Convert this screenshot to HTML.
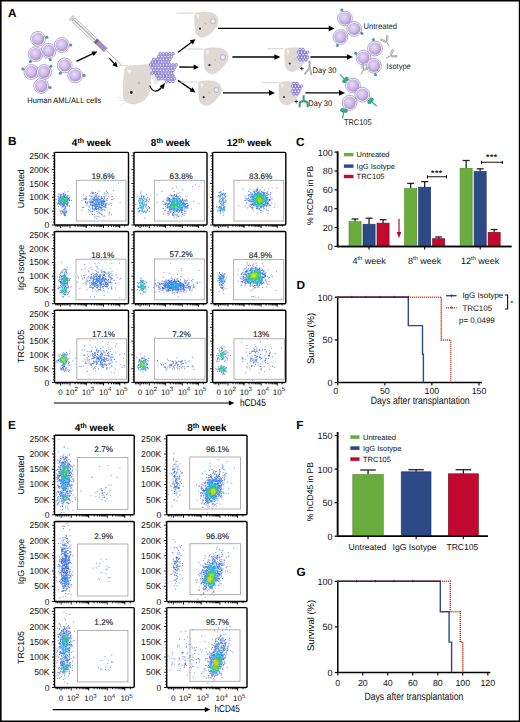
<!DOCTYPE html>
<html><head><meta charset="utf-8"><style>
html,body{margin:0;padding:0;background:#fff;}
body{width:520px;height:722px;overflow:hidden;font-family:"Liberation Sans", sans-serif;}
svg{display:block;}
</style></head><body>
<svg width="520" height="722" viewBox="0 0 520 722" font-family="'Liberation Sans', sans-serif" text-rendering="geometricPrecision">
<rect x="0" y="0" width="520" height="722" fill="#fff"/>
<defs><filter id="bl" x="-5%" y="-5%" width="110%" height="110%"><feGaussianBlur stdDeviation="0.35"/></filter></defs>
<text x="8.0" y="17.0" font-size="11.8" font-weight="bold">A</text>
<text x="8.0" y="145.0" font-size="11.8" font-weight="bold">B</text>
<text x="296.0" y="145.6" font-size="11.8" font-weight="bold">C</text>
<text x="296.6" y="288.6" font-size="11.8" font-weight="bold">D</text>
<text x="8.0" y="428.8" font-size="11.8" font-weight="bold">E</text>
<text x="296.3" y="429.0" font-size="11.8" font-weight="bold">F</text>
<text x="296.6" y="575.6" font-size="11.8" font-weight="bold">G</text>
<defs>
<radialGradient id="cg" cx="0.42" cy="0.4" r="0.62">
<stop offset="0" stop-color="#e8def4"/><stop offset="0.6" stop-color="#cbb6e4"/><stop offset="1" stop-color="#a98ed0"/>
</radialGradient>
</defs>
<circle cx="38" cy="38.8" r="7.4" fill="#fcfbfe" stroke="#9f92c4" stroke-width="0.8"/>
<circle cx="38" cy="38.8" r="6.22" fill="url(#cg)"/>
<line x1="45.3" y1="37.5" x2="46.9" y2="37.2" stroke="#5b8fa8" stroke-width="1.1"/>
<circle cx="46.9" cy="37.2" r="1.5" fill="#5b8fa8"/>
<circle cx="61.8" cy="45" r="7.4" fill="#fcfbfe" stroke="#9f92c4" stroke-width="0.8"/>
<circle cx="61.8" cy="45" r="6.22" fill="url(#cg)"/>
<line x1="69.2" y1="45.0" x2="70.8" y2="45.0" stroke="#5b8fa8" stroke-width="1.1"/>
<circle cx="70.8" cy="45.0" r="1.5" fill="#5b8fa8"/>
<circle cx="48.6" cy="50.8" r="7.4" fill="#fcfbfe" stroke="#9f92c4" stroke-width="0.8"/>
<circle cx="48.6" cy="50.8" r="6.22" fill="url(#cg)"/>
<line x1="49.9" y1="58.1" x2="50.2" y2="59.7" stroke="#5b8fa8" stroke-width="1.1"/>
<circle cx="50.2" cy="59.7" r="1.5" fill="#5b8fa8"/>
<circle cx="35.6" cy="54.2" r="7.4" fill="#fcfbfe" stroke="#9f92c4" stroke-width="0.8"/>
<circle cx="35.6" cy="54.2" r="6.22" fill="url(#cg)"/>
<line x1="31.4" y1="60.3" x2="30.4" y2="61.6" stroke="#5b8fa8" stroke-width="1.1"/>
<circle cx="30.4" cy="61.6" r="1.5" fill="#5b8fa8"/>
<circle cx="64.8" cy="65.4" r="7.4" fill="#fcfbfe" stroke="#9f92c4" stroke-width="0.8"/>
<circle cx="64.8" cy="65.4" r="6.22" fill="url(#cg)"/>
<line x1="61.1" y1="71.8" x2="60.3" y2="73.2" stroke="#5b8fa8" stroke-width="1.1"/>
<circle cx="60.3" cy="73.2" r="1.5" fill="#5b8fa8"/>
<circle cx="31.4" cy="72" r="7.4" fill="#fcfbfe" stroke="#9f92c4" stroke-width="0.8"/>
<circle cx="31.4" cy="72" r="6.22" fill="url(#cg)"/>
<line x1="24.4" y1="69.5" x2="22.9" y2="68.9" stroke="#5b8fa8" stroke-width="1.1"/>
<circle cx="22.9" cy="68.9" r="1.5" fill="#5b8fa8"/>
<circle cx="44" cy="72" r="7.4" fill="#fcfbfe" stroke="#9f92c4" stroke-width="0.8"/>
<circle cx="44" cy="72" r="6.22" fill="url(#cg)"/>
<line x1="49.7" y1="67.2" x2="50.9" y2="66.2" stroke="#5b8fa8" stroke-width="1.1"/>
<circle cx="50.9" cy="66.2" r="1.5" fill="#5b8fa8"/>
<circle cx="75.2" cy="75.4" r="7.4" fill="#fcfbfe" stroke="#9f92c4" stroke-width="0.8"/>
<circle cx="75.2" cy="75.4" r="6.22" fill="url(#cg)"/>
<line x1="82.6" y1="75.4" x2="84.2" y2="75.4" stroke="#5b8fa8" stroke-width="1.1"/>
<circle cx="84.2" cy="75.4" r="1.5" fill="#5b8fa8"/>
<circle cx="41.2" cy="86" r="7.4" fill="#fcfbfe" stroke="#9f92c4" stroke-width="0.8"/>
<circle cx="41.2" cy="86" r="6.22" fill="url(#cg)"/>
<line x1="48.5" y1="87.3" x2="50.1" y2="87.6" stroke="#5b8fa8" stroke-width="1.1"/>
<circle cx="50.1" cy="87.6" r="1.5" fill="#5b8fa8"/>
<text x="27.3" y="103.1" font-size="7.9" fill="#111" textLength="74" lengthAdjust="spacingAndGlyphs">Human AML/ALL cells</text>
<g transform="translate(71.5,17.8) rotate(43.4)"><line x1="47" y1="0" x2="69" y2="0" stroke="#9a9a9a" stroke-width="0.7"/><rect x="2.5" y="-2.4" width="44.5" height="4.8" fill="#fafafa" stroke="#a0a0a0" stroke-width="0.7"/><line x1="0" y1="0" x2="33" y2="0" stroke="#b0b0b0" stroke-width="1.2"/><rect x="-0.5" y="-3" width="1.6" height="6" fill="#e0e0e0" stroke="#a0a0a0" stroke-width="0.5"/><rect x="33" y="-2.3" width="13.8" height="4.6" fill="#a48ac0"/><rect x="33" y="-2.3" width="2.6" height="4.6" fill="#6f5e88"/><rect x="46.5" y="-1.2" width="1.6" height="2.4" fill="#c8c8c8"/></g>
<line x1="76.50" y1="61.30" x2="93.32" y2="53.38" stroke="#000" stroke-width="1.3"/>
<path d="M97.3 51.5L93.7 56.1L91.5 51.4Z" fill="#000"/>
<line x1="109.40" y1="58.40" x2="114.78" y2="64.10" stroke="#000" stroke-width="1.3"/>
<path d="M117.8 67.3L112.3 65.3L116.1 61.7Z" fill="#000"/>
<path d="M146 64.5L153 61L161 80L155 84.5Z" fill="#ebe8e6"/>
<path d="M117 65.5H128" stroke="#dfd9d6" stroke-width="1.2"/>
<path d="M124.5 71C124 67 128 65.5 134 65.5L146 64.8C150.5 65.5 151.5 70 151 76L150 90C148.5 98 142 103 134.5 104C128 104.5 123.8 101 123 96L123.5 80Z" fill="#dfd9d6" stroke="#d0c9c5" stroke-width="0.4"/>
<path d="M127 69L131.5 70.5L129.5 74.5Z" fill="#f6f4f3"/>
<circle cx="131.3" cy="92.5" r="1.4" fill="#222"/>
<circle cx="139" cy="83" r="1.2" fill="#c4b6b4"/>
<path d="M117 97L124 99M118 101L125 100.5M120 104.5L126 102" stroke="#ddd" stroke-width="0.5"/>
<path d="M158.90 53.77a1.3 1.3 0 1 0 2.6 0a1.3 1.3 0 1 0 -2.6 0M162.10 53.77a1.3 1.3 0 1 0 2.6 0a1.3 1.3 0 1 0 -2.6 0M165.30 53.77a1.3 1.3 0 1 0 2.6 0a1.3 1.3 0 1 0 -2.6 0M168.50 53.77a1.3 1.3 0 1 0 2.6 0a1.3 1.3 0 1 0 -2.6 0M171.70 53.77a1.3 1.3 0 1 0 2.6 0a1.3 1.3 0 1 0 -2.6 0M157.30 56.54a1.3 1.3 0 1 0 2.6 0a1.3 1.3 0 1 0 -2.6 0M160.50 56.54a1.3 1.3 0 1 0 2.6 0a1.3 1.3 0 1 0 -2.6 0M163.70 56.54a1.3 1.3 0 1 0 2.6 0a1.3 1.3 0 1 0 -2.6 0M166.90 56.54a1.3 1.3 0 1 0 2.6 0a1.3 1.3 0 1 0 -2.6 0M170.10 56.54a1.3 1.3 0 1 0 2.6 0a1.3 1.3 0 1 0 -2.6 0M152.50 59.31a1.3 1.3 0 1 0 2.6 0a1.3 1.3 0 1 0 -2.6 0M155.70 59.31a1.3 1.3 0 1 0 2.6 0a1.3 1.3 0 1 0 -2.6 0M158.90 59.31a1.3 1.3 0 1 0 2.6 0a1.3 1.3 0 1 0 -2.6 0M162.10 59.31a1.3 1.3 0 1 0 2.6 0a1.3 1.3 0 1 0 -2.6 0M165.30 59.31a1.3 1.3 0 1 0 2.6 0a1.3 1.3 0 1 0 -2.6 0M168.50 59.31a1.3 1.3 0 1 0 2.6 0a1.3 1.3 0 1 0 -2.6 0M150.90 62.08a1.3 1.3 0 1 0 2.6 0a1.3 1.3 0 1 0 -2.6 0M154.10 62.08a1.3 1.3 0 1 0 2.6 0a1.3 1.3 0 1 0 -2.6 0M157.30 62.08a1.3 1.3 0 1 0 2.6 0a1.3 1.3 0 1 0 -2.6 0M160.50 62.08a1.3 1.3 0 1 0 2.6 0a1.3 1.3 0 1 0 -2.6 0M163.70 62.08a1.3 1.3 0 1 0 2.6 0a1.3 1.3 0 1 0 -2.6 0M166.90 62.08a1.3 1.3 0 1 0 2.6 0a1.3 1.3 0 1 0 -2.6 0M149.30 64.86a1.3 1.3 0 1 0 2.6 0a1.3 1.3 0 1 0 -2.6 0M152.50 64.86a1.3 1.3 0 1 0 2.6 0a1.3 1.3 0 1 0 -2.6 0M155.70 64.86a1.3 1.3 0 1 0 2.6 0a1.3 1.3 0 1 0 -2.6 0M158.90 64.86a1.3 1.3 0 1 0 2.6 0a1.3 1.3 0 1 0 -2.6 0M162.10 64.86a1.3 1.3 0 1 0 2.6 0a1.3 1.3 0 1 0 -2.6 0M165.30 64.86a1.3 1.3 0 1 0 2.6 0a1.3 1.3 0 1 0 -2.6 0M168.50 64.86a1.3 1.3 0 1 0 2.6 0a1.3 1.3 0 1 0 -2.6 0M171.70 64.86a1.3 1.3 0 1 0 2.6 0a1.3 1.3 0 1 0 -2.6 0M174.90 64.86a1.3 1.3 0 1 0 2.6 0a1.3 1.3 0 1 0 -2.6 0M150.90 67.63a1.3 1.3 0 1 0 2.6 0a1.3 1.3 0 1 0 -2.6 0M154.10 67.63a1.3 1.3 0 1 0 2.6 0a1.3 1.3 0 1 0 -2.6 0M157.30 67.63a1.3 1.3 0 1 0 2.6 0a1.3 1.3 0 1 0 -2.6 0M160.50 67.63a1.3 1.3 0 1 0 2.6 0a1.3 1.3 0 1 0 -2.6 0M163.70 67.63a1.3 1.3 0 1 0 2.6 0a1.3 1.3 0 1 0 -2.6 0M166.90 67.63a1.3 1.3 0 1 0 2.6 0a1.3 1.3 0 1 0 -2.6 0M170.10 67.63a1.3 1.3 0 1 0 2.6 0a1.3 1.3 0 1 0 -2.6 0M173.30 67.63a1.3 1.3 0 1 0 2.6 0a1.3 1.3 0 1 0 -2.6 0M152.50 70.40a1.3 1.3 0 1 0 2.6 0a1.3 1.3 0 1 0 -2.6 0M155.70 70.40a1.3 1.3 0 1 0 2.6 0a1.3 1.3 0 1 0 -2.6 0M158.90 70.40a1.3 1.3 0 1 0 2.6 0a1.3 1.3 0 1 0 -2.6 0M162.10 70.40a1.3 1.3 0 1 0 2.6 0a1.3 1.3 0 1 0 -2.6 0M165.30 70.40a1.3 1.3 0 1 0 2.6 0a1.3 1.3 0 1 0 -2.6 0M168.50 70.40a1.3 1.3 0 1 0 2.6 0a1.3 1.3 0 1 0 -2.6 0M171.70 70.40a1.3 1.3 0 1 0 2.6 0a1.3 1.3 0 1 0 -2.6 0M150.90 73.17a1.3 1.3 0 1 0 2.6 0a1.3 1.3 0 1 0 -2.6 0M154.10 73.17a1.3 1.3 0 1 0 2.6 0a1.3 1.3 0 1 0 -2.6 0M157.30 73.17a1.3 1.3 0 1 0 2.6 0a1.3 1.3 0 1 0 -2.6 0M160.50 73.17a1.3 1.3 0 1 0 2.6 0a1.3 1.3 0 1 0 -2.6 0M163.70 73.17a1.3 1.3 0 1 0 2.6 0a1.3 1.3 0 1 0 -2.6 0M166.90 73.17a1.3 1.3 0 1 0 2.6 0a1.3 1.3 0 1 0 -2.6 0M170.10 73.17a1.3 1.3 0 1 0 2.6 0a1.3 1.3 0 1 0 -2.6 0M155.70 75.94a1.3 1.3 0 1 0 2.6 0a1.3 1.3 0 1 0 -2.6 0M158.90 75.94a1.3 1.3 0 1 0 2.6 0a1.3 1.3 0 1 0 -2.6 0M162.10 75.94a1.3 1.3 0 1 0 2.6 0a1.3 1.3 0 1 0 -2.6 0M165.30 75.94a1.3 1.3 0 1 0 2.6 0a1.3 1.3 0 1 0 -2.6 0M168.50 75.94a1.3 1.3 0 1 0 2.6 0a1.3 1.3 0 1 0 -2.6 0M171.70 75.94a1.3 1.3 0 1 0 2.6 0a1.3 1.3 0 1 0 -2.6 0M157.30 78.71a1.3 1.3 0 1 0 2.6 0a1.3 1.3 0 1 0 -2.6 0M160.50 78.71a1.3 1.3 0 1 0 2.6 0a1.3 1.3 0 1 0 -2.6 0M163.70 78.71a1.3 1.3 0 1 0 2.6 0a1.3 1.3 0 1 0 -2.6 0M166.90 78.71a1.3 1.3 0 1 0 2.6 0a1.3 1.3 0 1 0 -2.6 0M170.10 78.71a1.3 1.3 0 1 0 2.6 0a1.3 1.3 0 1 0 -2.6 0M173.30 78.71a1.3 1.3 0 1 0 2.6 0a1.3 1.3 0 1 0 -2.6 0M165.30 81.48a1.3 1.3 0 1 0 2.6 0a1.3 1.3 0 1 0 -2.6 0M168.50 81.48a1.3 1.3 0 1 0 2.6 0a1.3 1.3 0 1 0 -2.6 0M171.70 81.48a1.3 1.3 0 1 0 2.6 0a1.3 1.3 0 1 0 -2.6 0" fill="#f2eefb" stroke="#8072d0" stroke-width="0.95"/>
<path d="M149.8 85.6C152 92 157 93 161.5 87.5" stroke="#000" stroke-width="1.2" fill="none"/>
<path d="M165 83L159.6 86.2L163.4 89.2Z" fill="#000"/>
<line x1="178.10" y1="52.30" x2="191.88" y2="41.94" stroke="#000" stroke-width="1.3"/>
<path d="M195.4 39.3L192.8 44.5L189.7 40.3Z" fill="#000"/>
<line x1="179.30" y1="67.00" x2="194.50" y2="67.16" stroke="#000" stroke-width="1.3"/>
<path d="M198.9 67.2L193.7 69.7L193.7 64.5Z" fill="#000"/>
<line x1="178.00" y1="80.40" x2="191.78" y2="89.90" stroke="#000" stroke-width="1.3"/>
<path d="M195.4 92.4L189.6 91.6L192.6 87.3Z" fill="#000"/>
<g transform="translate(185.5,11.7) scale(1.0)"><path d="M-9 1.5H8" stroke="#ddd6d3" stroke-width="1.2"/><path d="M9.5 1.5C16 0 25 -0.5 30 3C34 7 33 13 29 17C26 21 22 24.5 18.5 25.5C14.5 26 11 23.5 10 20C9 14 8.8 7 9.5 1.5Z" fill="#dfd9d6" stroke="#d0c9c5" stroke-width="0.4"/><path d="M11 2.5L14 3.5L12.5 8Z" fill="#f8f6f5"/><circle cx="27.5" cy="9.5" r="2.6" fill="#ebe6e8" stroke="#a49cc4" stroke-width="0.7"/><circle cx="27.5" cy="9.5" r="1.1" fill="#fff"/><circle cx="14.5" cy="17" r="1.1" fill="#333"/><circle cx="20" cy="12" r="0.9" fill="#c7bbb9"/></g>
<g transform="translate(194.5,47.5) scale(1.03)"><path d="M-9 1.5H8" stroke="#ddd6d3" stroke-width="1.2"/><path d="M9.5 1.5C16 0 25 -0.5 30 3C34 7 33 13 29 17C26 21 22 24.5 18.5 25.5C14.5 26 11 23.5 10 20C9 14 8.8 7 9.5 1.5Z" fill="#dfd9d6" stroke="#d0c9c5" stroke-width="0.4"/><path d="M11 2.5L14 3.5L12.5 8Z" fill="#f8f6f5"/><circle cx="27.5" cy="9.5" r="2.6" fill="#ebe6e8" stroke="#a49cc4" stroke-width="0.7"/><circle cx="27.5" cy="9.5" r="1.1" fill="#fff"/><circle cx="14.5" cy="17" r="1.1" fill="#333"/><circle cx="20" cy="12" r="0.9" fill="#c7bbb9"/></g>
<g transform="translate(189.5,80.5) scale(0.98)"><path d="M-9 1.5H8" stroke="#ddd6d3" stroke-width="1.2"/><path d="M9.5 1.5C16 0 25 -0.5 30 3C34 7 33 13 29 17C26 21 22 24.5 18.5 25.5C14.5 26 11 23.5 10 20C9 14 8.8 7 9.5 1.5Z" fill="#dfd9d6" stroke="#d0c9c5" stroke-width="0.4"/><path d="M11 2.5L14 3.5L12.5 8Z" fill="#f8f6f5"/><circle cx="27.5" cy="9.5" r="2.6" fill="#ebe6e8" stroke="#a49cc4" stroke-width="0.7"/><circle cx="27.5" cy="9.5" r="1.1" fill="#fff"/><circle cx="14.5" cy="17" r="1.1" fill="#333"/><circle cx="20" cy="12" r="0.9" fill="#c7bbb9"/></g>
<g transform="translate(276,47.3) scale(0.95)"><path d="M-9 1.5H8" stroke="#ddd6d3" stroke-width="1.2"/><path d="M9.5 1.5C16 0 25 -0.5 30 3C34 7 33 13 29 17C26 21 22 24.5 18.5 25.5C14.5 26 11 23.5 10 20C9 14 8.8 7 9.5 1.5Z" fill="#dfd9d6" stroke="#d0c9c5" stroke-width="0.4"/><path d="M11 2.5L14 3.5L12.5 8Z" fill="#f8f6f5"/><circle cx="14.5" cy="17" r="1.1" fill="#333"/><circle cx="20" cy="12" r="0.9" fill="#c7bbb9"/></g>
<g transform="translate(270.5,81.2) scale(0.93)"><path d="M-9 1.5H8" stroke="#ddd6d3" stroke-width="1.2"/><path d="M9.5 1.5C16 0 25 -0.5 30 3C34 7 33 13 29 17C26 21 22 24.5 18.5 25.5C14.5 26 11 23.5 10 20C9 14 8.8 7 9.5 1.5Z" fill="#dfd9d6" stroke="#d0c9c5" stroke-width="0.4"/><path d="M11 2.5L14 3.5L12.5 8Z" fill="#f8f6f5"/><circle cx="14.5" cy="17" r="1.1" fill="#333"/><circle cx="20" cy="12" r="0.9" fill="#c7bbb9"/></g>
<path d="M298.70 49.50a1.3 1.3 0 1 0 2.6 0a1.3 1.3 0 1 0 -2.6 0M301.70 49.50a1.3 1.3 0 1 0 2.6 0a1.3 1.3 0 1 0 -2.6 0M297.20 52.10a1.3 1.3 0 1 0 2.6 0a1.3 1.3 0 1 0 -2.6 0M300.20 52.10a1.3 1.3 0 1 0 2.6 0a1.3 1.3 0 1 0 -2.6 0M303.20 52.10a1.3 1.3 0 1 0 2.6 0a1.3 1.3 0 1 0 -2.6 0M306.20 52.10a1.3 1.3 0 1 0 2.6 0a1.3 1.3 0 1 0 -2.6 0M298.70 54.70a1.3 1.3 0 1 0 2.6 0a1.3 1.3 0 1 0 -2.6 0M301.70 54.70a1.3 1.3 0 1 0 2.6 0a1.3 1.3 0 1 0 -2.6 0M304.70 54.70a1.3 1.3 0 1 0 2.6 0a1.3 1.3 0 1 0 -2.6 0M297.20 57.30a1.3 1.3 0 1 0 2.6 0a1.3 1.3 0 1 0 -2.6 0M300.20 57.30a1.3 1.3 0 1 0 2.6 0a1.3 1.3 0 1 0 -2.6 0M303.20 57.30a1.3 1.3 0 1 0 2.6 0a1.3 1.3 0 1 0 -2.6 0M306.20 57.30a1.3 1.3 0 1 0 2.6 0a1.3 1.3 0 1 0 -2.6 0M298.70 59.90a1.3 1.3 0 1 0 2.6 0a1.3 1.3 0 1 0 -2.6 0M301.70 59.90a1.3 1.3 0 1 0 2.6 0a1.3 1.3 0 1 0 -2.6 0M304.70 59.90a1.3 1.3 0 1 0 2.6 0a1.3 1.3 0 1 0 -2.6 0" fill="#f2eefb" stroke="#8072d0" stroke-width="0.9"/>
<path d="M292.70 83.50a1.3 1.3 0 1 0 2.6 0a1.3 1.3 0 1 0 -2.6 0M295.70 83.50a1.3 1.3 0 1 0 2.6 0a1.3 1.3 0 1 0 -2.6 0M291.20 86.10a1.3 1.3 0 1 0 2.6 0a1.3 1.3 0 1 0 -2.6 0M294.20 86.10a1.3 1.3 0 1 0 2.6 0a1.3 1.3 0 1 0 -2.6 0M297.20 86.10a1.3 1.3 0 1 0 2.6 0a1.3 1.3 0 1 0 -2.6 0M300.20 86.10a1.3 1.3 0 1 0 2.6 0a1.3 1.3 0 1 0 -2.6 0M292.70 88.70a1.3 1.3 0 1 0 2.6 0a1.3 1.3 0 1 0 -2.6 0M295.70 88.70a1.3 1.3 0 1 0 2.6 0a1.3 1.3 0 1 0 -2.6 0M298.70 88.70a1.3 1.3 0 1 0 2.6 0a1.3 1.3 0 1 0 -2.6 0M291.20 91.30a1.3 1.3 0 1 0 2.6 0a1.3 1.3 0 1 0 -2.6 0M294.20 91.30a1.3 1.3 0 1 0 2.6 0a1.3 1.3 0 1 0 -2.6 0M297.20 91.30a1.3 1.3 0 1 0 2.6 0a1.3 1.3 0 1 0 -2.6 0M292.70 93.90a1.3 1.3 0 1 0 2.6 0a1.3 1.3 0 1 0 -2.6 0M295.70 93.90a1.3 1.3 0 1 0 2.6 0a1.3 1.3 0 1 0 -2.6 0" fill="#f2eefb" stroke="#8072d0" stroke-width="0.9"/>
<line x1="218.00" y1="28.40" x2="329.20" y2="28.40" stroke="#000" stroke-width="1.3"/>
<path d="M334.7 28.4L328.7 25.6L328.7 31.2Z" fill="#000"/>
<line x1="232.40" y1="57.00" x2="274.90" y2="57.00" stroke="#000" stroke-width="1.3"/>
<path d="M280.4 57.0L274.4 54.2L274.4 59.8Z" fill="#000"/>
<line x1="310.50" y1="57.00" x2="347.50" y2="57.00" stroke="#000" stroke-width="1.3"/>
<path d="M353.0 57.0L347.0 54.2L347.0 59.8Z" fill="#000"/>
<line x1="223.00" y1="92.90" x2="269.50" y2="92.90" stroke="#000" stroke-width="1.3"/>
<path d="M275.0 92.9L269.0 90.1L269.0 95.7Z" fill="#000"/>
<line x1="305.40" y1="92.90" x2="339.50" y2="92.90" stroke="#000" stroke-width="1.3"/>
<path d="M345.0 92.9L339.0 90.1L339.0 95.7Z" fill="#000"/>
<path d="M300 68.6H303.6M301.8 66.8V70.4" stroke="#222" stroke-width="0.9"/>
<path d="M309.6 61.5V67.8M309.4 67.8L305 73.8M309.8 67.8L311.4 74.3" stroke="#a4a4a4" stroke-width="1.9" stroke-linecap="round" fill="none"/>
<path d="M309.4 68.2L305.4 73.6M309.8 68.2L311.2 73.9" stroke="#d4d4d4" stroke-width="0.6" fill="none"/>
<text x="312.6" y="72.5" font-size="8.2" fill="#111" textLength="23.8" lengthAdjust="spacingAndGlyphs">Day 30</text>
<path d="M294.4 101.5H298M296.2 99.7V103.3" stroke="#222" stroke-width="0.9"/>
<path d="M299.6 107.2V104C299.6 100.2 307.6 100.2 307.6 104V107.2M303.6 101.2V95.2" stroke="#3a9c80" stroke-width="2.1" fill="none"/>
<text x="308.3" y="105.6" font-size="8.2" fill="#111" textLength="23.8" lengthAdjust="spacingAndGlyphs">Day 30</text>
<circle cx="345" cy="18.5" r="7.4" fill="#fcfbfe" stroke="#9f92c4" stroke-width="0.8"/>
<circle cx="345" cy="18.5" r="6.22" fill="url(#cg)"/>
<line x1="342.5" y1="11.5" x2="341.9" y2="10.0" stroke="#5b8fa8" stroke-width="1.1"/>
<circle cx="341.9" cy="10.0" r="1.5" fill="#5b8fa8"/>
<circle cx="354.2" cy="28.9" r="7.4" fill="#fcfbfe" stroke="#9f92c4" stroke-width="0.8"/>
<circle cx="354.2" cy="28.9" r="6.22" fill="url(#cg)"/>
<line x1="360.6" y1="32.6" x2="362.0" y2="33.4" stroke="#5b8fa8" stroke-width="1.1"/>
<circle cx="362.0" cy="33.4" r="1.5" fill="#5b8fa8"/>
<circle cx="340.4" cy="37" r="7.4" fill="#fcfbfe" stroke="#9f92c4" stroke-width="0.8"/>
<circle cx="340.4" cy="37" r="6.22" fill="url(#cg)"/>
<line x1="337.9" y1="44.0" x2="337.3" y2="45.5" stroke="#5b8fa8" stroke-width="1.1"/>
<circle cx="337.3" cy="45.5" r="1.5" fill="#5b8fa8"/>
<text x="363.5" y="29.2" font-size="8.2" fill="#222" textLength="33.5" lengthAdjust="spacingAndGlyphs">Untreated</text>
<circle cx="375" cy="48.5" r="7.4" fill="#fcfbfe" stroke="#9f92c4" stroke-width="0.8"/>
<circle cx="375" cy="48.5" r="6.22" fill="url(#cg)"/>
<line x1="373.7" y1="41.2" x2="373.4" y2="39.6" stroke="#5b8fa8" stroke-width="1.1"/>
<circle cx="373.4" cy="39.6" r="1.5" fill="#5b8fa8"/>
<circle cx="363.5" cy="57.7" r="7.4" fill="#fcfbfe" stroke="#9f92c4" stroke-width="0.8"/>
<circle cx="363.5" cy="57.7" r="6.22" fill="url(#cg)"/>
<line x1="357.1" y1="54.0" x2="355.7" y2="53.2" stroke="#5b8fa8" stroke-width="1.1"/>
<circle cx="355.7" cy="53.2" r="1.5" fill="#5b8fa8"/>
<circle cx="373.9" cy="65.8" r="7.4" fill="#fcfbfe" stroke="#9f92c4" stroke-width="0.8"/>
<circle cx="373.9" cy="65.8" r="6.22" fill="url(#cg)"/>
<line x1="375.2" y1="73.1" x2="375.5" y2="74.7" stroke="#5b8fa8" stroke-width="1.1"/>
<circle cx="375.5" cy="74.7" r="1.5" fill="#5b8fa8"/>
<g transform="translate(389,46) rotate(-30) scale(1.1)" stroke="#a8a8a8" stroke-width="0.9" fill="none" stroke-linecap="round"><path d="M0 0V-4.5M0 -4.5L-3 -9.5M0 -4.5L3 -9.5M-1.4 -4.6L-4 -8.8M1.4 -4.6L4 -8.8"/></g>
<g transform="translate(386.5,58) rotate(60) scale(1.1)" stroke="#a8a8a8" stroke-width="0.9" fill="none" stroke-linecap="round"><path d="M0 0V-4.5M0 -4.5L-3 -9.5M0 -4.5L3 -9.5M-1.4 -4.6L-4 -8.8M1.4 -4.6L4 -8.8"/></g>
<g transform="translate(361,74) rotate(30) scale(1.1)" stroke="#a8a8a8" stroke-width="0.9" fill="none" stroke-linecap="round"><path d="M0 0V-4.5M0 -4.5L-3 -9.5M0 -4.5L3 -9.5M-1.4 -4.6L-4 -8.8M1.4 -4.6L4 -8.8"/></g>
<text x="386.6" y="69.3" font-size="8.2" fill="#222" textLength="24.2" lengthAdjust="spacingAndGlyphs">Isotype</text>
<circle cx="353" cy="85.5" r="7.4" fill="#fcfbfe" stroke="#9f92c4" stroke-width="0.8"/>
<circle cx="353" cy="85.5" r="6.22" fill="url(#cg)"/>
<circle cx="362.3" cy="94.7" r="7.4" fill="#fcfbfe" stroke="#9f92c4" stroke-width="0.8"/>
<circle cx="362.3" cy="94.7" r="6.22" fill="url(#cg)"/>
<circle cx="349.6" cy="102.8" r="7.4" fill="#fcfbfe" stroke="#9f92c4" stroke-width="0.8"/>
<circle cx="349.6" cy="102.8" r="6.22" fill="url(#cg)"/>
<line x1="345.50" y1="80.00" x2="339.84" y2="74.34" stroke="#3aa58a" stroke-width="1.2"/>
<circle cx="346.6" cy="78.9" r="2.2" fill="#3aa58a"/>
<circle cx="344.4" cy="81.1" r="2.2" fill="#3aa58a"/>
<circle cx="345.5" cy="80.0" r="1.2" fill="#5b8fa8"/>
<line x1="370.50" y1="100.80" x2="376.63" y2="105.94" stroke="#3aa58a" stroke-width="1.2"/>
<circle cx="369.5" cy="102.0" r="2.2" fill="#3aa58a"/>
<circle cx="371.5" cy="99.6" r="2.2" fill="#3aa58a"/>
<circle cx="370.5" cy="100.8" r="1.2" fill="#5b8fa8"/>
<line x1="344.00" y1="110.50" x2="342.61" y2="118.38" stroke="#3aa58a" stroke-width="1.2"/>
<circle cx="342.4" cy="110.2" r="2.2" fill="#3aa58a"/>
<circle cx="345.6" cy="110.8" r="2.2" fill="#3aa58a"/>
<circle cx="344.0" cy="110.5" r="1.2" fill="#5b8fa8"/>
<text x="343.9" y="124.6" font-size="8.2" fill="#222" textLength="27.7" lengthAdjust="spacingAndGlyphs">TRC105</text>
<text x="91.5" y="146.4" font-size="10" font-weight="bold" text-anchor="middle">4<tspan dy="-3.8" font-size="6.9">th</tspan><tspan dy="3.8"> week</tspan></text>
<text x="170.5" y="146.4" font-size="10" font-weight="bold" text-anchor="middle">8<tspan dy="-3.8" font-size="6.9">th</tspan><tspan dy="3.8"> week</tspan></text>
<text x="249.2" y="146.4" font-size="10" font-weight="bold" text-anchor="middle">12<tspan dy="-3.8" font-size="6.9">th</tspan><tspan dy="3.8"> week</tspan></text>
<text transform="translate(23.8,188.7) rotate(-90)" x="0" y="0" font-size="8.9" text-anchor="middle">Untreated</text>
<text transform="translate(23.8,267.6) rotate(-90)" x="0" y="0" font-size="8.9" text-anchor="middle">IgG Isotype</text>
<text transform="translate(23.8,346.4) rotate(-90)" x="0" y="0" font-size="8.9" text-anchor="middle">TRC105</text>
<g filter="url(#bl)">
<path d="M67.6 191.4h1M81.5 210.3h1M98.7 191.2h1M111.5 196.4h1M111.1 214.4h1M81.8 207.3h1M89.1 214.5h1M103.9 192.9h1M83.3 207.3h1M111.3 203.6h1M113.2 198.8h1M95.9 218.7h1M103.4 216.8h1M98.5 217.0h1M103.9 216.0h1M106.1 191.5h1M87.7 212.5h1M94.0 217.2h1M108.5 214.3h1M111.3 199.7h1M119.6 202.8h1M118.1 183.1h1M90.5 196.4h1M110.9 205.5h1M82.7 207.6h1M113.0 190.4h1M88.9 207.5h1M82.9 194.9h1M81.5 200.5h1M98.7 201.6h1M95.0 206.9h1M104.4 194.1h1M102.9 204.4h1M99.4 206.9h1M111.8 196.3h1M108.2 196.2h1M106.2 200.1h1" stroke="#5d7ce0" stroke-opacity="0.85" fill="none"/>
<path d="M71.0 200.4h1M57.9 206.3h1M64.5 192.1h1M55.8 199.2h1M69.0 206.0h1M65.3 208.7h1M63.9 208.6h1M69.5 196.3h1M58.5 193.8h1M68.6 206.0h1M58.3 194.1h1M65.0 206.5h1M63.3 206.9h1M93.8 214.5h1M107.8 193.7h1M111.7 199.6h1M108.6 212.8h1M106.8 198.5h1M109.0 212.9h1M109.6 202.9h1M85.5 205.9h1M92.1 214.6h1M97.3 216.7h1M95.5 216.9h1M109.4 204.1h1M107.0 192.6h1M102.1 214.9h1M87.9 209.5h1M89.2 195.9h1M85.8 196.5h1M106.2 193.9h1M105.6 195.8h1M101.1 214.7h1M107.9 205.0h1M91.5 213.2h1M95.0 192.5h1M97.0 193.6h1M104.4 210.2h1M106.6 200.5h1M88.7 210.8h1M97.5 213.3h1M90.5 193.2h1M83.2 199.0h1M88.6 206.3h1M100.4 213.1h1M106.4 199.0h1" stroke="#5678e0" stroke-opacity="0.85" fill="none"/>
<path d="M61.5 207.8h1M57.0 203.9h1M64.8 207.9h1M57.6 196.2h1M64.9 207.4h1M59.5 211.3h1M104.1 209.9h1M99.6 213.7h1M91.4 192.2h1M103.3 196.2h1M90.6 195.9h1M87.6 205.1h1M89.3 210.6h1M89.8 209.0h1M98.9 213.2h1M85.6 203.8h1M90.5 211.5h1M104.2 196.8h1M90.9 196.4h1M97.2 212.0h1M92.0 192.4h1M85.0 201.6h1M98.5 212.3h1M85.2 202.5h1M83.8 199.0h1M92.1 211.5h1M88.9 199.8h1M85.4 202.5h1M86.1 198.6h1M96.0 194.2h1M93.1 192.9h1M93.4 193.1h1M84.7 198.0h1M91.9 211.2h1M91.7 193.6h1M86.5 203.3h1M92.3 193.7h1M96.2 211.3h1M92.2 196.1h1M85.8 199.2h1M87.1 201.9h1M87.0 203.1h1M106.5 203.4h1M90.1 199.0h1M85.1 198.5h1M98.7 196.1h1" stroke="#5074df" stroke-opacity="0.85" fill="none"/>
<path d="M67.1 205.9h1M66.6 206.2h1M57.7 196.6h1M69.1 197.5h1M67.5 195.7h1M63.3 193.5h1M65.3 194.2h1M67.6 196.1h1M60.8 213.9h1M64.3 209.0h1M65.2 215.9h1M60.6 213.2h1M102.2 210.0h1M84.8 199.4h1M85.2 199.4h1M94.6 194.6h1M100.7 210.6h1M105.4 207.4h1M105.1 207.7h1M104.1 198.0h1M102.5 209.5h1M98.0 196.1h1M91.8 209.9h1M100.7 196.9h1M103.9 198.2h1M88.7 201.4h1M100.7 210.1h1M98.3 196.6h1M100.7 197.0h1M105.9 205.1h1M95.8 195.7h1M93.6 210.3h1M94.1 196.2h1" stroke="#4970df" stroke-opacity="0.85" fill="none"/>
<path d="M59.8 194.8h1M69.3 200.3h1M61.5 206.4h1M62.5 193.9h1M61.3 194.3h1M69.0 200.5h1M60.8 194.6h1M60.5 205.7h1M69.0 199.9h1M58.1 203.5h1M58.2 203.6h1M66.7 195.8h1M60.5 211.3h1M66.5 211.8h1M63.2 209.5h1M61.3 210.7h1M65.4 210.5h1M92.0 208.6h1M104.3 207.1h1M95.2 196.0h1M91.9 208.1h1M90.1 205.0h1M96.3 196.2h1M90.6 205.8h1M105.5 203.2h1M104.4 206.6h1M89.3 202.6h1M98.1 209.8h1M93.7 209.8h1M90.2 204.6h1M105.1 205.6h1M91.9 207.5h1M91.6 199.0h1M104.5 206.2h1M89.5 202.1h1M102.4 207.6h1M99.3 209.4h1M91.6 199.2h1M105.2 204.2h1M104.7 205.7h1M94.8 196.8h1M101.6 198.0h1M103.6 199.3h1M103.3 206.6h1M101.2 208.6h1" stroke="#426cde" stroke-opacity="0.85" fill="none"/>
<path d="M60.0 195.3h1M64.8 194.5h1M67.9 202.9h1M63.0 194.2h1M66.7 204.6h1M62.0 206.2h1M57.9 200.2h1M63.4 206.2h1M58.2 198.3h1M62.6 206.2h1M59.6 204.6h1M66.1 204.9h1M58.0 200.8h1M59.5 196.1h1M59.3 204.2h1M68.4 198.7h1M64.8 215.4h1M64.1 215.5h1M65.9 211.3h1M64.3 210.0h1M62.5 210.3h1M63.5 214.9h1M104.9 204.7h1M93.6 197.6h1M92.5 198.5h1M101.8 198.3h1M93.3 208.8h1M90.6 200.7h1M101.1 198.2h1M90.9 205.1h1M89.9 202.1h1M93.6 197.7h1M101.4 198.4h1M100.7 208.7h1M92.2 206.8h1M95.9 197.2h1M100.8 198.4h1M97.2 197.7h1M90.2 202.7h1M101.7 206.9h1M90.5 203.4h1M104.2 200.7h1M100.8 208.1h1M96.2 209.5h1M94.2 208.8h1M95.3 209.4h1" stroke="#3c69de" stroke-opacity="0.85" fill="none"/>
<path d="M63.5 206.0h1M67.4 203.0h1M58.3 202.3h1M58.5 202.7h1M58.7 197.6h1M68.2 198.8h1M67.2 203.3h1M65.1 195.3h1M67.9 198.3h1M61.9 211.6h1M65.6 212.6h1M64.0 214.7h1M65.4 212.5h1M103.0 199.7h1M96.0 209.3h1M104.4 201.5h1M92.3 205.9h1M100.8 207.2h1M97.7 198.5h1M101.7 205.8h1M92.3 205.8h1M97.9 208.6h1M90.8 201.9h1M104.2 201.5h1M96.2 209.1h1M95.6 198.1h1M92.4 205.7h1M104.2 201.8h1M94.6 208.6h1M100.2 207.6h1M93.3 199.2h1M98.9 199.3h1M103.9 203.9h1M99.7 199.4h1M92.1 204.8h1M99.5 207.9h1M94.1 198.7h1M101.5 205.3h1M95.2 208.8h1M98.2 199.2h1M104.0 201.5h1M101.6 205.1h1M99.1 207.7h1M91.6 201.5h1M99.4 199.7h1M99.5 199.7h1" stroke="#3971e0" stroke-opacity="0.85" fill="none"/>
<path d="M63.6 205.6h1M59.7 203.9h1M66.3 204.1h1M68.0 199.9h1M66.9 203.3h1M59.4 203.5h1M67.7 198.7h1M66.9 203.2h1M60.8 195.9h1M67.2 197.9h1M63.3 205.4h1M58.6 200.2h1M65.9 204.1h1M63.3 195.1h1M64.6 214.3h1M62.3 212.9h1M64.7 214.1h1M65.2 212.8h1M64.3 211.4h1M62.5 212.0h1M62.6 211.9h1M103.3 204.1h1M93.3 199.7h1M96.4 208.6h1M97.3 198.9h1M99.5 207.4h1M99.8 207.0h1M98.3 207.8h1M93.5 199.6h1M96.4 208.6h1M97.7 208.0h1M100.8 205.1h1M92.1 201.2h1M91.7 202.3h1M91.7 202.2h1M91.9 203.0h1M91.8 202.9h1M98.9 200.2h1M92.1 201.6h1M95.4 208.3h1M98.8 207.2h1M92.6 201.2h1M96.8 199.1h1M93.0 200.8h1M92.9 205.2h1M100.8 200.1h1M101.3 204.6h1M95.2 208.1h1M100.1 200.2h1M97.0 199.3h1M102.7 200.6h1M94.1 199.8h1M98.9 206.6h1M99.0 206.1h1M92.6 202.2h1M92.6 202.7h1M94.2 199.9h1M95.1 207.6h1M93.1 202.1h1M98.8 206.0h1M97.7 200.5h1M95.0 199.4h1M94.0 206.3h1M98.5 202.0h1M100.0 204.2h1M94.2 200.5h1M102.9 203.6h1M96.2 199.4h1M100.6 204.2h1M98.4 202.3h1M96.0 199.4h1M93.7 205.6h1M103.1 203.3h1" stroke="#3679e2" stroke-opacity="0.85" fill="none"/>
<path d="M63.0 195.2h1M58.8 199.4h1M63.9 195.3h1M61.3 204.7h1M59.7 197.2h1M66.5 197.3h1M58.8 201.0h1M67.4 201.2h1M60.3 196.6h1M60.1 196.9h1M67.4 199.3h1M67.4 199.7h1M59.3 198.3h1M67.0 202.1h1M63.5 213.5h1M63.3 211.9h1M64.1 213.6h1M64.3 212.2h1M63.4 213.1h1M63.5 212.6h1M102.5 200.7h1M93.3 204.3h1M93.4 203.8h1M98.8 204.5h1M95.5 199.6h1M99.1 202.7h1M95.3 199.7h1M97.1 200.7h1M98.8 204.3h1M99.7 201.5h1M102.6 200.9h1M98.3 202.9h1M98.0 206.2h1M97.0 201.3h1M95.0 202.1h1M103.4 202.2h1M93.7 203.6h1M103.2 201.6h1M95.1 201.1h1M95.1 201.2h1M98.4 203.4h1M98.6 204.0h1M97.0 202.2h1M96.7 201.1h1M102.7 203.4h1M96.5 200.3h1M101.9 203.8h1M94.9 206.8h1M103.2 202.8h1M101.4 200.7h1M96.3 201.2h1M100.6 201.0h1M98.3 204.6h1M95.9 200.3h1M95.7 202.4h1M103.2 201.9h1M97.5 203.0h1M101.3 203.6h1M95.9 207.0h1M96.1 207.0h1M94.9 203.2h1M96.7 206.6h1M100.3 202.7h1M101.0 203.4h1M96.7 206.5h1M94.5 203.6h1M94.3 205.5h1M100.9 201.4h1M96.3 206.6h1M95.7 203.1h1M94.3 205.1h1M100.5 202.3h1M97.5 204.4h1M95.2 206.3h1M97.4 205.1h1M96.2 203.3h1M101.5 201.4h1" stroke="#3382e5" stroke-opacity="0.85" fill="none"/>
<path d="M62.5 204.9h1M60.8 204.0h1M59.4 198.3h1M60.6 203.7h1M65.7 196.9h1M67.2 200.5h1M66.0 203.4h1M59.5 202.2h1M66.6 198.3h1M66.3 197.8h1M59.4 198.9h1M59.2 199.8h1M59.3 201.2h1M63.8 195.8h1M64.0 195.9h1M59.9 197.8h1M66.3 197.9h1M62.4 204.6h1M60.9 203.6h1M59.6 201.9h1M62.3 204.5h1M94.6 204.5h1M96.1 203.6h1M100.9 202.2h1M96.9 204.3h1M96.9 205.1h1M94.7 204.6h1M102.4 202.1h1M94.8 205.1h1M101.3 201.9h1M96.1 204.0h1M101.4 202.5h1M95.9 205.7h1M96.6 204.6h1M102.1 202.1h1M95.0 204.9h1M101.8 202.3h1M96.1 204.5h1M95.6 205.1h1" stroke="#308ae7" stroke-opacity="0.85" fill="none"/>
<path d="M59.4 199.4h1M66.8 201.5h1M62.5 195.9h1M64.0 204.4h1M65.9 197.5h1M64.9 204.0h1M66.7 199.2h1M62.3 204.3h1M60.3 202.7h1M61.6 196.4h1M65.9 197.7h1M60.0 202.3h1M66.7 199.4h1M60.0 202.2h1M59.6 200.5h1M59.7 201.3h1M65.0 203.7h1" stroke="#2e92ea" stroke-opacity="0.85" fill="none"/>
<path d="M63.4 196.1h1M65.4 197.3h1M61.5 196.7h1M60.2 202.1h1M60.3 202.1h1M66.3 201.7h1M60.1 198.5h1M60.4 198.0h1M59.9 200.8h1M61.1 203.0h1M61.1 203.0h1M63.3 204.0h1M63.3 204.0h1M62.0 203.6h1" stroke="#2a9de6" stroke-opacity="0.85" fill="none"/>
<path d="M63.2 204.0h1M65.0 197.3h1M66.3 201.0h1M60.0 200.8h1M62.0 203.5h1M66.3 200.5h1M65.5 202.8h1M60.5 198.2h1M63.4 203.9h1M63.4 196.5h1M66.0 199.2h1M63.5 203.7h1M61.1 202.5h1" stroke="#26aadf" stroke-opacity="0.85" fill="none"/>
<path d="M60.4 198.8h1M64.0 196.9h1M60.3 200.7h1M66.0 201.4h1M66.1 200.7h1M65.9 199.6h1M61.2 197.8h1M63.7 196.9h1M65.3 202.5h1M63.8 197.0h1M64.7 197.7h1M65.1 198.4h1M64.4 197.5h1M62.8 203.3h1M61.5 197.7h1" stroke="#22b6d8" stroke-opacity="0.85" fill="none"/>
<path d="M63.3 203.4h1M63.7 197.1h1M65.8 200.3h1M63.2 203.3h1M63.3 203.3h1M62.9 197.1h1M62.5 197.2h1M62.4 197.2h1M61.0 198.5h1M60.9 198.9h1M62.9 203.1h1M62.8 197.2h1M63.6 197.3h1M60.8 199.3h1" stroke="#1ec3d2" stroke-opacity="0.85" fill="none"/>
<path d="M64.2 202.9h1M62.0 197.6h1M63.3 197.3h1M65.4 201.4h1M63.4 203.0h1M63.6 203.0h1M63.5 197.4h1M64.9 202.2h1M60.9 200.0h1M65.3 200.0h1M63.2 197.5h1M62.3 197.7h1M61.1 200.8h1M64.2 198.1h1M61.6 201.7h1M64.0 202.7h1M65.1 201.7h1M63.4 197.6h1" stroke="#24c3af" stroke-opacity="0.85" fill="none"/>
<path d="M61.6 198.5h1M63.7 197.8h1M65.2 201.2h1M65.2 200.6h1M62.9 197.7h1M62.9 197.7h1M64.8 201.8h1M64.5 202.2h1M62.5 197.9h1M64.3 202.3h1M64.1 198.4h1M64.5 199.1h1M64.0 198.3h1M62.6 198.0h1M61.3 199.9h1" stroke="#2bc38c" stroke-opacity="0.85" fill="none"/>
<path d="M63.9 202.3h1M63.2 202.4h1M64.9 201.2h1M64.9 200.6h1M61.4 200.1h1M61.7 201.0h1M61.6 200.6h1M61.9 198.9h1M63.2 198.3h1M64.0 202.0h1M61.7 200.3h1" stroke="#32c369" stroke-opacity="0.85" fill="none"/>
<path d="M61.7 199.7h1M62.3 198.7h1M61.8 200.5h1M63.4 202.0h1M64.6 200.2h1M61.9 199.4h1M62.0 200.7h1M62.1 199.3h1M63.7 199.0h1M64.5 200.6h1M64.0 199.4h1M64.1 201.5h1M62.2 200.9h1M62.8 198.9h1" stroke="#3fc450" stroke-opacity="0.85" fill="none"/>
<path d="M64.3 200.3h1M62.7 201.4h1M64.3 200.9h1M64.2 201.2h1M62.1 200.0h1M63.2 199.0h1M63.7 201.5h1M62.6 199.1h1M62.7 199.1h1M62.7 201.1h1M64.1 201.0h1M64.1 200.9h1M64.2 200.4h1M62.2 199.8h1M64.2 200.8h1M62.2 200.2h1M63.3 199.2h1M62.8 201.2h1M64.0 200.1h1M62.5 200.9h1M62.3 200.0h1M63.3 201.4h1M63.9 201.2h1M63.7 201.2h1M64.0 200.7h1M63.2 201.3h1M62.4 199.7h1M63.3 201.2h1M63.1 201.2h1M63.4 199.5h1M62.9 201.1h1M63.9 200.4h1" stroke="#54c843" stroke-opacity="0.85" fill="none"/>
<path d="M63.0 199.5h1M62.9 199.6h1M62.6 200.4h1M62.6 200.3h1M63.5 200.8h1M62.9 200.3h1M63.1 200.7h1M63.2 200.1h1" stroke="#68cd37" stroke-opacity="0.85" fill="none"/>
</g>
<rect x="76.5" y="180.3" width="49.5" height="40.7" fill="none" stroke="#a8a8a8" stroke-width="0.9"/>
<text x="103.0" y="178.6" font-size="8.2" text-anchor="middle" fill="#222" stroke="#222" stroke-width="0.12">19.6%</text>
<rect x="54.50" y="152.40" width="74.00" height="72.60" rx="1" fill="none" stroke="#000" stroke-width="1.4"/>
<path d="M54.50 225.00h-2.6M54.50 222.23h-1.4M54.50 219.46h-1.4M54.50 216.69h-1.4M54.50 213.92h-1.4M54.50 211.15h-2.6M54.50 208.38h-1.4M54.50 205.61h-1.4M54.50 202.84h-1.4M54.50 200.07h-1.4M54.50 197.31h-2.6M54.50 194.54h-1.4M54.50 191.77h-1.4M54.50 189.00h-1.4M54.50 186.23h-1.4M54.50 183.46h-2.6M54.50 180.69h-1.4M54.50 177.92h-1.4M54.50 175.15h-1.4M54.50 172.38h-1.4M54.50 169.61h-2.6M54.50 166.84h-1.4M54.50 164.07h-1.4M54.50 161.30h-1.4M54.50 158.53h-1.4M54.50 155.76h-2.6M54.50 152.99h-1.4" stroke="#000" stroke-width="0.9" fill="none"/>
<text x="49.3" y="228.0" font-size="8.6" text-anchor="end" fill="#111">0</text>
<text x="49.3" y="214.2" font-size="8.6" text-anchor="end" fill="#111">50K</text>
<text x="49.3" y="200.3" font-size="8.6" text-anchor="end" fill="#111">100K</text>
<text x="49.3" y="186.5" font-size="8.6" text-anchor="end" fill="#111">150K</text>
<text x="49.3" y="172.6" font-size="8.6" text-anchor="end" fill="#111">200K</text>
<text x="49.3" y="158.8" font-size="8.6" text-anchor="end" fill="#111">250K</text>
<path d="M60.61 225.00v3M70.00 225.00v3M86.25 225.00v3M103.49 225.00v3M119.77 225.00v3M75.05 225.00v1.8M78.00 225.00v1.8M80.09 225.00v1.8M81.72 225.00v1.8M83.05 225.00v1.8M84.17 225.00v1.8M85.14 225.00v1.8M86.00 225.00v1.8M91.29 225.00v1.8M94.24 225.00v1.8M96.34 225.00v1.8M97.96 225.00v1.8M99.29 225.00v1.8M100.41 225.00v1.8M101.38 225.00v1.8M102.24 225.00v1.8M108.53 225.00v1.8M111.49 225.00v1.8M113.58 225.00v1.8M115.20 225.00v1.8M116.53 225.00v1.8M117.65 225.00v1.8M118.62 225.00v1.8M119.48 225.00v1.8M124.81 225.00v1.8M55.98 225.00v1.8M57.46 225.00v1.8M58.94 225.00v1.8M62.27 225.00v1.8M64.12 225.00v1.8M65.97 225.00v1.8M67.82 225.00v1.8" stroke="#000" stroke-width="0.9" fill="none"/>
<g filter="url(#bl)">
<path d="M143.9 217.9h1M156.5 202.3h1M172.4 188.5h1M191.1 209.0h1M185.4 196.5h1M173.8 191.5h1M179.3 192.3h1M163.0 201.2h1M182.4 203.5h1M161.9 201.2h1M176.2 187.0h1M182.2 189.4h1M173.9 217.3h1M198.5 203.6h1M193.2 201.4h1M161.3 191.6h1M156.7 194.8h1M162.7 214.1h1M167.7 215.3h1M199.3 186.5h1M191.9 186.9h1" stroke="#5d7ce0" stroke-opacity="0.85" fill="none"/>
<path d="M135.4 204.5h1M146.0 194.6h1M136.5 196.8h1M140.4 192.0h1M181.4 216.2h1M162.5 208.6h1M162.9 208.4h1M183.6 215.3h1M177.6 193.5h1M164.1 211.0h1M176.3 217.2h1M184.7 213.4h1M164.3 210.6h1M178.5 216.2h1M178.1 216.6h1M185.6 211.2h1M168.6 214.4h1M165.0 210.3h1M169.7 194.9h1M167.0 213.3h1M182.1 214.5h1M163.4 204.5h1M180.3 196.7h1M179.3 195.9h1M194.9 185.0h1" stroke="#5678e0" stroke-opacity="0.85" fill="none"/>
<path d="M148.6 211.6h1M140.2 193.1h1M187.0 201.0h1M183.5 213.8h1M185.9 199.6h1M169.6 195.3h1M177.1 215.9h1M167.9 213.4h1M177.3 214.0h1M176.1 215.1h1M176.0 194.3h1M164.3 203.1h1M172.4 215.6h1M175.2 214.9h1M187.5 208.1h1M165.0 206.7h1M173.3 215.6h1M188.0 205.3h1M184.4 210.8h1M171.5 195.1h1M167.4 211.4h1M184.0 211.4h1M174.1 194.5h1" stroke="#5074df" stroke-opacity="0.85" fill="none"/>
<path d="M148.8 199.0h1M140.5 213.4h1M148.5 199.4h1M147.0 197.8h1M147.9 201.3h1M149.1 207.7h1M140.6 194.9h1M172.1 215.1h1M164.4 204.2h1M167.4 197.2h1M166.0 199.0h1M182.0 212.8h1M169.4 213.0h1M171.2 195.5h1M185.7 200.7h1M168.1 212.0h1M174.1 214.1h1M172.6 214.8h1M171.7 213.7h1M164.9 204.5h1M172.1 214.0h1M167.7 197.4h1M165.2 203.3h1M182.2 198.8h1M166.3 208.1h1M181.1 212.5h1M173.3 213.6h1M186.7 203.4h1M173.2 195.4h1M171.8 195.9h1M186.3 208.2h1M185.0 200.8h1M176.0 195.4h1M174.2 195.3h1" stroke="#4970df" stroke-opacity="0.85" fill="none"/>
<path d="M147.9 206.7h1M148.8 207.7h1M145.6 212.6h1M148.6 208.3h1M137.3 209.1h1M147.1 209.8h1M146.8 210.3h1M138.6 197.1h1M166.4 200.7h1M187.4 205.9h1M177.8 212.5h1M187.1 207.2h1M170.1 212.1h1M177.6 196.5h1M176.0 195.6h1M173.0 212.5h1M184.0 200.3h1M187.1 205.6h1M166.2 203.2h1M166.2 203.4h1M185.4 201.9h1M166.9 198.9h1M166.7 200.8h1M183.5 200.2h1M185.8 207.8h1M186.8 206.0h1M181.8 199.2h1M170.5 211.5h1M167.0 207.7h1M186.0 203.5h1M166.9 207.5h1M169.1 211.0h1" stroke="#426cde" stroke-opacity="0.85" fill="none"/>
<path d="M146.3 208.3h1M145.7 211.7h1M144.9 212.1h1M142.6 195.9h1M146.3 203.0h1M143.3 212.5h1M143.4 196.5h1M140.8 196.2h1M138.2 211.2h1M183.9 208.8h1M185.1 207.9h1M166.6 204.7h1M171.6 197.2h1M174.6 211.9h1M166.9 206.8h1M176.0 196.5h1M178.4 211.8h1M166.8 205.1h1M167.9 198.6h1M167.9 198.7h1M174.8 196.4h1M173.9 211.6h1M181.1 211.3h1M182.7 210.0h1M176.8 197.1h1M182.4 200.0h1M169.1 198.5h1M185.4 207.2h1M185.5 203.5h1M172.7 197.0h1M167.2 206.0h1M185.9 206.4h1" stroke="#3c69de" stroke-opacity="0.85" fill="none"/>
<path d="M139.0 211.9h1M146.5 200.4h1M138.0 208.5h1M144.4 210.1h1M146.0 199.3h1M145.9 205.8h1M143.1 196.8h1M146.0 200.3h1M145.5 199.0h1M145.9 204.4h1M144.0 211.2h1M167.5 200.3h1M178.8 198.5h1M168.9 209.7h1M167.7 203.8h1M169.1 198.8h1M169.2 198.9h1M175.8 197.2h1M177.8 198.1h1M169.1 209.7h1M180.7 211.0h1M181.7 210.4h1M167.8 204.5h1M176.6 211.4h1M176.0 211.3h1M181.9 210.0h1M168.2 199.8h1M170.4 210.3h1M168.3 207.9h1M182.0 200.2h1M168.5 199.6h1" stroke="#3971e0" stroke-opacity="0.85" fill="none"/>
<path d="M138.3 201.4h1M141.0 196.8h1M138.7 198.8h1M145.2 206.9h1M138.4 200.8h1M142.3 211.8h1M138.9 211.0h1M138.6 200.1h1M145.2 201.5h1M139.1 198.6h1M139.3 211.2h1M142.3 211.6h1M138.9 210.5h1M178.2 198.6h1M184.9 206.3h1M183.9 207.2h1M176.8 197.9h1M184.7 206.5h1M169.5 209.6h1M180.9 210.5h1M185.0 204.5h1M168.2 206.8h1M179.0 210.8h1M183.5 202.0h1M179.1 210.8h1M168.4 203.2h1M184.6 203.7h1M168.5 200.8h1M181.9 209.3h1M168.6 201.1h1M169.7 209.4h1M169.0 208.3h1M184.8 204.8h1M173.8 197.7h1M179.6 199.6h1" stroke="#3679e2" stroke-opacity="0.85" fill="none"/>
<path d="M144.2 198.7h1M144.3 198.9h1M142.4 211.3h1M143.2 198.0h1M141.1 211.1h1M139.5 210.5h1M171.4 210.0h1M169.0 200.2h1M180.4 210.2h1M177.6 210.6h1M173.3 197.9h1M181.3 209.6h1M168.5 206.1h1M168.6 204.0h1M182.9 201.8h1M179.5 199.7h1M180.0 210.2h1M179.1 210.3h1M170.0 209.3h1M171.9 198.8h1M168.8 203.6h1M169.1 207.9h1M176.2 210.5h1M184.1 203.7h1M169.9 199.9h1M177.7 199.0h1M173.2 210.2h1M169.8 200.0h1M184.4 204.8h1M175.6 210.4h1M183.6 206.2h1M182.8 207.0h1M170.3 209.2h1M168.8 206.7h1M184.2 204.7h1M183.5 206.2h1M180.9 209.6h1M177.0 210.3h1M175.7 198.5h1M172.6 210.0h1M171.2 209.6h1M180.5 200.2h1M173.3 198.3h1" stroke="#3382e5" stroke-opacity="0.85" fill="none"/>
<path d="M138.9 203.6h1M140.9 198.1h1M140.1 198.7h1M139.0 203.7h1M142.6 198.1h1M139.8 199.3h1M145.0 204.9h1M139.3 202.4h1M174.3 210.1h1M181.9 208.2h1M181.8 208.2h1M183.7 203.8h1M169.0 206.6h1M183.1 202.8h1M175.9 210.1h1M176.8 210.1h1M177.2 210.1h1M183.4 205.7h1M169.8 208.1h1M172.8 198.8h1M171.4 199.6h1M169.3 202.6h1M173.7 198.4h1M180.6 200.5h1M171.4 199.7h1M171.0 209.2h1M173.0 198.8h1M173.1 209.8h1M169.5 201.5h1M176.8 209.9h1M179.9 209.4h1M183.5 204.9h1M174.6 198.6h1M173.6 209.8h1M183.3 205.3h1M177.4 209.7h1M178.8 200.1h1M173.9 209.7h1M181.0 208.7h1M178.4 209.6h1M173.6 198.7h1M171.1 208.9h1M177.2 199.5h1M169.7 201.2h1M173.8 198.7h1M182.4 202.3h1M177.4 209.6h1M175.6 199.0h1M169.7 201.4h1" stroke="#308ae7" stroke-opacity="0.85" fill="none"/>
<path d="M141.3 198.6h1M139.9 200.4h1M141.8 210.2h1M141.9 209.9h1M139.1 207.3h1M139.5 202.7h1M139.4 205.3h1M142.0 199.3h1M143.0 200.5h1M144.5 205.2h1M175.2 198.9h1M183.3 204.9h1M173.1 199.0h1M183.1 203.9h1M173.0 209.5h1M174.1 198.8h1M169.8 201.6h1M182.7 203.1h1M181.6 207.4h1M179.3 200.5h1M175.4 209.3h1M176.8 199.6h1M181.7 207.1h1M170.1 207.6h1M181.5 207.4h1M174.5 209.4h1M170.0 201.4h1M169.4 205.0h1M175.2 209.2h1M180.2 208.6h1M176.3 208.9h1M179.9 200.8h1M177.6 209.0h1M182.6 203.8h1M173.8 199.3h1" stroke="#2e92ea" stroke-opacity="0.85" fill="none"/>
<path d="M143.6 201.9h1M142.8 200.4h1M144.4 204.5h1M143.5 201.9h1M141.8 199.8h1M142.2 200.0h1M143.9 202.9h1M141.6 200.2h1M140.3 201.7h1M143.1 207.9h1M142.7 208.5h1M182.4 204.9h1M181.2 207.3h1M181.4 207.0h1M176.1 199.7h1M176.8 200.0h1M182.3 204.6h1M176.9 200.0h1M177.1 200.1h1M176.3 208.6h1M180.8 201.4h1M170.7 201.1h1M180.2 208.2h1M172.0 208.6h1M180.4 201.2h1M181.1 201.7h1M171.2 207.9h1M182.0 203.3h1M176.3 200.0h1M170.3 201.8h1M181.6 205.6h1M171.9 200.5h1M170.4 207.0h1M179.1 208.4h1M181.9 203.7h1M172.6 208.7h1M169.9 204.9h1" stroke="#2a9de6" stroke-opacity="0.85" fill="none"/>
<path d="M143.3 207.1h1M139.7 205.8h1M140.1 203.0h1M141.7 209.1h1M142.2 201.3h1M139.6 207.9h1M139.6 206.9h1M143.7 204.0h1M143.6 203.9h1M180.7 201.7h1M173.0 200.1h1M173.1 208.7h1M181.7 204.0h1M170.0 204.9h1M176.7 208.0h1M180.6 201.8h1M180.9 202.0h1M177.8 201.0h1M174.3 208.5h1M180.2 207.5h1M173.0 208.5h1M177.4 208.0h1M170.1 205.4h1M181.5 204.5h1M172.2 208.2h1M173.9 208.5h1M177.2 200.9h1M177.4 201.0h1M170.3 206.2h1M180.7 206.7h1M181.2 202.5h1M176.8 200.8h1M170.4 206.2h1M173.7 200.2h1M180.4 207.1h1M179.5 201.6h1M180.5 201.9h1M180.1 201.7h1M181.1 205.0h1M181.0 202.4h1M179.1 201.6h1M178.9 207.9h1M173.5 208.4h1M173.3 208.4h1M181.0 202.5h1M170.2 205.3h1M171.0 207.0h1M170.9 201.8h1M174.0 200.4h1M175.1 207.8h1M177.5 201.3h1M180.9 202.7h1M170.3 204.3h1M178.1 207.7h1M175.4 207.7h1M176.0 200.9h1M180.9 204.6h1M174.3 200.6h1" stroke="#26aadf" stroke-opacity="0.85" fill="none"/>
<path d="M140.3 208.6h1M141.1 202.2h1M140.1 205.5h1M140.3 204.6h1M142.3 202.4h1M178.9 207.6h1M175.7 200.9h1M174.0 200.6h1M178.7 207.5h1M177.7 207.5h1M180.6 204.7h1M179.2 202.0h1M171.6 201.5h1M172.2 201.1h1M178.8 207.4h1M171.7 207.2h1M179.4 207.2h1M170.6 205.7h1M170.8 206.1h1M180.2 206.1h1M174.6 201.0h1M180.3 205.5h1M175.7 201.3h1M177.3 201.8h1M171.0 202.4h1M174.4 201.0h1M180.3 205.4h1M171.8 201.5h1M179.5 202.3h1M180.0 206.1h1M172.2 201.3h1M180.3 203.3h1M176.1 201.5h1M179.8 202.6h1M180.0 202.8h1M178.4 207.2h1M172.4 207.4h1M177.4 202.1h1M171.6 201.8h1M179.2 206.9h1M178.6 207.1h1" stroke="#22b6d8" stroke-opacity="0.85" fill="none"/>
<path d="M141.5 202.6h1M143.0 206.2h1M140.2 207.7h1M143.2 205.5h1M141.5 203.0h1M141.0 203.6h1M142.9 204.0h1M142.8 205.9h1M140.4 207.3h1M141.2 208.1h1M176.2 201.8h1M175.0 201.6h1M180.0 203.5h1M171.2 202.5h1M172.7 201.3h1M179.8 205.8h1M176.3 206.9h1M179.4 202.9h1M179.6 206.3h1M170.7 204.2h1M176.2 206.9h1M177.9 206.9h1M179.7 205.7h1M179.4 203.3h1M177.3 202.4h1M177.6 202.5h1M178.3 206.8h1M174.1 201.5h1M172.8 201.5h1M171.1 203.3h1M175.8 202.2h1M179.3 203.9h1M179.4 204.5h1M178.8 206.4h1M178.8 203.4h1M174.6 207.1h1M173.6 207.3h1M173.4 201.6h1M172.9 207.2h1M170.9 204.7h1M176.4 206.6h1M174.6 202.0h1M173.4 201.6h1M179.1 205.9h1M178.4 203.2h1M179.2 204.7h1M174.3 207.1h1M176.4 202.5h1M175.7 202.4h1M173.2 207.2h1M171.3 205.9h1M179.2 205.1h1M171.4 203.0h1M177.2 206.4h1" stroke="#1ec3d2" stroke-opacity="0.85" fill="none"/>
<path d="M140.8 207.9h1M140.8 207.9h1M142.1 203.5h1M142.7 205.8h1M140.9 207.8h1M141.3 207.9h1M141.9 203.7h1M142.5 206.3h1M141.6 204.0h1M142.1 204.0h1M141.4 207.7h1M142.3 206.5h1M141.5 205.0h1M141.6 205.2h1M141.8 207.0h1M141.2 206.4h1M173.6 201.9h1M171.3 203.4h1M178.7 204.2h1M177.4 206.2h1M172.2 206.5h1M171.3 205.5h1M178.7 205.2h1M178.7 204.7h1M172.3 202.2h1M171.4 205.6h1M171.2 204.0h1M176.4 202.9h1M174.2 206.8h1M171.4 205.5h1M174.2 206.7h1M177.0 203.2h1M176.8 206.0h1M172.5 202.4h1M177.2 205.9h1M172.0 202.8h1M171.3 204.6h1M171.4 204.9h1M177.6 203.8h1M177.9 204.2h1M173.4 202.4h1M171.6 203.6h1M177.7 203.9h1M176.9 205.8h1M173.5 206.7h1M177.5 203.9h1M174.1 206.6h1M171.9 203.1h1M171.7 203.5h1M173.7 202.7h1M177.1 205.7h1M173.3 202.6h1" stroke="#24c3af" stroke-opacity="0.85" fill="none"/>
<path d="M173.5 206.5h1M173.8 206.5h1M172.8 202.7h1M177.5 204.2h1M171.8 205.5h1M177.1 205.5h1M173.0 202.7h1M175.5 203.4h1M175.9 203.4h1M173.9 203.0h1M177.0 203.9h1M173.1 206.4h1M174.0 206.3h1M177.3 204.6h1M177.1 204.3h1M176.5 203.9h1M171.9 204.7h1M176.5 205.2h1M172.7 205.9h1M176.3 205.2h1M176.5 205.1h1M174.7 203.8h1M175.9 204.2h1M175.3 205.5h1M176.1 205.1h1M176.0 204.3h1M175.9 204.2h1M176.3 204.5h1M175.9 205.0h1M175.5 204.2h1" stroke="#2bc38c" stroke-opacity="0.85" fill="none"/>
<path d="M173.3 203.6h1M173.2 205.8h1M175.6 205.1h1M172.6 205.3h1M172.4 204.3h1M173.3 203.8h1M172.4 204.5h1M174.0 204.0h1M174.6 205.4h1M173.1 203.9h1M174.8 204.4h1M175.0 205.0h1M173.8 205.6h1M172.5 204.6h1M173.8 205.6h1M174.5 204.4h1M174.8 204.7h1M172.7 204.7h1M174.1 205.3h1M172.7 204.8h1M173.9 205.3h1M174.5 205.0h1M173.0 204.8h1M173.9 204.5h1M174.2 204.7h1" stroke="#32c369" stroke-opacity="0.85" fill="none"/>
</g>
<rect x="154.4" y="180.3" width="50.0" height="40.7" fill="none" stroke="#a8a8a8" stroke-width="0.9"/>
<text x="181.2" y="178.6" font-size="8.2" text-anchor="middle" fill="#222" stroke="#222" stroke-width="0.12">63.8%</text>
<rect x="134.00" y="152.40" width="73.00" height="72.60" rx="1" fill="none" stroke="#000" stroke-width="1.4"/>
<path d="M134.00 225.00h-2.6M134.00 222.23h-1.4M134.00 219.46h-1.4M134.00 216.69h-1.4M134.00 213.92h-1.4M134.00 211.15h-2.6M134.00 208.38h-1.4M134.00 205.61h-1.4M134.00 202.84h-1.4M134.00 200.07h-1.4M134.00 197.31h-2.6M134.00 194.54h-1.4M134.00 191.77h-1.4M134.00 189.00h-1.4M134.00 186.23h-1.4M134.00 183.46h-2.6M134.00 180.69h-1.4M134.00 177.92h-1.4M134.00 175.15h-1.4M134.00 172.38h-1.4M134.00 169.61h-2.6M134.00 166.84h-1.4M134.00 164.07h-1.4M134.00 161.30h-1.4M134.00 158.53h-1.4M134.00 155.76h-2.6M134.00 152.99h-1.4" stroke="#000" stroke-width="0.9" fill="none"/>
<path d="M140.02 225.00v3M149.29 225.00v3M165.32 225.00v3M182.33 225.00v3M198.39 225.00v3M154.27 225.00v1.8M157.18 225.00v1.8M159.25 225.00v1.8M160.85 225.00v1.8M162.16 225.00v1.8M163.27 225.00v1.8M164.23 225.00v1.8M165.07 225.00v1.8M170.29 225.00v1.8M173.21 225.00v1.8M175.27 225.00v1.8M176.87 225.00v1.8M178.18 225.00v1.8M179.29 225.00v1.8M180.25 225.00v1.8M181.09 225.00v1.8M187.30 225.00v1.8M190.21 225.00v1.8M192.28 225.00v1.8M193.88 225.00v1.8M195.19 225.00v1.8M196.30 225.00v1.8M197.26 225.00v1.8M198.10 225.00v1.8M203.36 225.00v1.8M135.46 225.00v1.8M136.92 225.00v1.8M138.38 225.00v1.8M141.66 225.00v1.8M143.49 225.00v1.8M145.31 225.00v1.8M147.14 225.00v1.8" stroke="#000" stroke-width="0.9" fill="none"/>
<g filter="url(#bl)">
<path d="M223.0 215.2h1M218.9 210.9h1M256.6 213.7h1M271.5 187.9h1M274.5 204.0h1M261.7 187.3h1M268.3 188.9h1M267.7 210.8h1M249.3 189.2h1M253.4 211.1h1M271.3 202.9h1M276.3 187.7h1M242.6 189.1h1M273.8 207.1h1M260.2 212.7h1M267.7 213.4h1M238.2 205.7h1M244.2 200.6h1M256.9 194.6h1M247.0 207.9h1M244.5 206.8h1M253.4 200.1h1M254.9 199.3h1M267.8 198.9h1" stroke="#5d7ce0" stroke-opacity="0.85" fill="none"/>
<path d="M244.8 196.6h1M245.9 203.5h1M270.0 192.5h1M248.1 191.2h1M263.8 190.0h1M265.5 209.9h1M262.2 211.1h1M266.2 209.2h1M271.6 199.1h1M270.2 205.5h1M244.4 198.8h1M248.6 191.7h1M270.2 194.1h1M246.3 202.7h1M269.9 196.1h1M244.9 200.4h1M267.2 191.5h1M257.1 188.0h1M248.4 204.9h1M266.6 200.0h1" stroke="#5678e0" stroke-opacity="0.85" fill="none"/>
<path d="M222.6 190.5h1M223.6 206.4h1M219.0 206.6h1M220.2 213.8h1M216.3 206.4h1M216.1 207.8h1M251.6 209.2h1M269.5 194.7h1M270.4 198.0h1M253.3 190.0h1M245.9 198.0h1M252.3 209.0h1M260.4 210.6h1M249.2 206.0h1M250.3 192.5h1M245.8 200.1h1M263.1 208.9h1M247.8 195.3h1M260.4 210.3h1M269.1 205.3h1M263.8 208.6h1M259.7 210.3h1M259.8 190.3h1M250.1 206.9h1M248.5 194.4h1M251.6 208.1h1M269.0 204.9h1" stroke="#5074df" stroke-opacity="0.85" fill="none"/>
<path d="M220.3 207.2h1M226.2 201.1h1M217.0 211.2h1M246.7 198.7h1M251.2 207.4h1M256.1 189.1h1M252.6 207.7h1M270.0 199.6h1M250.2 193.3h1M248.6 195.0h1M248.4 196.0h1M267.7 194.3h1M267.6 194.2h1M267.0 193.0h1M248.0 198.1h1M256.7 189.4h1M258.6 209.4h1M247.3 199.8h1M248.0 198.5h1M256.6 208.9h1M256.8 189.5h1M252.0 207.0h1M256.1 208.6h1M247.7 200.8h1M269.3 200.5h1M267.5 205.6h1" stroke="#4970df" stroke-opacity="0.85" fill="none"/>
<path d="M218.5 192.7h1M220.4 206.3h1M220.4 191.7h1M217.6 196.9h1M221.5 205.4h1M222.7 212.2h1M265.7 206.5h1M256.1 208.4h1M249.6 194.9h1M269.1 200.4h1M251.7 193.3h1M268.9 199.2h1M253.2 191.9h1M266.3 193.3h1M266.3 193.4h1M269.0 199.8h1M255.5 190.2h1M265.5 192.8h1M248.4 201.0h1M248.3 200.8h1M253.9 191.4h1M266.7 195.0h1M268.9 199.7h1M258.4 208.7h1M258.7 208.6h1M261.1 191.6h1M268.2 203.6h1M265.9 206.0h1M256.9 190.3h1M250.4 204.3h1M256.9 208.3h1M262.9 207.3h1M254.2 191.5h1M250.5 204.4h1" stroke="#426cde" stroke-opacity="0.85" fill="none"/>
<path d="M218.9 192.7h1M224.7 193.3h1M220.0 192.1h1M221.2 205.9h1M225.4 196.9h1M218.6 202.0h1M225.1 194.0h1M224.6 206.9h1M223.0 205.9h1M224.5 210.8h1M217.7 210.2h1M267.4 197.8h1M249.8 196.8h1M260.9 207.8h1M249.3 201.1h1M249.5 201.3h1M251.0 204.9h1M259.4 208.2h1M249.2 199.7h1M256.2 190.7h1M250.6 195.1h1M266.0 205.5h1M250.6 203.0h1M261.9 192.1h1M268.0 201.1h1M251.3 204.8h1M267.1 197.8h1M251.5 194.5h1M253.9 192.4h1M249.6 200.0h1M267.1 204.4h1M267.5 203.7h1M262.7 192.3h1M263.7 192.7h1M250.2 197.6h1M264.2 193.0h1" stroke="#3c69de" stroke-opacity="0.85" fill="none"/>
<path d="M225.1 200.1h1M223.3 204.7h1M218.1 195.6h1M224.9 196.6h1M224.9 196.1h1M219.9 203.5h1M219.1 200.3h1M219.8 212.1h1M267.6 201.0h1M260.1 207.4h1M250.3 201.1h1M265.8 195.5h1M256.8 191.1h1M255.8 191.4h1M250.6 201.8h1M256.0 206.9h1M263.4 206.4h1M251.6 204.5h1M256.9 207.3h1M267.1 203.6h1M266.7 204.3h1M267.4 202.6h1M253.8 193.0h1M253.0 205.4h1M254.7 206.1h1M250.5 200.7h1M264.5 205.5h1M267.1 202.6h1M251.6 195.2h1M262.3 192.7h1" stroke="#3971e0" stroke-opacity="0.85" fill="none"/>
<path d="M220.6 204.3h1M219.4 202.1h1M222.2 204.7h1M222.7 193.1h1M224.3 197.8h1M224.8 200.9h1M219.4 201.4h1M219.5 199.0h1M219.7 199.7h1M224.2 195.4h1M219.6 200.9h1M220.3 211.8h1M218.8 206.9h1M218.2 207.7h1M223.5 210.8h1M260.2 207.0h1M252.0 204.2h1M260.7 206.8h1M252.4 194.6h1M258.7 191.8h1M264.1 193.5h1M263.6 205.8h1M266.9 199.6h1M255.8 192.0h1M252.1 204.2h1M263.3 205.9h1M261.7 206.4h1M258.3 207.0h1M253.6 205.2h1M260.7 206.7h1M252.0 203.9h1M266.8 202.2h1M251.3 201.3h1M251.4 196.0h1M266.3 198.2h1M250.9 199.3h1M258.6 191.9h1M256.6 206.5h1M264.9 195.1h1M263.3 205.6h1M263.0 193.2h1M265.8 203.7h1M265.9 197.8h1M251.2 196.6h1" stroke="#3679e2" stroke-opacity="0.85" fill="none"/>
<path d="M224.4 202.3h1M221.0 193.3h1M222.6 193.5h1M223.7 194.4h1M223.5 194.1h1M221.3 204.0h1M223.6 195.5h1M223.7 198.4h1M219.4 197.1h1M224.2 202.1h1M218.3 207.7h1M224.3 209.4h1M255.6 206.0h1M266.5 202.3h1M266.4 198.9h1M266.1 203.0h1M259.6 206.6h1M265.7 197.6h1M251.9 201.9h1M265.1 204.0h1M264.7 204.3h1M253.0 204.4h1M251.3 199.7h1M261.8 205.9h1M255.0 193.2h1M263.1 193.5h1M256.9 206.3h1M264.5 204.2h1M251.4 199.1h1M266.2 199.9h1M265.3 203.2h1M261.1 193.1h1" stroke="#3382e5" stroke-opacity="0.85" fill="none"/>
<path d="M219.4 195.4h1M220.2 194.3h1M219.5 196.9h1M220.9 202.9h1M219.6 196.8h1M222.3 194.5h1M219.5 196.2h1M220.7 194.4h1M221.9 194.5h1M222.5 197.8h1M221.7 196.2h1M221.0 198.3h1M221.1 194.5h1M219.8 196.2h1M222.5 198.0h1M219.9 196.3h1M218.9 210.3h1M223.8 207.9h1M223.6 207.8h1M223.8 208.2h1M223.1 207.5h1M251.5 197.1h1M264.9 196.4h1M264.3 204.1h1M254.4 194.0h1M251.6 197.3h1M254.9 205.1h1M254.5 193.9h1M265.8 198.6h1M254.1 194.3h1M265.5 198.0h1M264.6 195.8h1M264.2 204.1h1M251.5 198.1h1M265.8 198.9h1M251.7 199.5h1M256.2 205.8h1M265.8 201.7h1M265.2 202.7h1M252.9 195.4h1M262.3 205.2h1M262.8 204.9h1M264.2 195.3h1M264.0 194.9h1M260.7 205.8h1M263.3 204.6h1M265.8 200.9h1M263.3 204.5h1M252.1 200.0h1M252.5 201.3h1M253.3 203.6h1" stroke="#308ae7" stroke-opacity="0.85" fill="none"/>
<path d="M222.9 203.1h1M221.9 198.1h1M222.4 203.2h1M222.9 203.0h1M222.4 198.4h1M220.6 195.3h1M223.2 202.6h1M221.1 201.3h1M223.4 201.9h1M222.8 199.9h1M223.6 209.5h1M219.8 207.2h1M223.4 209.6h1M222.2 210.6h1M220.0 210.6h1M264.8 197.2h1M258.8 206.0h1M254.4 194.5h1M254.1 204.2h1M265.6 201.0h1M253.8 204.0h1M254.9 204.7h1M262.8 194.1h1M255.5 193.6h1M257.1 192.8h1M259.8 193.1h1M263.5 194.7h1M262.7 194.2h1M253.0 202.1h1M254.4 194.8h1M253.7 195.4h1M265.3 200.9h1M254.1 203.9h1M252.4 196.8h1M265.0 201.7h1M257.2 193.0h1M258.0 192.9h1M259.2 193.1h1M258.1 192.9h1M252.5 196.6h1M265.1 201.2h1M257.6 192.9h1M252.2 198.0h1M259.7 193.3h1" stroke="#2e92ea" stroke-opacity="0.85" fill="none"/>
<path d="M222.6 199.8h1M222.8 202.3h1M222.3 199.7h1M222.3 199.8h1M221.7 201.4h1M221.9 200.3h1M222.7 202.0h1M222.5 200.6h1M220.1 210.6h1M219.4 207.8h1M220.0 210.5h1M223.0 208.3h1M257.6 205.7h1M256.9 193.1h1M252.9 201.2h1M253.5 202.9h1M258.3 193.0h1M263.1 194.7h1M265.1 199.2h1M254.2 203.8h1M264.9 198.8h1M254.5 195.0h1M256.9 193.2h1M258.7 193.1h1M262.5 194.5h1M252.7 200.0h1M253.5 202.5h1M254.2 203.6h1M252.9 196.6h1M260.8 193.9h1M256.1 193.8h1M252.8 196.8h1M263.2 195.1h1M256.2 204.9h1M252.9 196.7h1M265.0 200.3h1M262.3 204.3h1M258.0 193.2h1M261.5 194.2h1M255.7 204.5h1M262.6 194.7h1M259.3 193.5h1" stroke="#2a9de6" stroke-opacity="0.85" fill="none"/>
<path d="M220.6 207.6h1M219.5 208.2h1M220.3 210.3h1M220.5 207.7h1M219.5 208.8h1M222.6 209.6h1M222.7 208.7h1M219.6 208.9h1M220.8 207.8h1M252.8 199.4h1M253.2 200.6h1M263.6 196.2h1M252.8 197.3h1M254.0 202.9h1M263.5 196.0h1M256.3 204.8h1M253.4 201.0h1M257.8 205.4h1M264.4 201.5h1M260.2 205.1h1M260.2 193.9h1M252.8 197.5h1M252.8 197.8h1M263.7 196.6h1M256.0 194.3h1M257.3 205.2h1M264.6 199.4h1M253.9 202.2h1M253.3 200.3h1M253.3 200.0h1M253.5 196.6h1M252.9 197.9h1M255.5 194.9h1M253.0 198.9h1M263.9 201.8h1M264.3 201.0h1M264.5 200.4h1M262.2 204.0h1M254.9 203.5h1M253.9 196.4h1M263.3 196.3h1M263.1 195.8h1M253.2 199.0h1M253.6 196.7h1" stroke="#26aadf" stroke-opacity="0.85" fill="none"/>
<path d="M221.3 210.0h1M221.9 209.7h1M221.8 208.2h1M219.9 208.9h1M220.1 209.3h1M222.0 209.0h1M264.2 198.6h1M263.2 202.6h1M255.8 194.9h1M264.3 200.5h1M256.1 204.3h1M260.8 194.5h1M253.9 200.9h1M256.4 194.4h1M255.4 195.4h1M254.3 196.4h1M258.9 205.0h1M263.6 197.7h1M257.3 204.8h1M262.3 195.4h1M264.1 199.3h1M260.4 204.6h1M254.2 196.6h1M258.1 193.9h1M256.1 194.9h1M261.5 204.0h1M262.9 196.4h1" stroke="#22b6d8" stroke-opacity="0.85" fill="none"/>
<path d="M221.0 208.4h1M221.1 209.5h1M221.4 208.6h1M221.3 208.9h1M253.8 197.4h1M264.0 199.4h1M254.9 202.7h1M254.5 202.1h1M254.6 196.5h1M263.9 200.6h1M260.7 194.8h1M258.4 204.9h1M262.5 196.0h1M256.6 194.7h1M259.6 204.7h1M262.4 203.1h1M255.0 202.7h1M261.8 203.7h1M257.8 194.2h1M262.2 203.3h1M257.8 194.2h1M262.7 196.7h1M254.2 200.1h1M258.4 194.2h1M254.3 200.4h1M254.0 199.3h1M254.8 202.0h1M260.9 204.1h1M254.8 201.8h1M254.2 197.5h1M262.8 197.1h1M254.0 198.7h1M259.0 194.4h1M263.1 201.8h1M255.2 202.6h1M263.5 201.0h1" stroke="#1ec3d2" stroke-opacity="0.85" fill="none"/>
<path d="M261.9 195.8h1M262.9 197.5h1M259.8 204.5h1M255.2 202.5h1M261.4 203.7h1M254.9 201.9h1M254.2 198.0h1M256.6 195.2h1M254.2 198.0h1M255.7 196.2h1M256.6 195.2h1M261.4 195.6h1M256.8 204.0h1M254.4 199.5h1M254.9 201.7h1M255.6 196.2h1M263.4 198.8h1M263.5 199.6h1M260.8 195.3h1M254.5 199.8h1M261.1 203.8h1M262.9 201.8h1M259.9 194.8h1M263.5 199.5h1M263.4 199.3h1M263.0 201.6h1M261.3 203.6h1M254.4 198.2h1M263.1 201.2h1M261.6 196.0h1M263.1 198.5h1M260.1 195.1h1M259.1 204.4h1M261.9 203.0h1M255.1 197.2h1M259.9 195.1h1M257.1 204.0h1M263.1 201.1h1M262.9 198.4h1" stroke="#24c3af" stroke-opacity="0.85" fill="none"/>
<path d="M254.7 198.3h1M258.0 204.3h1M258.2 194.8h1M261.9 196.7h1M262.9 198.4h1M261.6 196.3h1M261.5 196.2h1M254.7 198.9h1M262.1 197.1h1M259.3 195.0h1M258.4 194.9h1M263.2 199.9h1M260.3 195.5h1M262.7 198.3h1M257.5 195.2h1M255.1 200.3h1M255.3 201.1h1M258.2 195.0h1M259.1 195.1h1M256.9 195.7h1M258.8 204.2h1M257.6 204.0h1M257.0 203.5h1M260.6 195.9h1M259.3 195.2h1M261.1 196.3h1M255.1 198.9h1M257.0 195.8h1M258.4 204.1h1M258.0 204.0h1" stroke="#2bc38c" stroke-opacity="0.85" fill="none"/>
<path d="M255.2 198.9h1M260.9 196.5h1M257.6 203.7h1M261.8 197.6h1M256.3 196.8h1M258.4 203.9h1M255.9 197.4h1M262.3 198.5h1M261.6 202.7h1M255.4 198.5h1M256.1 202.0h1M260.3 203.5h1M255.8 201.2h1M258.2 203.8h1M256.8 196.4h1M255.5 198.7h1M262.1 198.4h1M261.3 197.3h1M255.5 198.8h1M259.1 203.8h1M258.2 203.8h1M258.6 203.8h1M256.5 202.5h1M259.2 195.7h1M257.7 195.8h1M255.6 198.8h1M259.1 195.7h1" stroke="#32c369" stroke-opacity="0.85" fill="none"/>
<path d="M257.3 203.3h1M261.0 197.3h1M256.5 197.0h1M256.1 201.2h1M258.9 203.7h1M256.3 197.3h1M259.0 195.8h1M255.8 198.9h1M256.4 201.9h1M262.1 201.4h1M256.5 202.2h1M256.6 202.3h1M256.8 202.6h1M257.3 196.3h1M257.2 196.4h1M262.4 199.6h1M261.7 202.2h1M259.0 203.6h1M259.0 195.9h1M260.0 203.4h1M260.9 197.5h1M257.4 196.4h1M256.8 202.5h1M260.2 196.7h1M259.0 203.6h1M262.1 199.2h1M255.9 198.8h1M256.1 198.1h1M256.2 201.0h1M256.4 201.6h1M260.9 197.7h1M259.7 196.5h1M261.7 201.9h1M259.5 196.3h1M260.5 203.0h1M256.2 200.5h1M261.8 201.7h1M258.0 203.3h1M257.2 202.8h1M261.9 201.6h1M260.3 197.2h1M261.2 198.1h1M256.6 197.5h1M256.1 198.5h1M261.7 198.8h1" stroke="#3fc450" stroke-opacity="0.85" fill="none"/>
<path d="M262.0 199.5h1M258.8 203.4h1M258.9 196.3h1M257.9 196.4h1M256.2 198.9h1M261.5 202.0h1M256.6 201.3h1M259.5 196.7h1M259.6 203.2h1M256.5 198.1h1M258.5 196.4h1M258.7 196.5h1M256.6 201.0h1M261.2 198.5h1M261.9 199.7h1M261.1 202.2h1M256.6 198.2h1M257.3 197.2h1M259.4 196.9h1M260.9 202.4h1M260.7 202.5h1M260.2 197.9h1M260.1 202.8h1M258.8 196.8h1M260.3 202.7h1M257.2 202.0h1M257.0 201.6h1M261.6 199.4h1M261.8 199.9h1M256.8 200.9h1M261.6 201.3h1M256.6 199.6h1M260.2 202.7h1M257.2 197.6h1M258.0 202.7h1M256.6 198.9h1" stroke="#54c843" stroke-opacity="0.85" fill="none"/>
<path d="M258.0 197.0h1M258.2 202.8h1M261.6 199.6h1M261.7 200.5h1M256.7 199.5h1M258.9 197.1h1M261.7 200.8h1M259.6 197.7h1M258.4 202.8h1M257.4 197.6h1M260.1 198.1h1M261.7 200.4h1M260.2 202.5h1M261.6 199.9h1M257.0 198.4h1M257.2 201.4h1M258.0 197.3h1M261.1 199.1h1M257.5 201.9h1M257.7 197.6h1M257.0 198.6h1M256.9 199.5h1M259.0 197.5h1M257.9 197.5h1M258.0 202.2h1M258.0 197.6h1M261.2 201.3h1M258.1 197.7h1M258.3 197.6h1M261.2 201.2h1M258.6 202.4h1M257.2 200.2h1M261.3 200.2h1M260.9 199.4h1" stroke="#68cd37" stroke-opacity="0.85" fill="none"/>
<path d="M261.2 199.8h1M257.5 198.3h1M259.7 198.6h1M260.4 199.0h1M261.0 201.4h1M257.4 200.7h1M259.9 202.2h1M257.4 200.4h1M258.8 198.1h1M259.9 202.2h1M259.0 198.2h1M257.4 200.1h1M261.0 201.2h1M257.4 200.3h1M257.5 200.0h1M260.4 199.4h1M258.3 198.4h1M258.6 198.4h1M261.0 200.2h1M259.2 198.6h1M260.6 199.6h1M260.7 199.8h1M258.1 198.7h1M259.7 202.0h1M258.9 198.7h1M260.7 199.8h1M258.0 199.1h1M259.3 201.9h1M257.8 199.5h1M258.5 198.8h1M259.8 199.3h1" stroke="#7dd12a" stroke-opacity="0.85" fill="none"/>
<path d="M258.3 201.3h1M258.5 201.5h1M260.7 200.5h1M258.8 201.6h1M258.0 200.4h1M260.5 200.9h1M258.6 199.1h1M258.8 201.5h1M260.0 201.4h1M260.3 201.2h1M259.4 199.4h1M259.0 201.5h1M258.2 200.1h1M258.4 199.7h1M260.3 200.8h1M258.4 200.6h1M260.0 201.2h1M258.7 199.6h1M258.5 199.7h1M258.5 200.8h1M258.5 200.0h1M258.5 200.3h1M259.2 199.7h1M260.1 200.4h1M260.0 200.9h1M259.5 201.2h1M259.0 201.0h1M258.8 200.8h1M258.8 200.1h1M258.9 200.0h1M259.8 200.5h1M259.7 200.4h1M259.2 200.3h1" stroke="#9ed625" stroke-opacity="0.85" fill="none"/>
</g>
<rect x="234.0" y="180.3" width="49.7" height="40.7" fill="none" stroke="#a8a8a8" stroke-width="0.9"/>
<text x="260.7" y="178.6" font-size="8.2" text-anchor="middle" fill="#222" stroke="#222" stroke-width="0.12">83.6%</text>
<rect x="212.70" y="152.40" width="73.10" height="72.60" rx="1" fill="none" stroke="#000" stroke-width="1.4"/>
<path d="M212.70 225.00h-2.6M212.70 222.23h-1.4M212.70 219.46h-1.4M212.70 216.69h-1.4M212.70 213.92h-1.4M212.70 211.15h-2.6M212.70 208.38h-1.4M212.70 205.61h-1.4M212.70 202.84h-1.4M212.70 200.07h-1.4M212.70 197.31h-2.6M212.70 194.54h-1.4M212.70 191.77h-1.4M212.70 189.00h-1.4M212.70 186.23h-1.4M212.70 183.46h-2.6M212.70 180.69h-1.4M212.70 177.92h-1.4M212.70 175.15h-1.4M212.70 172.38h-1.4M212.70 169.61h-2.6M212.70 166.84h-1.4M212.70 164.07h-1.4M212.70 161.30h-1.4M212.70 158.53h-1.4M212.70 155.76h-2.6M212.70 152.99h-1.4" stroke="#000" stroke-width="0.9" fill="none"/>
<path d="M218.73 225.00v3M228.01 225.00v3M244.06 225.00v3M261.09 225.00v3M277.17 225.00v3M233.00 225.00v1.8M235.91 225.00v1.8M237.98 225.00v1.8M239.59 225.00v1.8M240.90 225.00v1.8M242.01 225.00v1.8M242.97 225.00v1.8M243.81 225.00v1.8M249.04 225.00v1.8M251.96 225.00v1.8M254.03 225.00v1.8M255.63 225.00v1.8M256.94 225.00v1.8M258.05 225.00v1.8M259.01 225.00v1.8M259.86 225.00v1.8M266.08 225.00v1.8M268.99 225.00v1.8M271.06 225.00v1.8M272.67 225.00v1.8M273.98 225.00v1.8M275.08 225.00v1.8M276.04 225.00v1.8M276.89 225.00v1.8M282.16 225.00v1.8M214.16 225.00v1.8M215.62 225.00v1.8M217.09 225.00v1.8M220.38 225.00v1.8M222.20 225.00v1.8M224.03 225.00v1.8M225.86 225.00v1.8" stroke="#000" stroke-width="0.9" fill="none"/>
<g filter="url(#bl)">
<path d="M61.1 262.3h1M66.1 288.9h1M98.6 262.9h1M119.4 279.3h1M93.9 296.6h1M77.2 282.1h1M81.3 269.5h1M86.4 289.8h1M84.6 268.6h1M115.5 275.0h1M115.0 288.1h1M107.4 292.3h1M109.5 268.9h1M115.1 283.4h1M77.4 276.0h1M78.0 277.6h1M92.4 291.6h1M97.6 268.7h1M88.1 271.2h1M88.3 271.8h1M82.0 278.7h1M111.5 271.6h1M81.2 276.1h1M104.3 290.9h1M83.2 283.2h1M85.6 275.2h1M114.1 280.5h1M95.3 270.6h1M95.7 291.2h1M83.5 278.2h1M82.9 275.4h1M119.3 297.7h1M90.2 296.4h1M79.4 288.4h1M102.6 275.2h1M111.4 263.4h1M118.9 263.2h1M103.8 295.6h1M100.1 289.5h1M83.9 264.6h1M84.0 277.8h1M89.9 278.2h1M116.6 277.4h1M120.3 278.5h1M94.5 263.1h1M90.2 267.8h1M91.7 269.5h1M97.2 267.1h1" stroke="#5d7ce0" stroke-opacity="0.85" fill="none"/>
<path d="M68.4 296.3h1M70.5 286.9h1M66.9 267.0h1M68.8 291.7h1M56.7 276.9h1M58.8 291.9h1M67.2 294.5h1M83.9 275.8h1M99.7 270.0h1M110.9 289.0h1M107.8 288.6h1M102.9 290.4h1M110.8 286.7h1M85.5 284.1h1M111.5 284.1h1M92.4 273.4h1M111.2 288.2h1M111.3 287.9h1M111.8 274.8h1M85.8 283.7h1M101.4 270.2h1M108.6 272.0h1M84.7 282.4h1M110.6 273.2h1M100.5 290.7h1M86.2 279.2h1M87.7 276.7h1M96.2 271.5h1M112.7 280.2h1M87.4 277.8h1M97.9 272.0h1M89.0 287.3h1M108.2 272.4h1M97.6 290.5h1M111.5 275.8h1M103.0 288.7h1M94.6 289.2h1M90.7 274.9h1M88.6 276.9h1M91.2 274.8h1M95.7 266.5h1" stroke="#5678e0" stroke-opacity="0.85" fill="none"/>
<path d="M61.4 296.1h1M62.8 297.3h1M62.8 296.7h1M64.4 268.3h1M68.1 287.7h1M111.2 282.8h1M101.3 271.5h1M92.3 289.0h1M86.4 281.3h1M86.7 280.7h1M86.7 281.7h1M97.5 272.7h1M101.0 272.4h1M107.6 273.6h1M102.9 271.2h1M87.8 281.2h1M109.4 274.4h1M100.0 289.6h1M106.4 273.7h1M89.4 283.6h1M89.6 285.9h1M89.2 280.5h1M111.8 278.7h1M98.6 289.7h1M89.3 280.5h1M92.5 288.4h1M108.7 275.0h1M90.4 287.4h1M107.9 275.7h1M98.4 289.5h1M105.1 272.6h1M99.2 289.3h1M90.2 287.0h1M107.9 276.3h1M89.5 282.4h1M103.7 271.9h1M103.9 271.9h1M89.9 277.8h1M105.2 273.2h1M102.4 287.3h1M111.3 278.6h1M95.6 273.7h1M108.3 277.0h1M110.8 279.7h1M90.5 276.9h1M111.0 278.3h1M95.9 273.8h1M92.1 287.8h1M102.4 272.9h1" stroke="#5074df" stroke-opacity="0.85" fill="none"/>
<path d="M69.6 278.5h1M62.4 269.7h1M57.9 289.0h1M57.6 288.3h1M60.1 290.3h1M58.4 286.1h1M57.7 288.1h1M66.3 291.5h1M59.9 273.1h1M64.7 294.8h1M59.4 274.7h1M66.2 270.1h1M59.8 287.8h1M68.2 293.2h1M99.8 287.8h1M100.6 287.4h1M97.3 288.3h1M103.9 272.6h1M110.0 282.2h1M109.6 276.9h1M109.3 277.0h1M110.3 277.5h1M91.4 287.3h1M94.0 274.8h1M109.8 280.1h1M110.3 277.9h1M109.9 281.7h1M105.1 276.2h1M106.9 286.9h1M109.7 282.3h1M91.2 276.6h1M92.6 287.5h1M90.7 279.2h1M90.4 285.6h1M109.6 282.2h1M96.0 287.7h1M108.0 279.4h1M103.2 286.7h1M90.8 278.6h1M99.7 274.4h1M108.1 279.8h1M102.1 286.5h1M96.1 287.6h1M93.1 275.7h1M104.2 274.4h1M95.3 274.6h1M96.9 287.5h1M102.6 274.5h1M106.1 286.9h1M91.6 277.3h1M103.6 274.6h1M108.7 282.2h1M107.6 285.3h1M100.6 275.0h1M104.7 286.6h1M104.1 275.7h1" stroke="#4970df" stroke-opacity="0.85" fill="none"/>
<path d="M59.3 276.6h1M68.0 286.3h1M64.8 294.3h1M66.0 270.0h1M58.9 287.7h1M61.5 291.4h1M58.2 280.3h1M63.6 294.8h1M61.2 271.9h1M67.5 288.0h1M62.6 270.8h1M69.1 279.4h1M60.6 273.0h1M64.6 269.6h1M64.6 269.6h1M66.5 273.8h1M62.1 292.1h1M63.5 294.0h1M62.0 291.0h1M61.6 272.3h1M60.0 275.3h1M63.4 293.3h1M68.7 280.6h1M65.9 272.0h1M68.5 280.1h1M59.1 277.4h1M103.7 275.4h1M106.3 279.1h1M93.3 276.2h1M98.2 286.5h1M100.0 286.3h1M96.3 275.0h1M107.3 280.7h1M107.3 280.7h1M97.3 275.0h1M94.0 286.6h1M99.2 274.9h1M103.3 275.7h1M103.1 275.7h1M106.4 286.2h1M105.0 286.2h1M107.5 284.6h1M107.7 282.1h1M106.2 286.2h1M105.5 286.2h1M97.2 286.3h1M91.1 284.2h1M94.2 276.4h1M103.9 285.4h1M91.1 282.7h1M92.7 277.8h1M105.9 279.8h1M105.1 278.5h1M103.0 284.6h1M107.5 283.4h1M91.7 280.9h1M95.7 275.9h1M91.5 284.7h1M94.9 286.2h1M92.5 278.7h1M95.6 276.1h1M94.5 276.8h1" stroke="#426cde" stroke-opacity="0.85" fill="none"/>
<path d="M65.9 272.3h1M62.2 272.2h1M66.1 289.8h1M64.7 291.5h1M59.2 279.2h1M63.9 292.2h1M62.9 291.3h1M58.9 279.8h1M64.9 271.4h1M58.8 281.5h1M65.5 273.1h1M63.3 285.1h1M59.8 282.5h1M66.7 283.8h1M97.1 285.7h1M98.5 285.4h1M104.9 278.7h1M102.5 284.1h1M101.9 276.7h1M107.1 284.2h1M102.5 284.0h1M105.3 279.4h1M92.2 285.1h1M103.4 283.2h1M97.1 276.0h1M93.8 277.6h1M99.2 275.7h1M99.7 275.9h1M105.0 279.2h1M95.8 276.6h1M106.2 285.1h1M103.4 277.6h1M95.8 285.7h1M106.8 283.6h1M100.3 285.1h1M93.3 278.6h1M106.4 282.8h1M105.2 281.9h1M104.6 282.3h1M100.9 284.8h1M94.2 285.7h1M93.5 278.4h1M100.6 284.9h1M105.9 282.4h1M106.4 282.8h1M106.5 284.4h1M100.0 276.4h1M97.2 285.0h1M104.8 284.3h1M102.9 277.6h1M104.9 284.3h1M102.6 277.5h1M99.4 284.9h1M91.7 283.2h1M104.9 282.9h1M104.2 281.2h1M105.0 284.0h1M105.5 282.9h1M101.1 284.4h1M99.3 276.2h1M105.7 284.3h1M103.9 281.0h1" stroke="#3c69de" stroke-opacity="0.85" fill="none"/>
<path d="M64.1 272.8h1M61.7 288.1h1M60.8 276.3h1M66.8 287.3h1M67.8 278.2h1M63.5 289.4h1M64.7 289.7h1M61.1 276.5h1M65.0 289.4h1M61.6 275.3h1M60.7 286.7h1M60.2 285.5h1M64.7 289.3h1M60.2 282.8h1M64.9 275.8h1M67.7 292.5h1M64.3 294.6h1M98.1 276.4h1M93.4 285.2h1M104.2 280.4h1M92.0 283.9h1M102.0 277.9h1M93.6 279.3h1M104.2 279.7h1M93.5 279.5h1M96.3 284.9h1M93.4 279.7h1M103.8 278.9h1M98.4 284.1h1M104.1 279.9h1M96.4 284.8h1M102.7 281.0h1M102.9 278.4h1M92.9 281.0h1M98.6 276.7h1M92.9 281.0h1M99.0 276.7h1M100.2 284.3h1M93.1 284.7h1M93.9 279.6h1M99.4 277.0h1M103.3 279.9h1M102.6 280.6h1M98.9 276.9h1M94.4 285.0h1M101.8 278.6h1M92.9 281.2h1M102.0 281.0h1M103.0 279.1h1M92.6 281.8h1M102.0 279.0h1M92.4 283.5h1M100.5 278.4h1M102.0 279.2h1M99.8 277.8h1M101.2 279.0h1M101.2 282.6h1M101.4 281.5h1M101.0 283.0h1M100.1 283.8h1" stroke="#3971e0" stroke-opacity="0.85" fill="none"/>
<path d="M67.2 284.4h1M60.4 279.2h1M60.9 286.8h1M66.0 287.8h1M67.6 281.0h1M63.9 288.6h1M63.8 274.3h1M61.8 287.3h1M66.5 277.4h1M63.8 274.4h1M60.7 283.0h1M66.9 282.8h1M62.0 276.2h1M92.7 282.0h1M99.4 283.5h1M101.1 281.8h1M94.2 284.6h1M101.0 279.7h1M96.6 277.8h1M92.7 282.7h1M93.0 283.9h1M99.2 278.0h1M99.8 283.3h1M100.9 281.0h1M100.7 282.3h1M100.1 283.2h1M99.5 283.2h1M96.2 283.6h1M92.9 282.6h1M99.1 278.2h1M100.3 280.1h1M100.4 280.2h1M95.3 284.2h1M97.4 282.6h1M96.4 278.2h1M95.5 278.9h1M100.3 281.3h1M96.9 282.7h1M99.7 282.6h1M99.6 279.5h1M96.6 278.2h1M99.5 282.5h1M96.3 278.4h1M99.6 282.4h1M93.3 283.3h1M95.8 283.3h1M95.5 279.3h1M94.8 283.9h1M95.7 283.3h1" stroke="#3679e2" stroke-opacity="0.85" fill="none"/>
<path d="M60.5 280.2h1M64.8 274.9h1M61.6 278.6h1M66.4 285.5h1M61.5 278.9h1M65.2 275.6h1M60.0 281.5h1M60.0 282.3h1M62.4 276.9h1M67.1 280.8h1M62.8 275.7h1M62.7 275.9h1M66.7 283.9h1M66.7 283.7h1M66.4 277.9h1M66.6 278.2h1M65.4 287.2h1M67.0 279.0h1M67.3 279.0h1M67.0 282.3h1M65.5 283.7h1M63.3 284.1h1M61.3 276.8h1M63.9 284.0h1M63.6 287.5h1M98.7 278.6h1M93.5 282.5h1M99.2 279.4h1M99.0 281.7h1M98.3 278.6h1M95.2 283.3h1M95.4 280.1h1M99.2 280.8h1M99.1 281.2h1M97.8 278.6h1M94.6 283.4h1M94.0 282.7h1M94.7 282.0h1M94.6 283.3h1M94.3 282.4h1M94.9 282.0h1M94.5 283.2h1M95.3 281.9h1M97.3 281.7h1M94.7 282.8h1M98.6 281.0h1M97.5 281.6h1M96.0 279.6h1M97.7 281.4h1M95.9 281.4h1M97.3 278.8h1M96.5 279.1h1" stroke="#3382e5" stroke-opacity="0.85" fill="none"/>
<path d="M64.0 275.3h1M60.3 281.8h1M67.0 280.4h1M62.1 279.1h1M60.4 282.1h1M64.4 287.4h1M64.9 276.1h1M65.3 286.7h1M63.6 275.8h1M64.6 275.9h1M65.3 276.9h1M60.5 282.9h1M66.5 282.8h1M62.3 279.3h1M61.7 285.8h1M64.2 287.0h1M65.0 286.6h1M61.2 281.3h1M62.4 283.7h1M63.5 276.3h1M61.2 277.0h1M60.3 292.6h1M96.3 281.0h1M98.1 280.6h1M96.2 280.4h1M96.9 279.3h1M96.3 279.9h1M97.2 279.3h1M97.3 281.0h1M96.3 280.1h1M96.6 280.6h1M97.7 280.3h1M97.3 279.6h1M97.3 280.4h1M97.4 280.1h1" stroke="#308ae7" stroke-opacity="0.85" fill="none"/>
<path d="M66.2 283.5h1M60.8 282.9h1M64.1 276.4h1M60.8 283.2h1M63.3 278.1h1M66.1 283.6h1M61.2 284.0h1M65.1 285.8h1M64.6 277.3h1M66.3 279.7h1M63.7 278.2h1M62.5 286.0h1M63.8 286.4h1M65.9 279.1h1M63.9 278.4h1M61.6 284.4h1M60.6 278.1h1M65.8 277.3h1M60.9 293.0h1" stroke="#2e92ea" stroke-opacity="0.85" fill="none"/>
<path d="M65.0 278.3h1M65.2 284.7h1M62.8 285.9h1M66.0 280.6h1M65.5 279.1h1M62.8 280.8h1M64.5 278.8h1M64.0 285.7h1M62.8 281.1h1M61.9 283.8h1M62.9 285.5h1M62.9 285.4h1M62.6 285.2h1M62.0 283.4h1M63.4 283.3h1M60.7 292.5h1M66.1 292.2h1" stroke="#2a9de6" stroke-opacity="0.85" fill="none"/>
<path d="M64.8 279.5h1M62.9 281.6h1M65.4 282.6h1M63.7 280.3h1M65.5 282.1h1M65.0 283.5h1M62.4 282.7h1M62.2 283.3h1M64.1 284.7h1M63.2 285.1h1M65.4 281.8h1M64.8 283.3h1M64.5 280.3h1M65.0 280.6h1M63.8 281.0h1M63.1 283.8h1M64.0 283.5h1M63.5 282.7h1M64.4 281.1h1M63.9 281.5h1M64.8 281.8h1M66.4 281.2h1M60.8 279.4h1M61.9 282.2h1M65.0 277.3h1M65.5 277.6h1M60.9 279.0h1M61.7 281.9h1M61.0 279.9h1M64.4 277.1h1M66.4 279.5h1M64.6 277.2h1M63.2 293.3h1M66.3 290.3h1" stroke="#26aadf" stroke-opacity="0.85" fill="none"/>
<path d="M64.4 282.3h1M64.4 282.6h1M62.5 288.7h1M64.7 292.9h1M61.2 289.8h1M65.7 289.1h1M62.4 288.8h1M65.1 292.7h1" stroke="#22b6d8" stroke-opacity="0.85" fill="none"/>
<path d="M61.2 279.6h1M62.9 277.5h1M65.9 279.1h1M65.6 278.5h1M65.3 281.9h1M61.4 290.1h1M61.6 292.3h1M62.0 292.5h1" stroke="#1ec3d2" stroke-opacity="0.85" fill="none"/>
<path d="M63.2 282.2h1M63.2 277.7h1M62.2 281.3h1M61.8 278.9h1M65.4 281.3h1M65.3 292.1h1M65.4 292.0h1M61.7 292.2h1M65.3 289.2h1M65.9 290.6h1M63.8 288.8h1M63.5 292.6h1M64.3 288.8h1M61.4 290.6h1M65.0 289.1h1M64.0 292.6h1M61.4 291.6h1M61.7 290.0h1M64.8 289.1h1" stroke="#24c3af" stroke-opacity="0.85" fill="none"/>
<path d="M65.4 278.9h1M61.8 279.7h1M63.0 281.6h1M62.4 292.2h1M65.5 290.5h1M61.9 291.8h1M65.0 291.7h1" stroke="#2bc38c" stroke-opacity="0.85" fill="none"/>
<path d="M65.0 281.3h1M62.7 278.4h1M65.3 280.1h1M64.8 281.3h1M65.3 280.3h1M65.0 289.7h1M62.1 290.4h1M65.0 291.2h1" stroke="#32c369" stroke-opacity="0.85" fill="none"/>
<path d="M63.6 281.5h1M62.8 278.7h1M62.8 278.8h1M64.7 281.1h1M62.8 280.7h1M62.6 279.2h1M64.8 279.4h1M64.0 278.8h1M64.8 289.8h1M64.0 289.6h1M62.5 291.0h1" stroke="#3fc450" stroke-opacity="0.85" fill="none"/>
<path d="M62.7 279.2h1M64.8 279.6h1M63.0 279.2h1M64.6 280.5h1M63.1 280.4h1M63.3 280.6h1M63.1 290.1h1M62.8 290.7h1M64.5 290.7h1M63.6 290.1h1M63.5 290.5h1" stroke="#54c843" stroke-opacity="0.85" fill="none"/>
<path d="M63.8 280.7h1M64.1 280.5h1M64.0 279.8h1" stroke="#68cd37" stroke-opacity="0.85" fill="none"/>
</g>
<rect x="76.0" y="259.2" width="50.0" height="40.6" fill="none" stroke="#a8a8a8" stroke-width="0.9"/>
<text x="102.8" y="257.5" font-size="8.2" text-anchor="middle" fill="#222" stroke="#222" stroke-width="0.12">18.1%</text>
<rect x="54.50" y="231.50" width="74.00" height="72.20" rx="1" fill="none" stroke="#000" stroke-width="1.4"/>
<path d="M54.50 303.70h-2.6M54.50 300.95h-1.4M54.50 298.19h-1.4M54.50 295.44h-1.4M54.50 292.68h-1.4M54.50 289.93h-2.6M54.50 287.17h-1.4M54.50 284.42h-1.4M54.50 281.67h-1.4M54.50 278.91h-1.4M54.50 276.16h-2.6M54.50 273.40h-1.4M54.50 270.65h-1.4M54.50 267.90h-1.4M54.50 265.14h-1.4M54.50 262.39h-2.6M54.50 259.63h-1.4M54.50 256.88h-1.4M54.50 254.12h-1.4M54.50 251.37h-1.4M54.50 248.62h-2.6M54.50 245.86h-1.4M54.50 243.11h-1.4M54.50 240.35h-1.4M54.50 237.60h-1.4M54.50 234.84h-2.6M54.50 232.09h-1.4" stroke="#000" stroke-width="0.9" fill="none"/>
<text x="49.3" y="306.7" font-size="8.6" text-anchor="end" fill="#111">0</text>
<text x="49.3" y="292.9" font-size="8.6" text-anchor="end" fill="#111">50K</text>
<text x="49.3" y="279.2" font-size="8.6" text-anchor="end" fill="#111">100K</text>
<text x="49.3" y="265.4" font-size="8.6" text-anchor="end" fill="#111">150K</text>
<text x="49.3" y="251.6" font-size="8.6" text-anchor="end" fill="#111">200K</text>
<text x="49.3" y="237.8" font-size="8.6" text-anchor="end" fill="#111">250K</text>
<path d="M60.61 303.70v3M70.00 303.70v3M86.25 303.70v3M103.49 303.70v3M119.77 303.70v3M75.05 303.70v1.8M78.00 303.70v1.8M80.09 303.70v1.8M81.72 303.70v1.8M83.05 303.70v1.8M84.17 303.70v1.8M85.14 303.70v1.8M86.00 303.70v1.8M91.29 303.70v1.8M94.24 303.70v1.8M96.34 303.70v1.8M97.96 303.70v1.8M99.29 303.70v1.8M100.41 303.70v1.8M101.38 303.70v1.8M102.24 303.70v1.8M108.53 303.70v1.8M111.49 303.70v1.8M113.58 303.70v1.8M115.20 303.70v1.8M116.53 303.70v1.8M117.65 303.70v1.8M118.62 303.70v1.8M119.48 303.70v1.8M124.81 303.70v1.8M55.98 303.70v1.8M57.46 303.70v1.8M58.94 303.70v1.8M62.27 303.70v1.8M64.12 303.70v1.8M65.97 303.70v1.8M67.82 303.70v1.8" stroke="#000" stroke-width="0.9" fill="none"/>
<g filter="url(#bl)">
<path d="M206.0 287.0h1M147.8 287.1h1" stroke="#6480e1" stroke-opacity="0.85" fill="none"/>
<path d="M155.3 292.0h1M180.4 276.3h1M162.7 277.5h1M155.1 280.2h1M153.1 287.5h1M199.4 282.1h1M163.2 292.9h1M192.4 279.5h1M187.8 278.8h1M195.7 282.6h1M197.3 283.4h1M191.1 280.5h1M171.1 277.1h1M197.0 282.1h1M191.5 281.7h1M158.8 291.4h1M174.4 294.1h1M191.2 291.0h1M192.9 284.1h1M194.2 287.9h1M154.5 283.8h1M198.7 270.3h1M170.0 263.1h1M178.3 297.0h1M172.2 293.6h1M158.9 283.0h1M163.5 272.5h1M169.2 273.3h1M177.0 274.3h1M180.8 268.5h1M180.8 270.4h1M165.5 279.9h1" stroke="#5d7ce0" stroke-opacity="0.85" fill="none"/>
<path d="M139.9 293.5h1M141.8 294.4h1M154.6 286.0h1M155.1 283.4h1M184.2 279.9h1M161.8 280.9h1M179.9 279.6h1M187.1 280.5h1M192.8 285.3h1M157.3 282.7h1M191.8 289.2h1M193.6 286.5h1M184.4 292.0h1M188.8 282.8h1M189.4 290.3h1M193.2 287.0h1M155.6 284.8h1M158.3 289.1h1M156.0 285.9h1M177.3 293.1h1M177.0 278.7h1M192.5 287.4h1M184.6 280.6h1M173.6 292.6h1M183.3 292.0h1M187.8 282.3h1M159.7 289.9h1M160.8 282.0h1M170.7 278.6h1M189.0 289.8h1M185.5 290.6h1M191.1 285.9h1M161.4 290.5h1M184.0 281.2h1M185.8 281.1h1M165.8 281.3h1" stroke="#5678e0" stroke-opacity="0.85" fill="none"/>
<path d="M140.5 278.1h1M137.1 282.3h1M137.0 289.5h1M145.9 282.5h1M145.0 292.1h1M180.8 291.6h1M157.8 286.9h1M172.2 292.2h1M182.7 291.7h1M158.1 287.2h1M159.4 288.8h1M158.6 283.3h1M157.5 285.3h1M166.2 291.3h1M165.2 280.8h1M158.8 287.6h1M176.7 292.5h1M163.8 281.4h1M187.6 283.5h1M172.1 278.9h1M176.5 292.4h1M189.7 288.8h1M188.4 284.4h1M189.5 288.9h1M158.7 286.2h1M176.3 279.3h1M159.0 283.9h1M158.8 284.4h1M159.5 283.8h1M162.0 290.0h1M163.8 281.8h1M159.1 284.2h1M160.4 288.2h1M160.5 286.8h1M185.6 282.8h1M168.0 280.0h1M189.8 286.7h1M160.8 283.8h1M161.2 283.6h1M160.1 284.8h1M188.0 288.3h1M185.0 282.7h1M185.2 282.9h1M189.7 287.3h1M162.7 289.9h1" stroke="#5074df" stroke-opacity="0.85" fill="none"/>
<path d="M144.4 292.2h1M140.5 278.8h1M145.8 289.3h1M143.1 292.4h1M179.6 291.0h1M189.6 287.5h1M167.0 291.1h1M187.2 284.7h1M168.0 291.3h1M165.2 290.0h1M185.3 283.4h1M161.6 284.3h1M177.8 280.3h1M186.4 288.1h1M162.5 283.3h1M184.3 290.0h1M184.3 282.9h1M187.4 285.3h1M189.0 286.9h1M187.3 285.6h1M168.7 280.1h1M188.6 286.5h1M165.0 281.9h1M187.7 287.4h1M188.3 286.2h1M165.9 290.0h1M167.1 280.9h1M174.2 279.6h1M188.0 286.5h1M186.6 287.1h1M183.7 290.0h1M181.5 290.1h1M185.9 285.5h1M162.5 284.3h1M167.4 290.7h1M173.6 279.7h1M161.8 288.5h1M177.7 291.2h1M170.1 290.9h1M168.2 280.6h1M185.6 287.7h1M161.9 287.2h1M183.1 289.9h1" stroke="#4970df" stroke-opacity="0.85" fill="none"/>
<path d="M144.6 281.3h1M139.2 290.7h1M163.2 283.7h1M176.6 291.3h1M185.5 287.4h1M171.6 290.9h1M180.9 289.7h1M183.3 289.7h1M184.2 289.1h1M166.5 281.8h1M162.2 287.4h1M168.2 290.5h1M162.6 288.5h1M171.7 280.2h1M164.6 282.9h1M163.5 288.8h1M179.9 289.6h1M177.9 281.2h1M163.4 288.7h1M179.5 289.7h1M177.3 281.0h1M162.9 288.3h1M184.8 287.6h1M178.2 290.4h1M163.0 288.4h1M178.0 281.4h1M162.7 287.9h1M169.6 290.4h1M184.8 287.3h1M163.2 285.7h1M184.6 285.6h1M178.0 290.4h1M168.6 290.3h1M170.9 280.5h1M163.4 288.2h1M174.8 290.8h1M166.3 282.5h1M163.9 284.3h1M182.2 289.0h1" stroke="#426cde" stroke-opacity="0.85" fill="none"/>
<path d="M143.2 291.7h1M138.0 283.2h1M176.9 281.1h1M182.5 283.4h1M168.3 281.3h1M182.6 288.9h1M165.6 283.0h1M166.5 289.1h1M178.4 281.8h1M164.5 288.2h1M182.9 288.6h1M182.9 288.6h1M164.5 283.9h1M164.2 288.0h1M164.5 284.0h1M169.7 280.9h1M163.6 286.4h1M181.1 288.4h1M183.9 285.2h1M183.4 288.2h1M169.0 281.3h1M164.0 285.7h1M172.4 290.3h1M179.1 282.2h1M176.3 290.4h1M164.6 284.5h1M176.2 281.3h1M183.1 284.5h1M170.5 281.0h1M164.0 286.5h1M171.9 290.1h1M178.4 289.5h1M176.4 281.5h1M172.3 290.2h1" stroke="#3c69de" stroke-opacity="0.85" fill="none"/>
<path d="M137.4 285.3h1M143.1 280.8h1M165.3 284.1h1M179.7 282.5h1M164.4 286.5h1M168.1 289.5h1M183.6 286.7h1M177.2 289.9h1M183.5 286.7h1M183.6 286.1h1M180.6 282.9h1M174.5 281.0h1M179.9 288.2h1M165.5 284.2h1M164.8 286.8h1M169.5 281.6h1M165.4 287.4h1M168.7 289.5h1M167.5 289.1h1M182.9 287.3h1M182.6 287.4h1M182.9 287.2h1M165.0 286.9h1M167.8 282.9h1M178.6 288.9h1M181.7 283.7h1M174.2 281.0h1M182.9 284.9h1M174.7 281.1h1M168.3 282.5h1M167.1 283.4h1M169.3 281.8h1M183.0 285.2h1M182.7 284.7h1M180.4 283.0h1M165.0 285.9h1M182.8 285.0h1M175.8 281.7h1M167.3 288.7h1M177.1 289.6h1M182.8 286.7h1M183.0 286.4h1M179.9 282.8h1M167.4 283.4h1M165.1 286.1h1M173.9 281.2h1M178.1 289.0h1M166.3 284.2h1M166.6 283.9h1M173.1 281.2h1M181.3 283.6h1M182.7 285.3h1M165.9 287.3h1M165.6 285.3h1M171.9 289.6h1M180.7 287.4h1" stroke="#3971e0" stroke-opacity="0.85" fill="none"/>
<path d="M144.4 283.3h1M142.6 280.8h1M137.4 286.3h1M140.2 280.8h1M144.7 285.0h1M137.5 287.0h1M140.2 280.9h1M144.9 288.2h1M139.3 282.6h1M180.1 287.6h1M170.4 281.7h1M173.7 289.7h1M175.3 281.8h1M175.0 281.6h1M176.9 289.4h1M174.0 281.4h1M181.7 286.7h1M166.0 285.2h1M166.2 285.0h1M169.5 289.2h1M173.0 289.6h1M182.1 284.9h1M174.4 289.7h1M181.9 286.4h1M171.8 289.3h1M168.3 283.5h1M172.0 289.3h1M175.5 289.6h1M177.6 288.8h1M170.3 282.1h1M179.6 283.2h1M169.0 283.0h1M180.5 283.6h1M170.9 281.9h1M181.8 285.0h1M167.4 284.5h1M175.2 282.2h1M174.5 289.5h1M173.6 289.4h1M173.6 281.8h1M175.5 289.4h1M177.6 283.3h1M168.6 288.7h1M174.4 289.4h1" stroke="#3679e2" stroke-opacity="0.85" fill="none"/>
<path d="M141.8 280.7h1M139.6 289.6h1M140.8 280.7h1M144.8 287.3h1M137.8 286.5h1M138.0 287.4h1M169.1 283.2h1M166.8 287.1h1M166.5 286.6h1M174.8 289.4h1M167.8 284.4h1M177.8 288.4h1M171.8 282.0h1M181.2 284.6h1M173.3 281.9h1M181.5 285.2h1M176.2 283.0h1M173.2 281.9h1M169.5 283.1h1M180.2 283.7h1M169.8 288.8h1M169.7 282.8h1M169.8 282.8h1M180.2 286.8h1M176.1 283.1h1M168.9 288.6h1M169.2 283.5h1M167.8 284.7h1M179.2 283.5h1M180.4 283.9h1M176.1 289.1h1M173.1 282.0h1M180.2 283.8h1M166.8 286.2h1M167.0 285.7h1M166.9 286.6h1M167.2 287.2h1M173.4 282.1h1M172.1 288.8h1M171.8 288.8h1M180.0 286.7h1M177.1 288.6h1M170.8 282.5h1M181.0 285.0h1M179.2 283.6h1M174.6 289.1h1M176.6 288.7h1M174.7 282.6h1M167.9 285.0h1M175.5 283.1h1M167.2 286.9h1M172.0 282.2h1M171.7 282.3h1M180.8 285.7h1M175.4 283.2h1M180.5 286.0h1M171.0 288.5h1M167.8 287.6h1M169.2 288.3h1M177.6 283.8h1M173.3 288.8h1" stroke="#3382e5" stroke-opacity="0.85" fill="none"/>
<path d="M143.8 283.7h1M140.8 290.2h1M139.5 283.3h1M138.0 286.4h1M144.6 286.6h1M143.2 282.9h1M138.1 286.5h1M140.4 281.9h1M140.6 281.7h1M144.5 286.5h1M175.6 283.4h1M180.2 284.2h1M179.3 283.9h1M169.8 288.2h1M167.8 287.2h1M171.6 282.6h1M167.6 286.6h1M179.7 286.3h1M168.1 287.5h1M169.9 288.2h1M167.8 286.9h1M180.1 285.8h1M178.5 287.0h1M178.2 287.2h1M174.7 283.3h1M174.9 283.4h1M168.0 287.2h1M168.6 285.3h1M177.8 284.2h1M170.8 288.1h1M170.6 288.1h1M172.1 282.7h1M179.3 284.3h1M179.6 286.1h1M168.6 285.5h1M173.5 282.9h1M176.5 284.2h1M173.2 288.4h1M179.3 284.4h1M171.2 288.0h1M168.7 285.6h1M179.3 286.2h1M179.1 286.3h1M170.9 283.3h1M179.8 285.0h1M172.3 282.9h1M168.8 287.4h1M173.6 283.1h1M176.8 284.4h1M179.1 284.5h1M168.5 286.0h1M178.1 287.0h1" stroke="#308ae7" stroke-opacity="0.85" fill="none"/>
<path d="M142.4 282.1h1M138.3 286.9h1M141.5 290.1h1M142.1 290.1h1M141.3 281.7h1M140.5 282.5h1M142.0 282.0h1M141.8 290.0h1M143.8 288.7h1M142.2 282.6h1M142.0 282.4h1M168.5 287.1h1M168.4 286.4h1M170.1 284.5h1M177.8 284.5h1M179.3 285.8h1M171.2 283.4h1M179.1 286.0h1M175.0 288.4h1M169.7 287.5h1M172.0 287.8h1M168.8 287.0h1M170.4 284.3h1M172.1 287.8h1M168.8 286.2h1M168.8 287.0h1M170.5 287.5h1M176.1 284.5h1M170.1 284.9h1M178.0 286.7h1M178.8 284.8h1M175.5 288.2h1M176.6 284.6h1M176.0 284.5h1M177.3 287.2h1M174.3 283.9h1M178.6 284.9h1M170.2 287.4h1M176.7 287.6h1M178.8 285.0h1M170.3 284.9h1M170.6 284.4h1M169.4 285.9h1M169.3 286.2h1M169.8 287.2h1M169.2 286.7h1M178.8 285.5h1M178.4 285.9h1M171.2 287.2h1M175.8 284.7h1M173.4 287.7h1M171.3 287.2h1M177.7 285.1h1M169.7 286.4h1M175.4 288.0h1M178.2 285.8h1M177.7 286.4h1M172.6 283.6h1M170.6 285.0h1M174.7 284.6h1M177.5 285.2h1M170.7 286.8h1M172.7 283.7h1M171.6 283.9h1M177.5 286.5h1M171.8 283.8h1M177.7 286.2h1" stroke="#2e92ea" stroke-opacity="0.85" fill="none"/>
<path d="M139.0 287.3h1M143.4 284.7h1M141.2 283.0h1M177.7 285.6h1M176.3 287.4h1M170.7 286.3h1M171.1 284.6h1M172.1 286.9h1M171.0 286.5h1M172.3 287.0h1M171.2 284.5h1M174.1 287.7h1M175.1 287.8h1M171.3 286.6h1M177.3 285.8h1M173.2 287.2h1M176.3 285.4h1M174.1 287.5h1M172.4 284.0h1M171.7 286.5h1M174.9 287.7h1M173.9 287.4h1M176.5 286.9h1M176.7 285.6h1M175.7 287.5h1M174.0 284.8h1M171.3 285.3h1M172.6 284.2h1M173.2 284.4h1M175.2 287.5h1M171.6 286.1h1M175.3 287.5h1M171.4 285.3h1M171.5 285.2h1M172.7 284.4h1M173.0 286.7h1M172.6 284.4h1M175.0 285.4h1M175.8 285.6h1M176.1 287.0h1M172.3 284.6h1M173.6 285.0h1M172.0 284.8h1M172.6 284.6h1M173.2 284.8h1M172.5 284.7h1M176.3 286.3h1M173.3 285.0h1M173.1 286.4h1M173.2 286.4h1M174.2 287.0h1M176.0 286.6h1M173.0 285.0h1M172.3 285.1h1M175.7 286.9h1M173.7 286.6h1M174.7 285.7h1M175.9 286.4h1M172.9 285.5h1M174.9 287.0h1M175.5 286.0h1M173.5 286.1h1M174.3 286.8h1M175.2 285.9h1" stroke="#2a9de6" stroke-opacity="0.85" fill="none"/>
<path d="M140.0 284.4h1M140.2 284.3h1M143.0 289.1h1M142.8 289.3h1M143.8 287.1h1M142.8 284.4h1M140.7 289.0h1M139.3 287.2h1M143.1 284.9h1M140.0 284.9h1M175.6 286.2h1M174.6 285.9h1M173.9 286.3h1M175.6 286.6h1M175.4 286.4h1M174.3 286.4h1" stroke="#26aadf" stroke-opacity="0.85" fill="none"/>
<path d="M143.6 287.6h1M143.1 288.4h1M142.2 284.2h1M139.9 287.7h1M143.4 286.6h1M142.4 288.9h1" stroke="#22b6d8" stroke-opacity="0.85" fill="none"/>
<path d="M141.4 288.8h1M139.9 286.1h1M142.2 288.7h1M141.5 288.8h1M140.7 288.2h1M143.1 286.4h1" stroke="#1ec3d2" stroke-opacity="0.85" fill="none"/>
<path d="M141.3 284.9h1M140.8 285.2h1M140.9 288.0h1M141.5 285.2h1M142.6 287.7h1M141.6 288.3h1M141.5 288.3h1M142.5 285.9h1M141.8 288.3h1M140.7 287.6h1" stroke="#24c3af" stroke-opacity="0.85" fill="none"/>
<path d="M140.5 286.1h1M142.4 285.9h1M140.8 285.9h1M142.0 285.6h1M140.7 286.1h1M140.7 286.2h1M141.7 285.6h1M142.3 286.2h1M140.8 286.4h1" stroke="#2bc38c" stroke-opacity="0.85" fill="none"/>
<path d="M141.4 285.9h1M142.0 287.2h1M141.5 286.6h1" stroke="#32c369" stroke-opacity="0.85" fill="none"/>
</g>
<rect x="154.4" y="259.0" width="50.0" height="40.8" fill="none" stroke="#a8a8a8" stroke-width="0.9"/>
<text x="181.2" y="257.3" font-size="8.2" text-anchor="middle" fill="#222" stroke="#222" stroke-width="0.12">57.2%</text>
<rect x="134.00" y="231.50" width="73.00" height="72.20" rx="1" fill="none" stroke="#000" stroke-width="1.4"/>
<path d="M134.00 303.70h-2.6M134.00 300.95h-1.4M134.00 298.19h-1.4M134.00 295.44h-1.4M134.00 292.68h-1.4M134.00 289.93h-2.6M134.00 287.17h-1.4M134.00 284.42h-1.4M134.00 281.67h-1.4M134.00 278.91h-1.4M134.00 276.16h-2.6M134.00 273.40h-1.4M134.00 270.65h-1.4M134.00 267.90h-1.4M134.00 265.14h-1.4M134.00 262.39h-2.6M134.00 259.63h-1.4M134.00 256.88h-1.4M134.00 254.12h-1.4M134.00 251.37h-1.4M134.00 248.62h-2.6M134.00 245.86h-1.4M134.00 243.11h-1.4M134.00 240.35h-1.4M134.00 237.60h-1.4M134.00 234.84h-2.6M134.00 232.09h-1.4" stroke="#000" stroke-width="0.9" fill="none"/>
<path d="M140.02 303.70v3M149.29 303.70v3M165.32 303.70v3M182.33 303.70v3M198.39 303.70v3M154.27 303.70v1.8M157.18 303.70v1.8M159.25 303.70v1.8M160.85 303.70v1.8M162.16 303.70v1.8M163.27 303.70v1.8M164.23 303.70v1.8M165.07 303.70v1.8M170.29 303.70v1.8M173.21 303.70v1.8M175.27 303.70v1.8M176.87 303.70v1.8M178.18 303.70v1.8M179.29 303.70v1.8M180.25 303.70v1.8M181.09 303.70v1.8M187.30 303.70v1.8M190.21 303.70v1.8M192.28 303.70v1.8M193.88 303.70v1.8M195.19 303.70v1.8M196.30 303.70v1.8M197.26 303.70v1.8M198.10 303.70v1.8M203.36 303.70v1.8M135.46 303.70v1.8M136.92 303.70v1.8M138.38 303.70v1.8M141.66 303.70v1.8M143.49 303.70v1.8M145.31 303.70v1.8M147.14 303.70v1.8" stroke="#000" stroke-width="0.9" fill="none"/>
<g filter="url(#bl)">
<path d="M218.6 291.8h1M223.3 293.7h1M226.4 288.3h1M261.7 263.7h1M271.8 276.4h1M237.2 274.8h1M266.2 286.9h1M250.7 290.6h1M263.2 266.3h1M262.0 287.6h1M255.6 263.2h1M246.4 262.6h1M268.4 281.5h1M268.3 284.7h1M247.0 264.1h1M240.4 284.9h1M275.6 290.6h1M276.0 271.7h1M237.5 281.3h1M238.0 269.2h1M267.3 269.8h1M252.1 271.1h1M243.2 274.6h1M245.9 270.5h1M265.1 279.9h1M264.1 275.9h1M258.0 297.4h1M254.5 297.0h1M251.4 296.6h1" stroke="#5d7ce0" stroke-opacity="0.85" fill="none"/>
<path d="M226.1 277.3h1M219.0 272.5h1M267.0 284.1h1M241.3 285.2h1M253.0 264.0h1M268.8 277.4h1M252.5 289.1h1M248.0 265.6h1M268.2 278.1h1M244.5 285.8h1M265.9 281.9h1M242.7 269.9h1M256.5 265.6h1M246.1 267.3h1M265.7 280.1h1M250.0 265.8h1M252.0 265.1h1M240.5 274.3h1M243.9 268.7h1M267.2 276.4h1M240.5 281.5h1M240.2 278.6h1M252.8 296.4h1" stroke="#5678e0" stroke-opacity="0.85" fill="none"/>
<path d="M223.1 290.0h1M224.1 273.6h1M218.9 273.7h1M222.6 289.6h1M224.5 274.4h1M241.0 274.0h1M264.8 280.6h1M245.5 268.2h1M253.9 287.9h1M240.6 276.6h1M263.5 283.5h1M241.8 273.1h1M264.4 271.0h1M244.6 269.1h1M254.7 287.8h1M257.4 287.6h1M265.6 272.7h1M252.8 286.6h1M242.4 272.3h1M252.8 266.1h1M250.3 286.1h1M241.2 281.4h1M242.1 282.7h1M249.5 285.9h1M260.4 268.0h1M254.8 287.2h1" stroke="#5074df" stroke-opacity="0.85" fill="none"/>
<path d="M223.7 288.1h1M221.9 273.2h1M217.3 280.8h1M223.6 284.9h1M220.0 287.3h1M219.4 285.6h1M263.1 270.3h1M249.6 285.6h1M258.2 286.8h1M241.9 281.5h1M248.0 268.9h1M244.7 284.0h1M251.8 285.3h1M262.0 269.7h1M241.5 278.6h1M263.1 282.4h1M241.6 279.2h1M246.7 269.8h1M244.7 283.6h1M243.5 273.1h1" stroke="#4970df" stroke-opacity="0.85" fill="none"/>
<path d="M221.1 288.3h1M222.9 287.0h1M224.6 281.0h1M218.6 275.2h1M221.9 288.5h1M219.4 284.7h1M224.5 279.7h1M261.0 284.7h1M243.7 282.5h1M255.0 267.3h1M254.1 285.5h1M265.3 276.7h1M242.7 276.5h1M257.5 286.4h1M256.5 267.4h1M264.9 273.8h1M245.4 283.5h1M244.7 271.7h1M244.9 271.6h1M242.5 277.3h1M246.8 270.6h1M251.5 267.8h1M242.9 276.6h1M251.5 267.9h1M263.0 271.7h1M261.6 283.7h1M264.1 277.9h1M245.4 283.2h1M243.4 276.0h1M245.1 271.9h1M261.8 283.4h1M258.8 268.2h1M265.1 275.4h1M250.8 268.2h1M243.9 274.1h1M243.1 280.3h1M261.6 270.5h1" stroke="#426cde" stroke-opacity="0.85" fill="none"/>
<path d="M221.9 287.6h1M221.4 287.6h1M221.4 287.5h1M217.8 278.5h1M221.4 287.2h1M218.7 282.3h1M220.0 274.4h1M222.1 285.7h1M218.5 276.3h1M219.0 282.6h1M219.5 283.6h1M224.0 281.4h1M223.1 274.9h1M223.8 281.9h1M220.7 284.9h1M221.0 285.0h1M223.9 277.2h1M242.9 278.4h1M264.8 276.3h1M243.1 277.7h1M253.3 268.1h1M246.0 271.5h1M254.8 267.9h1M244.6 282.3h1M258.9 285.2h1M255.3 285.6h1M261.5 270.6h1M264.6 276.0h1M264.5 276.5h1M263.4 272.8h1M250.1 269.0h1M259.0 285.0h1M250.0 284.2h1M259.0 268.6h1M250.6 268.8h1M264.5 275.0h1M255.4 268.1h1M256.3 285.6h1M262.3 281.3h1M243.7 280.2h1M243.7 277.9h1M264.3 275.0h1M263.6 273.6h1" stroke="#3c69de" stroke-opacity="0.85" fill="none"/>
<path d="M223.6 282.1h1M222.7 283.6h1M221.4 284.8h1M222.5 283.8h1M218.5 280.7h1M221.2 284.5h1M220.4 274.8h1M223.6 276.3h1M223.5 280.9h1M260.5 270.0h1M251.6 268.7h1M248.7 270.6h1M247.6 271.4h1M245.1 273.2h1M255.0 268.3h1M243.9 279.8h1M260.7 283.7h1M247.0 271.9h1M244.8 281.5h1M257.4 285.3h1M263.7 274.4h1M263.4 273.9h1M245.8 272.8h1M249.1 270.6h1M253.0 268.9h1M249.5 283.6h1M256.6 285.2h1M247.1 282.8h1" stroke="#3971e0" stroke-opacity="0.85" fill="none"/>
<path d="M222.2 283.1h1M222.2 275.2h1M221.5 275.1h1M218.8 280.1h1M221.3 275.2h1M221.0 275.3h1M222.8 276.1h1M223.1 278.7h1M220.7 282.6h1M218.9 278.0h1M219.6 276.4h1M223.1 277.5h1M244.8 277.3h1M250.4 269.7h1M244.5 280.1h1M247.7 282.9h1M245.1 274.5h1M245.3 274.2h1M263.1 277.3h1M263.0 274.6h1M250.5 269.9h1M257.0 268.8h1M262.0 273.1h1M259.4 283.9h1M245.3 274.6h1M248.2 282.9h1M257.9 269.1h1M261.1 282.4h1M245.4 274.9h1M262.4 274.3h1M249.8 283.2h1M244.9 279.7h1M262.7 277.7h1M245.0 278.3h1M248.2 282.8h1M259.1 269.7h1M262.0 273.5h1M256.8 284.8h1M261.9 273.6h1M249.9 270.6h1M262.6 277.8h1M261.2 281.9h1M245.5 274.8h1" stroke="#3679e2" stroke-opacity="0.85" fill="none"/>
<path d="M222.4 281.9h1M221.9 275.6h1M219.1 277.7h1M222.3 282.0h1M220.7 282.3h1M219.8 276.5h1M219.1 280.0h1M222.7 279.9h1M219.0 278.8h1M220.8 282.2h1M222.6 276.4h1M219.3 280.3h1M219.4 277.5h1M222.6 276.7h1M220.9 281.9h1M262.3 274.8h1M256.0 269.0h1M262.6 276.7h1M249.7 283.0h1M261.6 280.7h1M251.4 283.1h1M246.3 281.6h1M251.2 270.0h1M259.2 270.0h1M249.6 282.9h1M249.3 282.8h1M262.5 277.3h1M261.4 273.1h1M250.1 282.9h1M245.7 275.4h1M247.0 281.9h1M259.2 270.1h1M252.6 283.2h1M247.5 282.1h1M245.3 279.7h1M250.0 271.0h1M245.5 280.0h1M260.0 282.9h1M262.2 277.4h1M259.9 282.9h1M261.8 279.0h1M258.3 269.8h1" stroke="#3382e5" stroke-opacity="0.85" fill="none"/>
<path d="M222.1 281.1h1M221.9 276.3h1M220.5 281.3h1M222.5 278.3h1M220.3 281.0h1M222.5 277.8h1M221.8 280.9h1M220.7 276.6h1M222.4 278.3h1M219.7 277.7h1M220.3 280.6h1M221.4 280.7h1M222.0 279.0h1M256.9 269.5h1M261.3 273.9h1M245.5 279.4h1M257.9 269.8h1M259.8 282.9h1M261.5 279.9h1M260.9 273.0h1M258.8 270.2h1M251.6 270.4h1M256.7 284.1h1M259.4 270.9h1M257.4 284.0h1M261.6 276.3h1M258.8 283.3h1M255.9 283.9h1M251.4 282.6h1M246.3 280.7h1M246.1 275.2h1M246.0 276.7h1M252.7 270.2h1M257.1 284.0h1M246.4 274.7h1M247.0 281.3h1M248.4 281.9h1M261.6 278.4h1M253.5 283.0h1M254.8 283.4h1M246.5 280.7h1M255.0 269.8h1M259.9 271.9h1" stroke="#308ae7" stroke-opacity="0.85" fill="none"/>
<path d="M221.4 280.1h1M220.0 279.6h1M220.1 278.1h1M221.3 277.4h1M220.1 278.3h1M220.1 279.0h1M221.3 278.1h1M220.7 279.1h1M221.2 278.4h1M220.9 278.9h1M220.8 278.8h1M257.2 269.9h1M259.0 270.8h1M261.6 277.5h1M246.2 277.0h1M261.0 280.0h1M253.1 282.8h1M260.0 272.3h1M255.7 269.9h1M260.8 280.4h1M246.3 279.9h1M257.0 283.6h1M261.2 276.8h1M252.0 270.8h1M248.7 281.5h1M247.4 273.8h1M246.4 276.4h1M247.2 280.8h1M254.3 270.2h1M247.6 273.6h1M259.5 282.3h1M246.3 279.1h1M248.4 273.0h1M261.3 277.5h1M261.1 279.0h1M253.1 282.6h1M259.8 272.4h1M260.9 279.8h1M246.3 278.0h1M257.1 283.4h1M253.3 270.5h1M249.3 281.5h1" stroke="#2e92ea" stroke-opacity="0.85" fill="none"/>
<path d="M256.7 270.2h1M261.1 277.1h1M259.5 272.0h1M248.1 273.3h1M259.0 271.4h1M260.1 281.4h1M258.4 282.7h1M257.4 270.5h1M248.3 281.1h1M260.2 274.2h1M260.1 273.4h1M260.3 281.0h1M251.8 271.1h1M256.1 283.2h1M246.7 279.6h1M256.1 283.2h1M250.7 281.7h1M260.7 279.3h1M260.5 276.1h1M260.1 273.9h1M250.8 271.7h1M255.3 282.9h1M259.5 281.7h1M254.8 282.7h1M256.8 283.0h1M250.0 272.3h1M246.7 277.7h1M250.2 272.2h1" stroke="#2a9de6" stroke-opacity="0.85" fill="none"/>
<path d="M248.3 273.5h1M254.9 282.6h1M260.3 276.2h1M259.5 281.5h1M256.0 270.5h1M254.9 282.6h1M254.5 282.4h1M257.4 282.6h1M254.5 270.6h1M257.7 282.4h1M260.5 277.2h1M247.4 274.8h1M258.0 271.3h1M259.7 281.0h1M248.2 280.4h1M247.1 279.2h1M252.9 281.9h1M248.8 273.4h1M259.7 274.7h1M260.4 278.8h1M247.2 279.2h1M256.8 282.4h1M253.0 281.8h1M255.7 270.7h1M252.4 271.4h1M259.6 280.8h1M257.0 282.3h1M254.3 270.8h1M259.9 276.3h1M248.8 273.5h1M247.2 279.1h1M254.2 282.0h1" stroke="#26aadf" stroke-opacity="0.85" fill="none"/>
<path d="M258.8 272.3h1M251.8 281.4h1M251.3 281.2h1M260.2 277.4h1M248.5 273.7h1M251.4 281.2h1M258.5 281.6h1M259.1 272.7h1M259.5 274.2h1M251.7 281.2h1M251.6 271.9h1M259.5 280.5h1M255.5 282.1h1M251.2 280.9h1M259.5 274.9h1M254.3 271.0h1M255.0 270.9h1M259.3 280.7h1M250.3 280.5h1M247.2 277.3h1M258.6 281.2h1M259.9 276.9h1M260.0 279.1h1M254.5 281.8h1M252.9 281.5h1M247.9 279.6h1M259.4 280.4h1M256.4 281.9h1M252.9 281.5h1M256.5 281.8h1M248.0 279.6h1M258.8 280.9h1M252.4 281.3h1M256.4 281.7h1M256.6 271.2h1M259.5 275.6h1M256.5 271.2h1M247.8 274.9h1M257.5 281.4h1M250.9 272.5h1M247.3 277.5h1M248.8 279.9h1M256.7 281.5h1M248.7 279.9h1" stroke="#22b6d8" stroke-opacity="0.85" fill="none"/>
<path d="M255.1 281.6h1M254.2 271.2h1M251.9 280.9h1M247.8 279.1h1M253.0 281.3h1M259.2 280.1h1M257.5 281.1h1M249.6 280.0h1M257.3 281.1h1M250.2 280.0h1M258.6 280.5h1M251.7 280.6h1M259.0 273.5h1M253.9 281.3h1M249.7 273.3h1M255.3 271.1h1M251.1 280.3h1M256.8 271.5h1M247.6 275.8h1M258.8 273.2h1M249.2 273.7h1M259.6 277.8h1M247.9 278.7h1M251.3 272.5h1M250.5 272.9h1M256.5 280.8h1M257.8 272.1h1M253.1 281.0h1M247.6 276.3h1M255.4 281.0h1M252.1 272.1h1M249.8 279.7h1M247.9 275.2h1M250.3 273.1h1M259.4 277.5h1M257.8 280.3h1M249.6 279.6h1M250.9 272.8h1M250.7 279.8h1M259.3 277.0h1" stroke="#1ec3d2" stroke-opacity="0.85" fill="none"/>
<path d="M255.1 280.7h1M253.3 280.7h1M259.1 279.0h1M259.3 278.2h1M259.1 276.6h1M258.2 279.9h1M249.1 279.4h1M251.5 279.9h1M259.1 278.8h1M250.7 279.6h1M257.9 279.8h1M248.2 275.0h1M252.3 272.2h1M258.9 278.9h1M253.7 280.6h1M248.2 275.0h1M254.3 280.6h1M248.3 278.8h1M258.8 279.0h1M251.2 272.8h1M248.1 278.4h1M254.7 280.4h1M258.7 273.8h1M254.2 271.6h1M259.0 277.2h1M252.9 280.2h1M258.7 274.0h1M248.4 274.8h1M247.9 276.3h1M256.6 279.8h1M254.8 280.3h1M258.7 274.1h1M255.6 280.0h1M248.0 275.9h1M258.8 278.5h1M253.2 280.2h1M248.4 278.6h1M258.0 279.3h1M257.1 279.5h1M250.8 273.1h1M258.1 272.8h1M258.6 278.6h1M254.9 280.0h1M254.4 271.6h1M253.1 279.9h1M251.3 279.3h1M249.6 279.0h1" stroke="#24c3af" stroke-opacity="0.85" fill="none"/>
<path d="M257.3 279.3h1M254.3 271.7h1M256.1 279.5h1M254.4 279.9h1M249.4 278.9h1M258.6 277.9h1M248.3 278.0h1M258.5 278.0h1M257.6 272.6h1M257.3 279.0h1M252.7 272.4h1M252.1 279.3h1M255.8 279.3h1M257.1 278.9h1M255.7 271.8h1M248.9 278.4h1M258.1 273.2h1M251.2 279.0h1M253.6 279.6h1M248.2 277.0h1M256.5 279.0h1M251.7 272.9h1M257.9 278.4h1M252.4 279.2h1M248.8 278.2h1M257.3 272.6h1M248.3 276.9h1M248.5 277.6h1M258.4 276.0h1M255.0 279.2h1" stroke="#2bc38c" stroke-opacity="0.85" fill="none"/>
<path d="M254.9 279.3h1M249.8 274.1h1M258.1 277.5h1M248.7 277.7h1M249.4 274.5h1M256.4 278.6h1M250.4 278.5h1M254.5 272.0h1M258.0 273.8h1M258.0 276.7h1M255.1 278.9h1M258.1 274.0h1M258.2 274.6h1M258.1 276.1h1M248.6 276.3h1M249.8 278.2h1M254.9 272.1h1M257.7 277.5h1M252.2 278.7h1M254.1 279.0h1M257.7 277.3h1M252.0 278.6h1M258.0 276.5h1M249.2 275.0h1M250.7 278.3h1M258.0 275.9h1M257.8 276.8h1M248.9 277.3h1" stroke="#32c369" stroke-opacity="0.85" fill="none"/>
<path d="M248.8 275.9h1M249.6 277.9h1M257.5 277.2h1M249.0 277.3h1M257.3 273.1h1M254.7 278.6h1M250.6 278.1h1M256.9 272.9h1M253.2 278.6h1M254.6 272.3h1M253.5 272.6h1M257.1 277.3h1M255.9 272.5h1M256.9 273.0h1M250.4 277.8h1M249.1 275.7h1M257.7 274.2h1M256.8 277.4h1M249.2 275.5h1M257.7 274.5h1M256.4 272.8h1" stroke="#3fc450" stroke-opacity="0.85" fill="none"/>
<path d="M249.1 275.9h1M252.2 273.4h1M249.1 276.5h1M250.2 274.5h1M249.2 276.6h1M255.7 277.9h1M256.5 277.5h1M255.5 278.0h1M253.7 278.3h1M249.4 276.7h1M257.1 273.4h1M249.4 276.8h1M253.5 272.9h1M256.0 277.6h1M255.4 277.9h1M249.3 276.4h1M255.3 278.0h1M254.5 272.6h1M249.6 275.4h1M257.5 275.2h1M257.4 275.6h1M253.7 272.9h1M249.6 275.4h1M256.3 273.0h1M257.3 274.1h1M255.7 277.6h1M257.1 276.3h1M256.9 276.6h1M255.4 277.7h1M255.4 277.7h1M251.6 274.0h1" stroke="#54c843" stroke-opacity="0.85" fill="none"/>
<path d="M253.2 278.1h1M256.2 277.1h1M252.8 278.0h1M253.6 273.1h1M250.9 274.5h1M256.8 273.6h1M255.0 272.9h1M253.4 273.2h1M255.0 272.9h1M253.9 277.9h1M256.8 276.3h1M251.5 274.2h1M250.0 275.3h1M250.0 276.8h1M257.0 274.0h1M250.7 274.7h1M254.2 273.0h1M250.7 274.8h1M257.0 274.9h1M253.6 273.3h1M252.0 277.6h1M253.7 277.8h1M250.2 276.6h1M256.1 276.6h1M253.6 273.3h1M256.7 275.9h1M250.4 276.8h1" stroke="#68cd37" stroke-opacity="0.85" fill="none"/>
<path d="M255.2 277.2h1M256.0 276.6h1M253.3 273.5h1M250.5 275.2h1M256.8 274.5h1M250.7 275.1h1M256.7 275.3h1M255.0 273.2h1M253.5 277.6h1M256.4 275.7h1M254.5 277.3h1M250.4 276.0h1M253.3 273.7h1M256.5 275.4h1M256.3 275.9h1M256.6 275.0h1M251.0 276.9h1M255.7 276.5h1M256.1 273.8h1M251.8 277.2h1M252.6 277.4h1M250.7 275.4h1M250.8 275.3h1M256.2 273.9h1M256.5 274.4h1M255.7 273.6h1M256.5 274.7h1M251.4 277.0h1M256.5 275.2h1M255.3 273.5h1M255.9 273.7h1M254.1 277.3h1" stroke="#7dd12a" stroke-opacity="0.85" fill="none"/>
<path d="M253.5 273.7h1M253.7 277.4h1M256.4 274.6h1M254.2 273.6h1M253.3 277.3h1M254.0 277.2h1M255.7 273.8h1M252.5 277.2h1M251.1 275.2h1M251.0 275.4h1M255.8 273.9h1M256.2 274.8h1M252.9 274.2h1M254.4 277.0h1M255.7 273.9h1M255.3 276.4h1M252.2 274.5h1M251.0 275.5h1M251.2 276.6h1M253.4 274.0h1M250.9 276.1h1M256.1 274.5h1M255.5 273.9h1M251.2 276.5h1M251.6 276.7h1M253.1 277.2h1M254.4 273.8h1M253.5 277.1h1M251.6 276.6h1M252.8 277.1h1" stroke="#9ed625" stroke-opacity="0.85" fill="none"/>
<path d="M254.4 273.9h1M255.3 274.1h1M251.4 276.4h1M252.4 276.9h1M255.2 274.2h1M254.1 276.7h1M252.0 274.9h1M251.3 275.9h1M253.5 274.3h1M255.4 274.4h1M251.4 275.9h1M252.1 275.0h1M252.9 274.6h1M252.1 275.0h1M254.2 274.2h1M253.4 274.4h1M253.5 276.8h1M252.0 276.5h1M255.1 275.5h1M251.6 275.9h1M255.1 275.1h1M254.8 275.7h1M253.6 274.5h1M254.8 275.6h1M251.8 276.0h1M252.3 275.1h1M254.7 275.6h1M252.8 274.9h1M252.9 274.9h1M254.2 274.7h1" stroke="#c1db21" stroke-opacity="0.85" fill="none"/>
<path d="M253.8 276.4h1M252.0 275.9h1M253.6 276.4h1M253.9 276.2h1M253.8 274.8h1M253.5 276.3h1M253.9 276.1h1M252.9 276.4h1M254.3 275.1h1M252.3 276.1h1M254.3 275.5h1M252.9 275.1h1M254.0 275.9h1M254.0 275.9h1M252.6 276.1h1M253.6 275.2h1M252.9 276.1h1M252.7 276.0h1M252.9 275.8h1M253.3 275.8h1" stroke="#e4e01e" stroke-opacity="0.85" fill="none"/>
</g>
<rect x="233.6" y="259.5" width="50.1" height="40.3" fill="none" stroke="#a8a8a8" stroke-width="0.9"/>
<text x="260.4" y="257.8" font-size="8.2" text-anchor="middle" fill="#222" stroke="#222" stroke-width="0.12">84.9%</text>
<rect x="212.70" y="231.50" width="73.10" height="72.20" rx="1" fill="none" stroke="#000" stroke-width="1.4"/>
<path d="M212.70 303.70h-2.6M212.70 300.95h-1.4M212.70 298.19h-1.4M212.70 295.44h-1.4M212.70 292.68h-1.4M212.70 289.93h-2.6M212.70 287.17h-1.4M212.70 284.42h-1.4M212.70 281.67h-1.4M212.70 278.91h-1.4M212.70 276.16h-2.6M212.70 273.40h-1.4M212.70 270.65h-1.4M212.70 267.90h-1.4M212.70 265.14h-1.4M212.70 262.39h-2.6M212.70 259.63h-1.4M212.70 256.88h-1.4M212.70 254.12h-1.4M212.70 251.37h-1.4M212.70 248.62h-2.6M212.70 245.86h-1.4M212.70 243.11h-1.4M212.70 240.35h-1.4M212.70 237.60h-1.4M212.70 234.84h-2.6M212.70 232.09h-1.4" stroke="#000" stroke-width="0.9" fill="none"/>
<path d="M218.73 303.70v3M228.01 303.70v3M244.06 303.70v3M261.09 303.70v3M277.17 303.70v3M233.00 303.70v1.8M235.91 303.70v1.8M237.98 303.70v1.8M239.59 303.70v1.8M240.90 303.70v1.8M242.01 303.70v1.8M242.97 303.70v1.8M243.81 303.70v1.8M249.04 303.70v1.8M251.96 303.70v1.8M254.03 303.70v1.8M255.63 303.70v1.8M256.94 303.70v1.8M258.05 303.70v1.8M259.01 303.70v1.8M259.86 303.70v1.8M266.08 303.70v1.8M268.99 303.70v1.8M271.06 303.70v1.8M272.67 303.70v1.8M273.98 303.70v1.8M275.08 303.70v1.8M276.04 303.70v1.8M276.89 303.70v1.8M282.16 303.70v1.8M214.16 303.70v1.8M215.62 303.70v1.8M217.09 303.70v1.8M220.38 303.70v1.8M222.20 303.70v1.8M224.03 303.70v1.8M225.86 303.70v1.8" stroke="#000" stroke-width="0.9" fill="none"/>
<g filter="url(#bl)">
<path d="M72.2 360.9h1M60.3 369.6h1M63.3 362.3h1M68.5 365.6h1M69.5 350.8h1M75.2 358.2h1M87.0 371.6h1M115.0 346.2h1M89.7 344.9h1M123.9 353.8h1M123.0 358.1h1M110.6 372.2h1M119.6 364.3h1M115.3 352.2h1M106.9 344.8h1M84.3 349.6h1M80.9 366.6h1M115.8 361.5h1M82.9 365.9h1M123.7 367.0h1M123.9 365.6h1M95.1 347.4h1M97.9 368.5h1M108.4 347.8h1M95.3 370.6h1M86.7 351.3h1M82.6 361.0h1M109.7 349.4h1M79.3 366.5h1M92.7 368.7h1M119.3 354.3h1M121.8 367.2h1M89.5 340.9h1M116.1 343.8h1M111.4 348.1h1M108.3 342.5h1M102.6 346.9h1M102.1 341.4h1M92.4 355.2h1M91.5 347.6h1M81.4 350.2h1M83.9 346.2h1M113.9 373.2h1M114.8 369.3h1M97.1 352.7h1" stroke="#5d7ce0" stroke-opacity="0.85" fill="none"/>
<path d="M63.0 369.2h1M66.2 367.7h1M68.8 353.8h1M57.6 355.2h1M109.3 367.9h1M100.1 348.6h1M93.3 369.1h1M109.9 351.5h1M83.0 355.0h1M111.3 366.3h1M87.1 354.8h1M88.7 351.7h1M106.2 369.2h1M111.2 365.9h1M83.8 355.4h1M84.2 355.2h1M114.0 359.5h1M84.6 359.7h1M106.1 350.4h1M91.5 367.0h1M91.1 350.8h1M94.8 368.3h1M113.6 359.3h1M111.7 362.2h1M84.6 363.2h1M106.6 368.5h1M85.9 363.4h1M94.0 367.2h1M88.6 356.1h1M111.7 354.8h1M111.4 354.5h1M96.5 349.0h1M96.1 349.6h1" stroke="#5678e0" stroke-opacity="0.85" fill="none"/>
<path d="M68.8 365.3h1M68.9 370.3h1M68.0 371.3h1M68.4 369.9h1M87.9 356.5h1M86.6 357.6h1M106.2 351.2h1M95.4 366.4h1M102.6 350.4h1M85.2 362.9h1M88.9 359.8h1M90.8 351.5h1M106.5 367.6h1M88.4 363.1h1M85.4 361.2h1M89.4 361.8h1M90.6 352.1h1M112.6 356.9h1M90.4 355.4h1M109.0 364.2h1M86.7 358.8h1M110.3 363.1h1M108.2 363.8h1M103.3 351.0h1M109.7 363.3h1M87.4 360.8h1M91.2 359.0h1M87.5 359.7h1M111.2 360.7h1M96.0 350.3h1M104.5 352.8h1M108.0 352.6h1M108.0 360.6h1M109.8 360.2h1M100.6 351.1h1M111.8 357.2h1M110.9 359.5h1M104.4 355.4h1M103.4 352.2h1M97.8 350.2h1M99.6 351.2h1" stroke="#5074df" stroke-opacity="0.85" fill="none"/>
<path d="M66.0 352.4h1M56.4 361.9h1M56.3 360.7h1M64.0 371.6h1M90.6 365.3h1M89.7 363.9h1M90.4 365.2h1M108.8 353.9h1M105.6 355.5h1M102.8 367.5h1M106.9 353.5h1M97.6 352.6h1M107.3 353.4h1M108.6 359.2h1M111.3 357.9h1M92.0 353.4h1M91.9 358.4h1M97.8 350.9h1M96.5 351.8h1M97.8 351.0h1M110.4 356.6h1M98.8 364.8h1M94.7 352.4h1M110.0 357.9h1M106.1 365.2h1M90.6 364.5h1M96.0 364.6h1M91.9 354.3h1M97.1 354.5h1M105.9 365.5h1M106.7 360.5h1M90.9 364.2h1M91.8 363.5h1M94.3 352.7h1M105.6 365.5h1M108.7 356.6h1M93.1 363.6h1M101.5 366.9h1M103.4 366.8h1M107.1 355.4h1M107.2 358.6h1M96.3 364.2h1M102.4 367.0h1M93.3 361.0h1M92.9 361.7h1M105.4 364.4h1M92.1 356.1h1M108.3 355.9h1M108.0 355.3h1M107.8 356.1h1M105.1 364.1h1M93.0 358.6h1M93.4 361.4h1" stroke="#4970df" stroke-opacity="0.85" fill="none"/>
<path d="M68.2 364.0h1M69.0 362.3h1M61.3 365.8h1M57.4 362.2h1M59.7 354.8h1M68.4 358.6h1M63.1 352.8h1M66.5 353.7h1M64.0 366.3h1M66.5 369.3h1M60.0 368.0h1M65.5 370.6h1M65.5 367.8h1M63.3 370.9h1M105.2 361.6h1M102.3 353.4h1M95.3 353.8h1M93.5 363.0h1M95.8 363.8h1M93.0 354.1h1M93.7 362.9h1M106.0 358.2h1M100.9 353.1h1M94.3 353.9h1M94.3 353.9h1M96.7 363.3h1M100.8 353.3h1M106.0 358.9h1M100.5 365.3h1M93.0 356.4h1M103.9 364.7h1M93.2 357.3h1M94.8 361.4h1M102.0 354.2h1M102.1 355.0h1M101.6 366.0h1M94.9 355.3h1M103.5 363.8h1M100.6 353.9h1M93.8 357.7h1M94.3 355.3h1M104.2 361.6h1M95.9 362.5h1M100.7 354.0h1" stroke="#426cde" stroke-opacity="0.85" fill="none"/>
<path d="M58.8 356.3h1M64.4 365.9h1M68.1 363.0h1M63.5 366.1h1M61.3 370.1h1M65.2 368.5h1M64.6 370.0h1M64.7 369.9h1M64.0 366.7h1M60.6 368.8h1M63.6 366.5h1M95.8 362.2h1M94.4 358.1h1M94.2 356.0h1M101.9 365.6h1M100.1 354.8h1M102.9 357.3h1M102.8 365.2h1M105.3 359.3h1M96.4 361.8h1M97.4 362.0h1M94.5 357.6h1M104.0 357.9h1M100.1 364.2h1M104.1 361.1h1M104.4 358.3h1M101.1 355.1h1M95.9 360.0h1M103.8 358.1h1M95.8 356.8h1M98.5 356.0h1M102.1 364.4h1M98.1 361.5h1M100.9 364.2h1M101.6 364.2h1M104.3 359.2h1" stroke="#3c69de" stroke-opacity="0.85" fill="none"/>
<path d="M66.6 355.0h1M62.4 365.7h1M61.9 353.8h1M57.5 360.5h1M61.3 369.6h1M62.7 366.5h1M61.0 368.1h1M102.0 362.8h1M104.1 360.0h1M99.7 356.0h1M103.9 360.1h1M96.7 360.1h1M101.1 356.5h1M100.8 363.4h1M101.3 356.8h1M102.7 361.3h1M100.1 362.8h1M100.5 363.1h1M97.3 356.8h1M100.2 362.4h1M96.1 358.0h1M99.7 361.7h1M103.0 360.3h1M98.6 360.6h1M103.0 359.5h1M99.9 356.7h1M100.2 361.7h1" stroke="#3971e0" stroke-opacity="0.85" fill="none"/>
<path d="M57.7 360.6h1M61.9 364.8h1M62.7 365.2h1M67.9 361.8h1M64.3 353.7h1M65.9 355.0h1M61.2 368.5h1M63.2 369.3h1M62.0 367.5h1M62.4 367.4h1M100.2 361.5h1M96.4 358.6h1M101.5 361.1h1M101.5 358.3h1M98.9 357.1h1M101.7 359.9h1M101.7 359.7h1M101.1 360.5h1M100.5 360.4h1M100.8 358.1h1M101.4 359.0h1M97.8 359.5h1M101.1 360.1h1M97.3 357.8h1M97.1 358.1h1M100.5 358.3h1M100.2 358.0h1M99.0 359.5h1" stroke="#3679e2" stroke-opacity="0.85" fill="none"/>
<path d="M66.2 363.8h1M58.2 359.4h1M65.7 355.2h1M62.6 367.6h1M63.0 368.8h1M62.6 368.9h1M62.6 368.2h1M98.0 357.6h1M100.2 358.2h1M97.8 359.1h1M97.5 358.0h1M97.5 358.7h1M99.5 357.9h1M97.6 358.4h1M97.8 358.7h1M98.5 358.3h1" stroke="#3382e5" stroke-opacity="0.85" fill="none"/>
<path d="M58.8 361.4h1M63.1 364.7h1M61.0 355.4h1M65.1 354.8h1M64.9 364.3h1M67.4 359.7h1M64.0 354.3h1" stroke="#308ae7" stroke-opacity="0.85" fill="none"/>
<path d="M64.8 354.8h1M63.9 364.5h1M66.3 357.3h1M62.8 364.3h1M63.1 354.4h1M58.5 359.8h1" stroke="#2e92ea" stroke-opacity="0.85" fill="none"/>
<path d="M64.3 354.8h1M60.0 361.8h1M61.3 355.8h1M62.4 355.1h1M60.2 362.0h1M66.2 357.9h1" stroke="#2a9de6" stroke-opacity="0.85" fill="none"/>
<path d="M66.4 358.3h1M59.2 358.9h1M62.9 355.1h1M63.1 363.7h1M66.8 359.4h1M65.6 357.3h1M62.4 363.2h1" stroke="#26aadf" stroke-opacity="0.85" fill="none"/>
<path d="M63.8 363.6h1M65.9 362.8h1M61.7 355.9h1M66.7 359.5h1M59.9 358.0h1M65.2 357.0h1M66.8 360.9h1M59.5 360.6h1M60.8 361.9h1M61.0 362.0h1M65.3 357.4h1M63.5 355.5h1M64.2 363.4h1M62.0 356.0h1" stroke="#22b6d8" stroke-opacity="0.85" fill="none"/>
<path d="M62.4 355.8h1M62.6 363.0h1M66.0 362.2h1M66.2 362.0h1M65.2 362.8h1M59.8 358.8h1M63.6 356.0h1M62.7 362.8h1M64.0 356.2h1M59.7 359.4h1" stroke="#1ec3d2" stroke-opacity="0.85" fill="none"/>
<path d="M65.1 362.8h1M63.7 356.1h1M61.6 362.0h1M63.1 356.1h1M65.9 361.9h1M66.3 360.2h1" stroke="#24c3af" stroke-opacity="0.85" fill="none"/>
<path d="M62.8 356.3h1M60.2 360.4h1M60.0 359.7h1M63.0 362.4h1M61.8 357.0h1M61.2 361.4h1M66.0 361.2h1M60.5 360.8h1M60.2 360.3h1M63.3 356.7h1M60.3 358.9h1M60.2 359.0h1M65.2 362.2h1" stroke="#2bc38c" stroke-opacity="0.85" fill="none"/>
<path d="M66.1 360.5h1M61.3 357.6h1M62.4 356.8h1M60.4 358.8h1M60.7 358.4h1M65.5 361.7h1M65.8 361.3h1M60.5 358.8h1" stroke="#32c369" stroke-opacity="0.85" fill="none"/>
<path d="M64.1 357.6h1M62.3 361.7h1M62.2 361.6h1M61.9 357.5h1M64.6 362.0h1M61.0 360.5h1M65.2 359.2h1M64.2 358.0h1" stroke="#3fc450" stroke-opacity="0.85" fill="none"/>
<path d="M65.4 359.7h1M65.5 360.5h1M65.5 360.5h1M61.1 358.5h1M63.9 358.0h1M64.3 361.7h1M64.0 361.8h1M65.4 360.7h1M62.4 357.7h1M64.8 358.9h1M64.7 358.8h1M61.4 360.6h1" stroke="#54c843" stroke-opacity="0.85" fill="none"/>
<path d="M61.6 360.7h1M62.9 357.7h1M63.1 361.5h1M64.2 361.6h1M63.5 358.1h1M61.3 358.9h1M63.8 361.4h1M65.0 359.8h1M64.4 361.4h1M64.5 359.0h1" stroke="#68cd37" stroke-opacity="0.85" fill="none"/>
<path d="M61.6 358.7h1M61.4 359.1h1M64.9 359.9h1M64.8 359.8h1M64.3 361.2h1M62.6 358.3h1M61.5 359.6h1M63.9 361.0h1M62.1 360.3h1" stroke="#7dd12a" stroke-opacity="0.85" fill="none"/>
<path d="M61.8 359.6h1M62.2 358.7h1M62.3 358.7h1M64.4 360.1h1M62.6 360.4h1M62.4 358.7h1M61.9 359.6h1M63.8 359.2h1M63.6 359.0h1M64.2 360.0h1M64.0 360.5h1M62.4 359.0h1" stroke="#9ed625" stroke-opacity="0.85" fill="none"/>
<path d="M63.2 360.2h1M62.5 359.7h1M63.2 359.3h1M62.7 359.2h1M63.7 360.0h1M63.3 360.0h1M62.9 359.6h1" stroke="#c1db21" stroke-opacity="0.85" fill="none"/>
</g>
<rect x="76.8" y="338.8" width="49.7" height="40.5" fill="none" stroke="#a8a8a8" stroke-width="0.9"/>
<text x="103.5" y="337.1" font-size="8.2" text-anchor="middle" fill="#222" stroke="#222" stroke-width="0.12">17.1%</text>
<rect x="54.50" y="310.20" width="74.00" height="72.30" rx="1" fill="none" stroke="#000" stroke-width="1.4"/>
<path d="M54.50 382.50h-2.6M54.50 379.74h-1.4M54.50 376.98h-1.4M54.50 374.23h-1.4M54.50 371.47h-1.4M54.50 368.71h-2.6M54.50 365.95h-1.4M54.50 363.19h-1.4M54.50 360.44h-1.4M54.50 357.68h-1.4M54.50 354.92h-2.6M54.50 352.16h-1.4M54.50 349.40h-1.4M54.50 346.65h-1.4M54.50 343.89h-1.4M54.50 341.13h-2.6M54.50 338.37h-1.4M54.50 335.61h-1.4M54.50 332.86h-1.4M54.50 330.10h-1.4M54.50 327.34h-2.6M54.50 324.58h-1.4M54.50 321.82h-1.4M54.50 319.07h-1.4M54.50 316.31h-1.4M54.50 313.55h-2.6M54.50 310.79h-1.4" stroke="#000" stroke-width="0.9" fill="none"/>
<text x="49.3" y="385.5" font-size="8.6" text-anchor="end" fill="#111">0</text>
<text x="49.3" y="371.7" font-size="8.6" text-anchor="end" fill="#111">50K</text>
<text x="49.3" y="357.9" font-size="8.6" text-anchor="end" fill="#111">100K</text>
<text x="49.3" y="344.1" font-size="8.6" text-anchor="end" fill="#111">150K</text>
<text x="49.3" y="330.3" font-size="8.6" text-anchor="end" fill="#111">200K</text>
<text x="49.3" y="316.5" font-size="8.6" text-anchor="end" fill="#111">250K</text>
<path d="M60.61 382.50v3M70.00 382.50v3M86.25 382.50v3M103.49 382.50v3M119.77 382.50v3M75.05 382.50v1.8M78.00 382.50v1.8M80.09 382.50v1.8M81.72 382.50v1.8M83.05 382.50v1.8M84.17 382.50v1.8M85.14 382.50v1.8M86.00 382.50v1.8M91.29 382.50v1.8M94.24 382.50v1.8M96.34 382.50v1.8M97.96 382.50v1.8M99.29 382.50v1.8M100.41 382.50v1.8M101.38 382.50v1.8M102.24 382.50v1.8M108.53 382.50v1.8M111.49 382.50v1.8M113.58 382.50v1.8M115.20 382.50v1.8M116.53 382.50v1.8M117.65 382.50v1.8M118.62 382.50v1.8M119.48 382.50v1.8M124.81 382.50v1.8M55.98 382.50v1.8M57.46 382.50v1.8M58.94 382.50v1.8M62.27 382.50v1.8M64.12 382.50v1.8M65.97 382.50v1.8M67.82 382.50v1.8" stroke="#000" stroke-width="0.9" fill="none"/>
<text x="60.6" y="394.7" font-size="8" text-anchor="middle" fill="#111">0</text>
<text x="65.6" y="394.7" font-size="8" fill="#111">10<tspan dy="-3.3" font-size="6">2</tspan></text>
<text x="81.8" y="394.7" font-size="8" fill="#111">10<tspan dy="-3.3" font-size="6">3</tspan></text>
<text x="99.1" y="394.7" font-size="8" fill="#111">10<tspan dy="-3.3" font-size="6">4</tspan></text>
<text x="115.4" y="394.7" font-size="8" fill="#111">10<tspan dy="-3.3" font-size="6">5</tspan></text>
<g filter="url(#bl)">
<path d="M140.2 353.8h1M136.2 357.7h1M191.9 357.3h1M188.6 360.9h1M157.5 365.9h1M176.6 358.1h1M193.4 369.5h1M166.7 359.1h1" stroke="#5d7ce0" stroke-opacity="0.85" fill="none"/>
<path d="M148.2 358.6h1M144.2 356.3h1M184.1 368.8h1M187.9 366.6h1M156.9 360.4h1M164.8 363.4h1M156.9 360.9h1M167.9 360.7h1M186.7 366.3h1M184.5 360.3h1M179.0 369.1h1M191.7 365.6h1M166.1 370.2h1M185.7 363.1h1M192.8 366.9h1M172.2 369.2h1M162.1 362.9h1M184.1 366.8h1M181.1 367.9h1M159.9 363.7h1M169.7 360.8h1M191.7 366.6h1M160.8 365.7h1M173.9 368.8h1" stroke="#5678e0" stroke-opacity="0.85" fill="none"/>
<path d="M142.5 371.9h1M148.2 360.9h1M182.3 366.5h1M177.2 368.5h1M184.8 362.4h1M163.0 364.9h1M161.0 364.4h1M166.5 369.0h1M169.4 367.8h1M163.8 367.4h1M166.8 367.1h1M172.3 361.2h1M173.4 367.5h1M175.3 361.0h1M178.8 366.5h1M171.6 361.5h1M164.5 366.5h1M180.8 364.6h1" stroke="#5074df" stroke-opacity="0.85" fill="none"/>
<path d="M139.6 370.4h1M176.5 367.2h1M164.9 368.0h1M178.5 361.0h1M164.8 367.4h1M182.7 363.3h1M181.5 360.6h1M182.2 363.6h1M172.9 362.2h1M178.3 361.6h1M169.1 366.9h1M181.9 361.1h1M172.8 366.3h1M174.2 365.4h1M172.7 363.2h1M169.0 364.9h1" stroke="#4970df" stroke-opacity="0.85" fill="none"/>
<path d="M138.3 369.4h1M145.1 370.6h1M136.9 367.0h1M147.4 368.5h1M180.8 363.0h1M177.9 364.7h1M177.2 365.8h1M174.9 365.0h1M181.2 361.6h1M169.2 365.1h1M180.3 361.7h1M180.1 362.1h1M171.7 364.0h1M176.4 362.3h1M175.7 362.5h1M177.3 364.9h1M170.8 366.1h1M170.6 364.2h1M176.8 364.9h1M175.1 363.6h1M176.0 362.9h1M176.4 363.2h1M171.0 365.5h1M170.1 365.4h1M170.5 364.7h1" stroke="#426cde" stroke-opacity="0.85" fill="none"/>
<path d="M137.8 368.3h1M146.8 360.7h1M142.7 357.9h1M141.1 358.2h1M141.4 358.2h1M144.3 358.3h1M137.6 367.6h1M145.6 359.4h1" stroke="#3c69de" stroke-opacity="0.85" fill="none"/>
<path d="M138.7 359.8h1M142.5 358.3h1M145.5 369.7h1M139.0 359.7h1M145.5 359.7h1M141.8 358.7h1M147.0 364.3h1" stroke="#3971e0" stroke-opacity="0.85" fill="none"/>
<path d="M146.9 367.5h1M142.1 369.9h1M146.6 363.3h1M141.3 369.6h1M146.9 367.3h1M146.8 367.5h1M138.1 362.0h1M146.8 364.4h1M146.7 367.5h1M144.4 369.7h1M138.8 360.6h1" stroke="#3679e2" stroke-opacity="0.85" fill="none"/>
<path d="M137.8 365.6h1M139.1 360.4h1M137.8 365.3h1M139.0 360.5h1M146.1 363.4h1M146.5 364.9h1M140.9 369.0h1M144.4 359.7h1" stroke="#3382e5" stroke-opacity="0.85" fill="none"/>
<path d="M144.6 359.9h1M143.5 369.4h1M140.2 360.0h1M145.5 362.1h1M145.9 367.9h1M145.0 360.5h1M145.7 363.4h1M138.1 364.9h1M146.1 365.2h1M146.1 365.1h1M145.2 361.4h1M139.0 361.3h1M143.0 369.2h1M138.9 367.2h1M138.2 364.7h1" stroke="#308ae7" stroke-opacity="0.85" fill="none"/>
<path d="M139.9 368.0h1M145.9 365.0h1M144.1 368.9h1M145.9 365.6h1M138.4 364.3h1M143.1 368.9h1" stroke="#2e92ea" stroke-opacity="0.85" fill="none"/>
<path d="M144.7 368.3h1M141.4 368.5h1M141.2 360.3h1M139.5 367.2h1M140.6 360.7h1M144.6 367.9h1" stroke="#2a9de6" stroke-opacity="0.85" fill="none"/>
<path d="M144.5 368.0h1M143.7 360.6h1M139.9 367.4h1M143.0 360.4h1M143.8 360.7h1M145.0 367.3h1M138.7 364.6h1M143.3 360.6h1M144.5 362.3h1" stroke="#26aadf" stroke-opacity="0.85" fill="none"/>
<path d="M142.4 368.2h1M139.8 361.7h1M143.2 360.8h1M144.9 366.4h1M140.2 367.2h1" stroke="#22b6d8" stroke-opacity="0.85" fill="none"/>
<path d="M143.5 367.9h1M144.0 362.0h1M144.6 366.7h1M140.4 367.2h1M139.5 362.9h1M139.7 366.4h1M142.3 367.9h1M143.0 361.2h1M143.5 361.5h1M139.8 366.5h1" stroke="#1ec3d2" stroke-opacity="0.85" fill="none"/>
<path d="M140.5 361.8h1M144.1 366.5h1M142.4 367.5h1M141.5 361.5h1M143.6 367.1h1" stroke="#24c3af" stroke-opacity="0.85" fill="none"/>
<path d="M143.5 362.2h1M141.0 361.7h1M139.5 364.8h1M142.6 361.6h1M143.8 366.4h1M140.6 362.2h1M140.0 362.9h1M139.7 364.9h1M139.6 364.6h1" stroke="#2bc38c" stroke-opacity="0.85" fill="none"/>
<path d="M143.7 363.3h1M139.8 363.6h1M142.7 362.0h1M142.3 361.9h1M143.8 364.3h1M140.2 363.0h1M140.0 363.5h1" stroke="#32c369" stroke-opacity="0.85" fill="none"/>
<path d="M140.1 363.3h1M142.1 362.0h1M141.0 366.5h1M140.2 365.5h1M143.1 362.6h1M143.1 366.6h1M142.0 366.9h1M140.2 363.1h1M143.5 363.6h1M143.6 365.6h1M142.6 366.7h1M141.7 362.3h1" stroke="#3fc450" stroke-opacity="0.85" fill="none"/>
<path d="M142.3 362.4h1M143.3 366.0h1M142.5 366.6h1M141.0 366.1h1M142.7 366.3h1M143.4 364.9h1" stroke="#54c843" stroke-opacity="0.85" fill="none"/>
<path d="M143.3 365.0h1M141.2 366.0h1M140.6 363.9h1M140.5 364.1h1M143.1 364.2h1" stroke="#68cd37" stroke-opacity="0.85" fill="none"/>
<path d="M143.0 364.4h1M141.2 365.7h1M142.8 363.7h1M142.6 363.4h1M141.8 366.0h1M142.5 363.3h1M143.0 364.5h1M141.6 363.1h1M141.8 365.9h1M142.3 365.9h1M142.7 365.6h1M142.0 365.9h1M141.4 363.3h1" stroke="#7dd12a" stroke-opacity="0.85" fill="none"/>
<path d="M141.0 365.0h1M140.9 364.2h1M140.9 364.4h1M141.8 365.6h1M142.3 365.5h1M141.6 363.5h1M142.2 363.7h1M141.2 363.8h1M142.5 364.2h1M141.6 363.7h1" stroke="#9ed625" stroke-opacity="0.85" fill="none"/>
<path d="M141.6 364.0h1M142.2 364.6h1M142.1 365.0h1M142.0 364.9h1M141.5 364.6h1M141.8 364.9h1M141.8 364.4h1" stroke="#c1db21" stroke-opacity="0.85" fill="none"/>
</g>
<rect x="154.4" y="338.3" width="50.6" height="41.0" fill="none" stroke="#a8a8a8" stroke-width="0.9"/>
<text x="181.5" y="336.6" font-size="8.2" text-anchor="middle" fill="#222" stroke="#222" stroke-width="0.12">7.2%</text>
<rect x="134.00" y="310.20" width="73.00" height="72.30" rx="1" fill="none" stroke="#000" stroke-width="1.4"/>
<path d="M134.00 382.50h-2.6M134.00 379.74h-1.4M134.00 376.98h-1.4M134.00 374.23h-1.4M134.00 371.47h-1.4M134.00 368.71h-2.6M134.00 365.95h-1.4M134.00 363.19h-1.4M134.00 360.44h-1.4M134.00 357.68h-1.4M134.00 354.92h-2.6M134.00 352.16h-1.4M134.00 349.40h-1.4M134.00 346.65h-1.4M134.00 343.89h-1.4M134.00 341.13h-2.6M134.00 338.37h-1.4M134.00 335.61h-1.4M134.00 332.86h-1.4M134.00 330.10h-1.4M134.00 327.34h-2.6M134.00 324.58h-1.4M134.00 321.82h-1.4M134.00 319.07h-1.4M134.00 316.31h-1.4M134.00 313.55h-2.6M134.00 310.79h-1.4" stroke="#000" stroke-width="0.9" fill="none"/>
<path d="M140.02 382.50v3M149.29 382.50v3M165.32 382.50v3M182.33 382.50v3M198.39 382.50v3M154.27 382.50v1.8M157.18 382.50v1.8M159.25 382.50v1.8M160.85 382.50v1.8M162.16 382.50v1.8M163.27 382.50v1.8M164.23 382.50v1.8M165.07 382.50v1.8M170.29 382.50v1.8M173.21 382.50v1.8M175.27 382.50v1.8M176.87 382.50v1.8M178.18 382.50v1.8M179.29 382.50v1.8M180.25 382.50v1.8M181.09 382.50v1.8M187.30 382.50v1.8M190.21 382.50v1.8M192.28 382.50v1.8M193.88 382.50v1.8M195.19 382.50v1.8M196.30 382.50v1.8M197.26 382.50v1.8M198.10 382.50v1.8M203.36 382.50v1.8M135.46 382.50v1.8M136.92 382.50v1.8M138.38 382.50v1.8M141.66 382.50v1.8M143.49 382.50v1.8M145.31 382.50v1.8M147.14 382.50v1.8" stroke="#000" stroke-width="0.9" fill="none"/>
<text x="140.0" y="394.7" font-size="8" text-anchor="middle" fill="#111">0</text>
<text x="144.9" y="394.7" font-size="8" fill="#111">10<tspan dy="-3.3" font-size="6">2</tspan></text>
<text x="160.9" y="394.7" font-size="8" fill="#111">10<tspan dy="-3.3" font-size="6">3</tspan></text>
<text x="177.9" y="394.7" font-size="8" fill="#111">10<tspan dy="-3.3" font-size="6">4</tspan></text>
<text x="194.0" y="394.7" font-size="8" fill="#111">10<tspan dy="-3.3" font-size="6">5</tspan></text>
<g filter="url(#bl)">
<path d="M252.0 380.2h1M259.9 341.8h1M245.1 372.7h1M272.0 366.5h1M246.7 345.3h1M263.9 371.7h1M246.3 348.6h1M245.6 352.1h1M272.0 356.8h1M246.9 363.6h1M246.6 367.7h1M241.3 342.1h1M258.6 373.3h1M280.9 347.9h1M274.7 353.5h1M254.3 344.8h1M268.3 356.3h1M264.7 346.3h1M273.8 367.3h1M269.1 369.2h1M248.8 352.0h1M253.5 350.8h1M270.9 348.1h1" stroke="#5d7ce0" stroke-opacity="0.85" fill="none"/>
<path d="M229.9 355.5h1M217.0 348.4h1M215.1 368.8h1M246.2 366.2h1M263.6 366.6h1M247.1 355.8h1M249.3 369.2h1M267.4 363.7h1M242.3 361.6h1M264.3 355.7h1M244.6 359.6h1M254.9 346.4h1M248.9 367.2h1M260.2 363.9h1M259.9 354.4h1M265.8 352.2h1M268.9 350.3h1" stroke="#5678e0" stroke-opacity="0.85" fill="none"/>
<path d="M223.6 346.6h1M227.7 352.8h1M268.0 358.4h1M261.2 369.9h1M270.2 352.8h1M241.6 357.0h1M265.8 351.2h1M262.3 361.9h1M264.6 349.4h1M262.0 349.9h1M264.3 349.6h1M259.8 369.3h1M249.1 353.6h1M261.5 350.7h1M257.8 365.1h1M254.2 366.1h1M253.4 348.2h1M251.0 366.5h1M255.9 347.9h1M249.7 354.1h1M251.0 365.5h1M251.5 356.0h1M241.7 357.9h1M257.3 362.9h1M260.9 368.8h1M242.4 359.2h1M265.0 362.9h1M252.2 365.9h1M242.3 358.6h1M259.2 366.3h1M266.4 358.3h1M249.8 357.1h1" stroke="#5074df" stroke-opacity="0.85" fill="none"/>
<path d="M223.9 361.3h1M217.3 361.3h1M216.4 360.9h1M216.1 355.5h1M227.5 355.9h1M226.8 358.9h1M220.9 347.1h1M219.2 349.1h1M217.0 371.2h1M222.5 374.8h1M224.1 374.3h1M216.4 369.1h1M265.1 362.6h1M269.0 353.2h1M260.5 366.8h1M250.8 352.8h1M260.1 366.3h1M259.2 349.7h1M261.7 358.0h1M269.0 355.8h1M254.1 355.3h1M268.1 355.5h1M264.8 358.6h1M259.9 359.2h1M257.6 352.4h1M259.1 350.3h1M255.1 364.6h1M255.1 364.6h1M249.8 360.7h1M258.7 350.7h1M268.7 354.1h1M251.3 351.3h1M263.8 361.0h1M268.9 354.9h1M260.9 358.5h1M256.5 349.4h1M250.7 361.7h1M265.4 359.3h1M265.2 360.5h1M251.8 351.1h1M255.0 355.5h1" stroke="#4970df" stroke-opacity="0.85" fill="none"/>
<path d="M224.9 360.2h1M226.7 358.3h1M217.4 353.3h1M220.7 347.7h1M223.5 349.0h1M217.0 359.4h1M219.2 359.9h1M222.1 348.0h1M226.3 371.4h1M217.7 366.7h1M264.7 360.5h1M254.2 349.6h1M258.8 356.2h1M250.2 359.2h1M255.0 352.8h1M252.5 350.8h1M259.9 357.6h1M252.9 363.1h1M250.4 358.8h1M251.3 358.2h1M256.5 351.5h1M259.4 357.2h1M252.8 362.8h1M259.0 357.3h1M254.7 357.6h1M255.8 361.8h1M255.7 350.7h1M254.6 352.1h1M253.3 351.4h1" stroke="#426cde" stroke-opacity="0.85" fill="none"/>
<path d="M217.0 358.1h1M226.1 352.0h1M225.1 350.7h1M221.5 348.5h1M219.2 350.9h1M217.5 358.2h1M226.0 357.1h1M222.9 373.7h1M225.8 367.5h1M218.9 371.6h1M253.5 359.0h1M255.5 351.7h1M251.3 359.0h1M256.5 356.4h1M256.8 356.4h1M253.9 351.2h1M256.4 359.9h1M256.9 356.5h1M252.9 362.0h1M251.8 360.2h1M254.5 362.1h1M256.6 358.2h1M255.9 357.1h1M252.6 360.2h1M255.9 359.4h1M255.7 360.4h1M253.8 361.6h1" stroke="#3c69de" stroke-opacity="0.85" fill="none"/>
<path d="M217.8 357.5h1M217.6 354.9h1M219.2 351.7h1M225.7 368.1h1M221.1 372.7h1M224.0 366.3h1M255.1 359.9h1M254.9 360.4h1" stroke="#3971e0" stroke-opacity="0.85" fill="none"/>
<path d="M219.3 358.6h1M221.9 350.0h1M221.2 359.6h1M218.1 355.4h1M225.1 356.8h1M222.5 373.1h1M217.8 369.1h1M221.0 365.6h1" stroke="#3679e2" stroke-opacity="0.85" fill="none"/>
<path d="M221.0 350.9h1M225.4 353.7h1M225.1 371.3h1M220.3 366.0h1" stroke="#3382e5" stroke-opacity="0.85" fill="none"/>
<path d="M222.7 359.3h1M222.0 359.2h1M221.9 359.1h1M223.8 351.4h1M225.3 369.0h1M218.4 368.3h1M219.7 366.6h1" stroke="#308ae7" stroke-opacity="0.85" fill="none"/>
<path d="M224.4 352.2h1M223.1 372.1h1M219.2 370.2h1M222.4 372.0h1M219.7 370.6h1M218.8 369.4h1M219.0 369.8h1M224.5 371.0h1M223.1 366.8h1" stroke="#2e92ea" stroke-opacity="0.85" fill="none"/>
<path d="M224.6 354.6h1M222.4 358.6h1M224.7 353.8h1M223.7 357.6h1M223.3 358.0h1M219.4 355.1h1M221.0 351.9h1M220.5 371.1h1M223.7 371.7h1M221.0 371.3h1M224.6 368.8h1M222.6 366.7h1M219.0 368.5h1M224.3 368.3h1M224.5 370.5h1M224.4 370.6h1M223.0 367.0h1" stroke="#2a9de6" stroke-opacity="0.85" fill="none"/>
<path d="M219.6 356.1h1M224.4 354.3h1M224.3 354.4h1M223.1 357.6h1M224.1 368.1h1M224.5 369.4h1M220.4 366.9h1M223.0 371.3h1" stroke="#26aadf" stroke-opacity="0.85" fill="none"/>
<path d="M219.9 353.7h1M223.0 352.0h1M223.1 357.3h1M223.2 357.0h1M221.4 357.6h1M220.1 353.6h1M224.0 354.0h1M220.2 356.3h1M223.1 352.3h1M223.6 371.0h1M222.4 367.0h1M223.1 367.4h1M220.5 367.1h1M219.6 368.6h1M222.8 371.0h1" stroke="#22b6d8" stroke-opacity="0.85" fill="none"/>
<path d="M220.9 357.0h1M220.1 355.8h1M222.5 357.3h1M220.7 353.0h1M222.2 352.4h1M221.5 370.7h1M223.9 369.8h1M222.5 370.8h1M220.6 370.0h1M220.0 369.3h1M221.6 367.2h1M220.2 367.9h1" stroke="#1ec3d2" stroke-opacity="0.85" fill="none"/>
<path d="M222.5 356.7h1M222.8 352.6h1M220.3 354.2h1M221.9 356.9h1M223.4 353.4h1M222.0 352.6h1M221.8 370.5h1M220.1 368.3h1M223.4 370.0h1M220.2 368.6h1M223.2 370.1h1" stroke="#24c3af" stroke-opacity="0.85" fill="none"/>
<path d="M223.2 354.5h1M221.2 356.2h1M221.5 356.3h1M222.7 355.4h1M221.0 355.7h1M222.2 353.0h1M222.1 353.0h1M223.3 369.6h1M220.8 369.6h1M223.0 369.9h1M221.0 367.8h1M220.5 368.5h1M222.9 369.7h1M222.8 368.4h1M221.0 368.0h1" stroke="#2bc38c" stroke-opacity="0.85" fill="none"/>
<path d="M221.5 353.3h1M220.9 354.6h1M221.8 355.8h1M221.1 355.2h1M222.6 353.5h1M221.1 354.6h1M222.1 354.9h1M221.6 353.8h1M221.4 354.2h1M220.8 368.4h1M220.8 368.4h1M222.7 369.4h1M221.9 368.2h1M221.5 368.1h1M221.9 368.2h1M221.9 368.3h1M221.8 368.5h1M222.0 368.7h1M222.1 368.9h1" stroke="#32c369" stroke-opacity="0.85" fill="none"/>
<path d="M222.0 353.9h1M221.8 368.7h1" stroke="#3fc450" stroke-opacity="0.85" fill="none"/>
</g>
<rect x="234.0" y="338.8" width="50.5" height="40.5" fill="none" stroke="#a8a8a8" stroke-width="0.9"/>
<text x="261.1" y="337.1" font-size="8.2" text-anchor="middle" fill="#222" stroke="#222" stroke-width="0.12">13%</text>
<rect x="212.70" y="310.20" width="73.10" height="72.30" rx="1" fill="none" stroke="#000" stroke-width="1.4"/>
<path d="M212.70 382.50h-2.6M212.70 379.74h-1.4M212.70 376.98h-1.4M212.70 374.23h-1.4M212.70 371.47h-1.4M212.70 368.71h-2.6M212.70 365.95h-1.4M212.70 363.19h-1.4M212.70 360.44h-1.4M212.70 357.68h-1.4M212.70 354.92h-2.6M212.70 352.16h-1.4M212.70 349.40h-1.4M212.70 346.65h-1.4M212.70 343.89h-1.4M212.70 341.13h-2.6M212.70 338.37h-1.4M212.70 335.61h-1.4M212.70 332.86h-1.4M212.70 330.10h-1.4M212.70 327.34h-2.6M212.70 324.58h-1.4M212.70 321.82h-1.4M212.70 319.07h-1.4M212.70 316.31h-1.4M212.70 313.55h-2.6M212.70 310.79h-1.4" stroke="#000" stroke-width="0.9" fill="none"/>
<path d="M218.73 382.50v3M228.01 382.50v3M244.06 382.50v3M261.09 382.50v3M277.17 382.50v3M233.00 382.50v1.8M235.91 382.50v1.8M237.98 382.50v1.8M239.59 382.50v1.8M240.90 382.50v1.8M242.01 382.50v1.8M242.97 382.50v1.8M243.81 382.50v1.8M249.04 382.50v1.8M251.96 382.50v1.8M254.03 382.50v1.8M255.63 382.50v1.8M256.94 382.50v1.8M258.05 382.50v1.8M259.01 382.50v1.8M259.86 382.50v1.8M266.08 382.50v1.8M268.99 382.50v1.8M271.06 382.50v1.8M272.67 382.50v1.8M273.98 382.50v1.8M275.08 382.50v1.8M276.04 382.50v1.8M276.89 382.50v1.8M282.16 382.50v1.8M214.16 382.50v1.8M215.62 382.50v1.8M217.09 382.50v1.8M220.38 382.50v1.8M222.20 382.50v1.8M224.03 382.50v1.8M225.86 382.50v1.8" stroke="#000" stroke-width="0.9" fill="none"/>
<text x="218.7" y="394.7" font-size="8" text-anchor="middle" fill="#111">0</text>
<text x="223.6" y="394.7" font-size="8" fill="#111">10<tspan dy="-3.3" font-size="6">2</tspan></text>
<text x="239.7" y="394.7" font-size="8" fill="#111">10<tspan dy="-3.3" font-size="6">3</tspan></text>
<text x="256.7" y="394.7" font-size="8" fill="#111">10<tspan dy="-3.3" font-size="6">4</tspan></text>
<text x="272.8" y="394.7" font-size="8" fill="#111">10<tspan dy="-3.3" font-size="6">5</tspan></text>
<line x1="53.80" y1="403.00" x2="229.30" y2="403.00" stroke="#000" stroke-width="1.1"/>
<path d="M234.3 403.0L228.8 400.4L228.8 405.6Z" fill="#000"/>
<text x="240.0" y="405.8" font-size="10" textLength="25.8" lengthAdjust="spacingAndGlyphs">hCD45</text>
<path d="M337.6 151.5V246.4H511.5" stroke="#000" stroke-width="1.5" fill="none"/>
<line x1="334.60" y1="246.40" x2="337.60" y2="246.40" stroke="#000" stroke-width="1.2"/>
<text x="332.8" y="249.8" font-size="9.0" text-anchor="end" fill="#111">0</text>
<line x1="334.60" y1="227.54" x2="337.60" y2="227.54" stroke="#000" stroke-width="1.2"/>
<text x="332.8" y="230.9" font-size="9.0" text-anchor="end" fill="#111">20</text>
<line x1="334.60" y1="208.68" x2="337.60" y2="208.68" stroke="#000" stroke-width="1.2"/>
<text x="332.8" y="212.1" font-size="9.0" text-anchor="end" fill="#111">40</text>
<line x1="334.60" y1="189.82" x2="337.60" y2="189.82" stroke="#000" stroke-width="1.2"/>
<text x="332.8" y="193.2" font-size="9.0" text-anchor="end" fill="#111">60</text>
<line x1="334.60" y1="170.96" x2="337.60" y2="170.96" stroke="#000" stroke-width="1.2"/>
<text x="332.8" y="174.4" font-size="9.0" text-anchor="end" fill="#111">80</text>
<line x1="334.60" y1="152.10" x2="337.60" y2="152.10" stroke="#000" stroke-width="1.2"/>
<text x="332.8" y="155.5" font-size="9.0" text-anchor="end" fill="#111">100</text>
<text transform="translate(313.2,195.4) rotate(-90)" x="0" y="0" font-size="8.5" text-anchor="middle">% hCD45 in PB</text>
<line x1="355.05" y1="221.60" x2="355.05" y2="219.00" stroke="#222" stroke-width="1.3"/>
<line x1="351.55" y1="219.00" x2="358.55" y2="219.00" stroke="#222" stroke-width="1.3"/>
<rect x="349.0" y="221.6" width="12.1" height="24.2" fill="#6aac3e" stroke="#4e8a2a" stroke-width="0.6"/>
<line x1="369.05" y1="224.20" x2="369.05" y2="218.20" stroke="#222" stroke-width="1.3"/>
<line x1="365.55" y1="218.20" x2="372.55" y2="218.20" stroke="#222" stroke-width="1.3"/>
<rect x="363.0" y="224.2" width="12.1" height="21.6" fill="#2c4a86" stroke="#1d2f5c" stroke-width="0.6"/>
<line x1="383.05" y1="223.10" x2="383.05" y2="219.70" stroke="#222" stroke-width="1.3"/>
<line x1="379.55" y1="219.70" x2="386.55" y2="219.70" stroke="#222" stroke-width="1.3"/>
<rect x="377.0" y="223.1" width="12.1" height="22.7" fill="#c20a30" stroke="#7a0018" stroke-width="0.6"/>
<line x1="369.05" y1="246.40" x2="369.05" y2="249.40" stroke="#000" stroke-width="1.1"/>
<line x1="410.65" y1="188.50" x2="410.65" y2="183.40" stroke="#222" stroke-width="1.3"/>
<line x1="407.15" y1="183.40" x2="414.15" y2="183.40" stroke="#222" stroke-width="1.3"/>
<rect x="404.6" y="188.5" width="12.1" height="57.3" fill="#6aac3e" stroke="#4e8a2a" stroke-width="0.6"/>
<line x1="424.65" y1="187.20" x2="424.65" y2="181.60" stroke="#222" stroke-width="1.3"/>
<line x1="421.15" y1="181.60" x2="428.15" y2="181.60" stroke="#222" stroke-width="1.3"/>
<rect x="418.6" y="187.2" width="12.1" height="58.6" fill="#2c4a86" stroke="#1d2f5c" stroke-width="0.6"/>
<line x1="438.65" y1="238.70" x2="438.65" y2="237.00" stroke="#222" stroke-width="1.3"/>
<line x1="435.15" y1="237.00" x2="442.15" y2="237.00" stroke="#222" stroke-width="1.3"/>
<rect x="432.6" y="238.7" width="12.1" height="7.1" fill="#c20a30" stroke="#7a0018" stroke-width="0.6"/>
<line x1="424.65" y1="246.40" x2="424.65" y2="249.40" stroke="#000" stroke-width="1.1"/>
<line x1="466.15" y1="168.20" x2="466.15" y2="160.50" stroke="#222" stroke-width="1.3"/>
<line x1="462.65" y1="160.50" x2="469.65" y2="160.50" stroke="#222" stroke-width="1.3"/>
<rect x="460.1" y="168.2" width="12.1" height="77.6" fill="#6aac3e" stroke="#4e8a2a" stroke-width="0.6"/>
<line x1="480.15" y1="171.50" x2="480.15" y2="168.80" stroke="#222" stroke-width="1.3"/>
<line x1="476.65" y1="168.80" x2="483.65" y2="168.80" stroke="#222" stroke-width="1.3"/>
<rect x="474.1" y="171.5" width="12.1" height="74.3" fill="#2c4a86" stroke="#1d2f5c" stroke-width="0.6"/>
<line x1="494.15" y1="232.30" x2="494.15" y2="229.50" stroke="#222" stroke-width="1.3"/>
<line x1="490.65" y1="229.50" x2="497.65" y2="229.50" stroke="#222" stroke-width="1.3"/>
<rect x="488.1" y="232.3" width="12.1" height="13.5" fill="#c20a30" stroke="#7a0018" stroke-width="0.6"/>
<line x1="480.15" y1="246.40" x2="480.15" y2="249.40" stroke="#000" stroke-width="1.1"/>
<path d="M337.6 151.5V246.4H511.5" stroke="#000" stroke-width="1.5" fill="none"/>
<text x="369.1" y="263.6" font-size="9" text-anchor="middle" fill="#111">4<tspan dy="-3.3" font-size="5.6">th</tspan><tspan dy="3.3"> week</tspan></text>
<text x="424.7" y="263.6" font-size="9" text-anchor="middle" fill="#111">8<tspan dy="-3.3" font-size="5.6">th</tspan><tspan dy="3.3"> week</tspan></text>
<text x="480.2" y="263.6" font-size="9" text-anchor="middle" fill="#111">12<tspan dy="-3.3" font-size="5.6">th</tspan><tspan dy="3.3"> week</tspan></text>
<line x1="399.00" y1="218.80" x2="399.00" y2="233.00" stroke="#b01035" stroke-width="1.2"/>
<path d="M399 238L396.6 232L401.4 232Z" fill="#b01035"/>
<path d="M427.4 175.20000000000002V178.4M427.4 176.8H446.5M446.5 175.20000000000002V178.4" stroke="#111" stroke-width="1.1" fill="none"/>
<text x="436.9" y="175.9" font-size="8.5" text-anchor="middle" font-weight="bold" fill="#222" letter-spacing="0.6">***</text>
<path d="M481.5 160.70000000000002V163.9M481.5 162.3H502.3M502.3 160.70000000000002V163.9" stroke="#111" stroke-width="1.1" fill="none"/>
<text x="491.9" y="160.4" font-size="8.5" text-anchor="middle" font-weight="bold" fill="#222" letter-spacing="0.6">***</text>
<rect x="343.9" y="152.9" width="9.6" height="3.4" fill="#6aac3e"/>
<text x="356.6" y="157.3" font-size="7.5" fill="#111">Untreated</text>
<rect x="343.9" y="164.4" width="9.6" height="3.4" fill="#2c4a86"/>
<text x="356.6" y="168.8" font-size="7.5" fill="#111">IgG Isotype</text>
<rect x="343.9" y="174.8" width="9.6" height="3.4" fill="#c20a30"/>
<text x="356.6" y="179.2" font-size="7.5" fill="#111">TRC105</text>
<path d="M337.7 296.59999999999997V382.6H482" stroke="#000" stroke-width="1.5" fill="none"/>
<line x1="334.70" y1="382.60" x2="337.70" y2="382.60" stroke="#000" stroke-width="1.2"/>
<text x="332.6" y="386.0" font-size="9.0" text-anchor="end" fill="#111">0</text>
<line x1="334.70" y1="339.90" x2="337.70" y2="339.90" stroke="#000" stroke-width="1.2"/>
<text x="332.6" y="343.3" font-size="9.0" text-anchor="end" fill="#111">50</text>
<line x1="334.70" y1="297.20" x2="337.70" y2="297.20" stroke="#000" stroke-width="1.2"/>
<text x="332.6" y="300.6" font-size="9.0" text-anchor="end" fill="#111">100</text>
<line x1="337.70" y1="382.60" x2="337.70" y2="385.60" stroke="#000" stroke-width="1.1"/>
<text x="335.7" y="393.7" font-size="8.8" text-anchor="middle" fill="#111">0</text>
<line x1="384.80" y1="382.60" x2="384.80" y2="385.60" stroke="#000" stroke-width="1.1"/>
<text x="384.8" y="393.7" font-size="8.8" text-anchor="middle" fill="#111">50</text>
<line x1="431.90" y1="382.60" x2="431.90" y2="385.60" stroke="#000" stroke-width="1.1"/>
<text x="431.9" y="393.7" font-size="8.8" text-anchor="middle" fill="#111">100</text>
<line x1="479.00" y1="382.60" x2="479.00" y2="385.60" stroke="#000" stroke-width="1.1"/>
<text x="479.0" y="393.7" font-size="8.8" text-anchor="middle" fill="#111">150</text>
<text transform="translate(314.2,338.4) rotate(-90)" x="0" y="0" font-size="9.5" text-anchor="middle">Survival (%)</text>
<text x="420.2" y="403.6" font-size="10.6" text-anchor="middle" fill="#111" textLength="99" lengthAdjust="spacingAndGlyphs">Days after transplantation</text>
<path d="M337.7 297.2H441.3V339.9H450.7V382.6" stroke="#bb3a22" stroke-width="1.5" stroke-dasharray="1.1 0.9" fill="none"/>
<path d="M337.7 297.2H408.3V325.6H422.5V354.2H423.4V382.6" stroke="#2c4a86" stroke-width="1.4" fill="none"/>
<line x1="351.83" y1="295.80" x2="351.83" y2="298.20" stroke="#222" stroke-width="1.0"/>
<line x1="365.96" y1="295.80" x2="365.96" y2="298.20" stroke="#222" stroke-width="1.0"/>
<line x1="380.09" y1="295.80" x2="380.09" y2="298.20" stroke="#222" stroke-width="1.0"/>
<line x1="394.22" y1="295.80" x2="394.22" y2="298.20" stroke="#222" stroke-width="1.0"/>
<line x1="408.35" y1="295.80" x2="408.35" y2="298.20" stroke="#222" stroke-width="1.0"/>
<path d="M337.7 297.2H408" stroke="#5a2030" stroke-width="1.3" fill="none"/>
<line x1="446.00" y1="295.70" x2="456.60" y2="295.70" stroke="#2c4a86" stroke-width="1.4"/>
<line x1="451.30" y1="294.20" x2="451.30" y2="297.20" stroke="#2c4a86" stroke-width="1.0"/>
<path d="M446 307.7H456.6" stroke="#bb3a22" stroke-width="1.5" stroke-dasharray="1.1 0.9"/>
<line x1="451.30" y1="306.20" x2="451.30" y2="309.20" stroke="#c8402a" stroke-width="1.0"/>
<text x="462.4" y="297.8" font-size="8" fill="#111">IgG Isotype</text>
<text x="462.4" y="310.6" font-size="8" fill="#111">TRC105</text>
<text x="459.0" y="323.3" font-size="8" fill="#111">p= 0,0499</text>
<path d="M505 295H507.6V309H505" stroke="#111" stroke-width="1.1" fill="none"/>
<text x="510.2" y="305.5" font-size="8" fill="#111">*</text>
<path d="M337.6 432V536.2H488" stroke="#000" stroke-width="1.5" fill="none"/>
<line x1="334.60" y1="536.20" x2="337.60" y2="536.20" stroke="#000" stroke-width="1.2"/>
<text x="332.6" y="539.6" font-size="9.0" text-anchor="end" fill="#111">0</text>
<line x1="334.60" y1="502.67" x2="337.60" y2="502.67" stroke="#000" stroke-width="1.2"/>
<text x="332.6" y="506.1" font-size="9.0" text-anchor="end" fill="#111">50</text>
<line x1="334.60" y1="469.13" x2="337.60" y2="469.13" stroke="#000" stroke-width="1.2"/>
<text x="332.6" y="472.5" font-size="9.0" text-anchor="end" fill="#111">100</text>
<line x1="334.60" y1="435.60" x2="337.60" y2="435.60" stroke="#000" stroke-width="1.2"/>
<text x="332.6" y="439.0" font-size="9.0" text-anchor="end" fill="#111">150</text>
<text transform="translate(313.2,491.7) rotate(-90)" x="0" y="0" font-size="8.5" text-anchor="middle">% hCD45 in PB</text>
<line x1="368.05" y1="474.50" x2="368.05" y2="470.00" stroke="#222" stroke-width="1.3"/>
<line x1="360.30" y1="470.00" x2="375.80" y2="470.00" stroke="#222" stroke-width="1.3"/>
<rect x="352.8" y="474.5" width="30.5" height="61.1" fill="#6aac3e" stroke="#4e8a2a" stroke-width="0.6"/>
<line x1="368.05" y1="536.20" x2="368.05" y2="539.20" stroke="#000" stroke-width="1.1"/>
<text x="367.4" y="549.6" font-size="8.6" text-anchor="middle" fill="#111">Untreated</text>
<line x1="416.10" y1="471.80" x2="416.10" y2="469.70" stroke="#222" stroke-width="1.3"/>
<line x1="408.35" y1="469.70" x2="423.85" y2="469.70" stroke="#222" stroke-width="1.3"/>
<rect x="401.2" y="471.8" width="29.8" height="63.8" fill="#2c4a86" stroke="#1d2f5c" stroke-width="0.6"/>
<line x1="416.10" y1="536.20" x2="416.10" y2="539.20" stroke="#000" stroke-width="1.1"/>
<text x="414.6" y="549.6" font-size="8.6" text-anchor="middle" fill="#111">IgG Isotype</text>
<line x1="463.35" y1="473.80" x2="463.35" y2="469.70" stroke="#222" stroke-width="1.3"/>
<line x1="455.60" y1="469.70" x2="471.10" y2="469.70" stroke="#222" stroke-width="1.3"/>
<rect x="448.3" y="473.8" width="30.1" height="61.8" fill="#c20a30" stroke="#7a0018" stroke-width="0.6"/>
<line x1="463.35" y1="536.20" x2="463.35" y2="539.20" stroke="#000" stroke-width="1.1"/>
<text x="462.4" y="549.6" font-size="8.6" text-anchor="middle" fill="#111">TRC105</text>
<path d="M337.6 432V536.2H488" stroke="#000" stroke-width="1.5" fill="none"/>
<rect x="350.3" y="435.3" width="9.2" height="3.6" fill="#6aac3e"/>
<text x="363.0" y="439.8" font-size="7.5" fill="#111">Untreated</text>
<rect x="350.3" y="446.3" width="9.2" height="3.6" fill="#2c4a86"/>
<text x="363.0" y="450.8" font-size="7.5" fill="#111">IgG Isotype</text>
<rect x="350.3" y="457.3" width="9.2" height="3.6" fill="#c20a30"/>
<text x="363.0" y="461.8" font-size="7.5" fill="#111">TRC105</text>
<path d="M337.8 580.6999999999999V672.5H490.3" stroke="#000" stroke-width="1.5" fill="none"/>
<line x1="334.80" y1="672.50" x2="337.80" y2="672.50" stroke="#000" stroke-width="1.2"/>
<text x="332.6" y="675.9" font-size="9.0" text-anchor="end" fill="#111">0</text>
<line x1="334.80" y1="626.90" x2="337.80" y2="626.90" stroke="#000" stroke-width="1.2"/>
<text x="332.6" y="630.3" font-size="9.0" text-anchor="end" fill="#111">50</text>
<line x1="334.80" y1="581.30" x2="337.80" y2="581.30" stroke="#000" stroke-width="1.2"/>
<text x="332.6" y="584.7" font-size="9.0" text-anchor="end" fill="#111">100</text>
<line x1="337.80" y1="672.50" x2="337.80" y2="675.50" stroke="#000" stroke-width="1.1"/>
<text x="337.8" y="686.2" font-size="8.8" text-anchor="middle" fill="#111">0</text>
<line x1="362.80" y1="672.50" x2="362.80" y2="675.50" stroke="#000" stroke-width="1.1"/>
<text x="362.8" y="686.2" font-size="8.8" text-anchor="middle" fill="#111">20</text>
<line x1="387.80" y1="672.50" x2="387.80" y2="675.50" stroke="#000" stroke-width="1.1"/>
<text x="387.8" y="686.2" font-size="8.8" text-anchor="middle" fill="#111">40</text>
<line x1="412.80" y1="672.50" x2="412.80" y2="675.50" stroke="#000" stroke-width="1.1"/>
<text x="412.8" y="686.2" font-size="8.8" text-anchor="middle" fill="#111">60</text>
<line x1="437.80" y1="672.50" x2="437.80" y2="675.50" stroke="#000" stroke-width="1.1"/>
<text x="437.8" y="686.2" font-size="8.8" text-anchor="middle" fill="#111">80</text>
<line x1="462.80" y1="672.50" x2="462.80" y2="675.50" stroke="#000" stroke-width="1.1"/>
<text x="462.8" y="686.2" font-size="8.8" text-anchor="middle" fill="#111">100</text>
<line x1="487.80" y1="672.50" x2="487.80" y2="675.50" stroke="#000" stroke-width="1.1"/>
<text x="487.8" y="686.2" font-size="8.8" text-anchor="middle" fill="#111">120</text>
<text transform="translate(314.2,625.4) rotate(-90)" x="0" y="0" font-size="9.5" text-anchor="middle">Survival (%)</text>
<text x="413.9" y="700.2" font-size="10.6" text-anchor="middle" fill="#111" textLength="99" lengthAdjust="spacingAndGlyphs">Days after transplantation</text>
<path d="M337.8 581.3H450.3V611.7H460.3V642.1H462.8V672.5" stroke="#bb3a22" stroke-width="1.5" stroke-dasharray="1.1 0.9" fill="none"/>
<path d="M337.8 581.3H440.3V611.7H449.1V642.1H451.6V672.5" stroke="#2c4a86" stroke-width="1.4" fill="none"/>
<line x1="356.55" y1="579.90" x2="356.55" y2="582.30" stroke="#222" stroke-width="1.0"/>
<line x1="375.30" y1="579.90" x2="375.30" y2="582.30" stroke="#222" stroke-width="1.0"/>
<line x1="394.05" y1="579.90" x2="394.05" y2="582.30" stroke="#222" stroke-width="1.0"/>
<line x1="412.80" y1="579.90" x2="412.80" y2="582.30" stroke="#222" stroke-width="1.0"/>
<path d="M337.8 581.3H440.5" stroke="#5a2030" stroke-width="1.3" fill="none"/>
<text x="94.3" y="431.3" font-size="10" font-weight="bold" text-anchor="middle">4<tspan dy="-3.8" font-size="6.9">th</tspan><tspan dy="3.8"> week</tspan></text>
<text x="206.8" y="431.3" font-size="10" font-weight="bold" text-anchor="middle">8<tspan dy="-3.8" font-size="6.9">th</tspan><tspan dy="3.8"> week</tspan></text>
<text transform="translate(23.8,475.0) rotate(-90)" x="0" y="0" font-size="8.9" text-anchor="middle">Untreated</text>
<text transform="translate(23.8,561.5) rotate(-90)" x="0" y="0" font-size="8.9" text-anchor="middle">IgG Isotype</text>
<text transform="translate(23.8,647.5) rotate(-90)" x="0" y="0" font-size="8.9" text-anchor="middle">TRC105</text>
<g filter="url(#bl)">
<path d="M80.4 491.3h1M58.7 439.6h1M57.8 451.8h1M72.3 510.3h1M67.6 448.2h1M63.6 512.7h1M75.1 499.6h1M74.6 497.7h1M68.2 509.4h1M72.1 501.8h1M63.9 446.7h1M63.6 447.7h1M61.8 509.5h1M56.2 495.1h1M72.5 495.0h1M110.6 484.8h1M90.4 495.8h1M109.6 490.8h1M98.9 497.1h1M94.7 492.9h1M96.6 491.9h1M104.8 500.6h1M101.5 499.7h1M107.3 493.2h1M106.5 498.5h1M105.5 487.5h1M105.3 487.8h1M99.2 494.1h1M95.4 496.8h1M109.8 495.5h1M119.3 468.2h1M108.4 484.9h1M99.1 466.7h1M107.5 465.6h1M116.7 477.7h1M110.7 475.7h1M91.0 477.1h1M91.7 477.3h1" stroke="#5d7ce0" stroke-opacity="0.85" fill="none"/>
<path d="M60.2 456.8h1M60.2 513.2h1M63.3 454.3h1M56.8 460.0h1M59.9 506.7h1M57.3 505.1h1M61.2 512.5h1M66.9 508.1h1M69.0 454.0h1M73.2 465.4h1M66.5 505.9h1M56.6 504.2h1M71.9 470.1h1M65.0 506.9h1M58.5 460.4h1M69.2 455.1h1M58.8 462.4h1M57.1 499.0h1M55.9 500.9h1M68.5 503.8h1M68.1 503.5h1M55.9 492.8h1M70.0 502.1h1M68.5 459.5h1M62.3 506.9h1M61.9 506.5h1M56.7 500.3h1M60.8 459.1h1M67.3 455.1h1M62.5 503.9h1M58.2 502.6h1M72.8 481.8h1M64.8 493.9h1M68.9 493.0h1M69.8 461.2h1M70.8 484.6h1M66.8 491.8h1M72.5 469.7h1M72.3 474.5h1M66.6 491.1h1M106.1 494.6h1M99.4 489.1h1M100.8 488.4h1M104.2 492.6h1M102.5 497.4h1M104.2 497.5h1M104.2 497.0h1" stroke="#5678e0" stroke-opacity="0.85" fill="none"/>
<path d="M58.1 466.8h1M72.2 490.1h1M57.6 484.1h1M72.2 485.3h1M57.1 485.6h1M55.8 470.5h1M58.9 501.8h1M69.3 500.3h1M63.2 456.0h1M70.9 493.7h1M73.3 480.3h1M73.3 480.1h1M69.4 499.3h1M72.9 478.8h1M57.6 487.4h1M71.8 467.3h1M61.4 503.0h1M57.7 491.2h1M62.4 457.6h1M71.2 473.2h1M71.5 476.5h1M63.1 501.7h1M56.3 473.9h1M58.4 467.6h1M71.4 481.6h1M57.5 481.7h1M69.2 495.6h1M71.9 479.1h1M71.6 466.6h1M56.8 469.4h1M60.6 501.5h1M63.0 490.5h1M56.7 481.6h1M61.9 456.1h1M67.5 488.3h1M59.2 488.4h1M68.8 484.4h1M58.1 486.0h1M63.5 489.8h1M61.8 505.8h1M70.6 493.6h1M102.5 495.7h1M103.4 495.0h1M101.0 490.6h1M101.7 490.4h1M102.0 490.7h1M101.5 493.6h1M101.9 493.4h1M102.1 492.3h1" stroke="#5074df" stroke-opacity="0.85" fill="none"/>
<path d="M71.3 487.8h1M60.2 465.5h1M58.0 492.0h1M70.8 473.1h1M66.8 457.2h1M56.8 479.8h1M67.1 460.9h1M71.2 491.7h1M55.6 477.6h1M56.8 469.8h1M58.8 487.9h1M61.4 501.8h1M60.0 498.3h1M68.9 495.1h1M70.4 488.7h1M64.7 500.0h1M70.9 477.1h1M68.2 498.8h1M71.2 485.5h1M63.0 459.2h1M67.2 499.4h1M62.1 501.1h1M69.9 468.3h1M61.1 462.5h1M70.4 487.9h1M66.5 458.7h1M65.0 456.8h1M66.0 457.1h1M70.7 490.9h1M69.7 472.1h1M58.6 486.3h1M68.7 463.2h1M67.6 498.9h1M59.1 494.0h1M70.3 477.9h1M65.2 457.2h1M59.5 494.8h1M66.4 462.0h1M68.7 471.3h1M65.9 460.3h1M60.1 496.4h1M71.7 471.7h1M67.2 486.2h1M58.2 486.8h1M60.1 458.6h1M65.3 457.6h1M65.8 459.8h1M66.0 488.5h1M65.2 488.4h1M67.7 462.7h1M58.0 480.3h1M61.4 458.3h1M59.8 483.7h1M57.5 503.7h1M57.7 503.8h1M57.3 491.4h1" stroke="#4970df" stroke-opacity="0.85" fill="none"/>
<path d="M70.1 474.8h1M61.1 499.1h1M69.7 492.1h1M67.5 497.2h1M57.4 478.8h1M56.9 477.9h1M60.3 468.0h1M70.5 465.9h1M69.9 491.3h1M64.4 458.6h1M58.2 469.8h1M65.0 458.2h1M64.1 459.5h1M59.1 486.5h1M67.7 495.2h1M59.6 491.6h1M70.1 486.8h1M65.7 498.9h1M69.0 472.4h1M60.0 491.4h1M61.3 465.0h1M57.9 471.9h1M69.2 491.0h1M63.4 492.8h1M57.0 475.7h1M67.2 495.7h1M69.1 491.2h1M70.5 484.8h1M57.1 476.8h1M61.5 464.4h1M57.6 474.1h1M67.7 463.6h1M65.5 462.9h1M67.4 489.6h1M63.6 460.8h1M64.1 499.0h1M67.8 470.3h1M67.7 493.8h1M59.7 492.9h1M63.0 499.2h1M69.5 464.7h1M66.1 498.0h1M64.6 493.1h1M68.9 467.8h1M60.6 491.9h1M69.4 475.4h1M70.0 465.9h1M61.5 498.4h1M64.7 461.3h1M60.6 495.3h1M59.2 469.7h1M64.9 461.8h1M65.1 494.1h1M58.4 471.8h1M67.8 491.1h1M64.9 464.4h1M69.1 478.8h1M60.2 487.0h1M58.8 461.2h1M58.5 463.6h1M64.5 458.5h1M63.3 457.4h1M57.9 475.3h1M62.4 487.1h1M63.2 457.8h1M61.4 486.8h1M69.6 481.6h1M60.1 460.4h1M70.0 475.8h1M67.7 465.6h1M69.8 469.2h1M60.2 482.9h1M56.9 497.7h1M57.8 492.1h1M58.8 500.0h1M61.8 503.8h1M69.8 495.4h1M61.7 491.0h1M57.8 498.9h1M66.8 503.4h1" stroke="#426cde" stroke-opacity="0.85" fill="none"/>
<path d="M61.0 492.6h1M67.2 493.5h1M68.8 473.5h1M60.7 492.6h1M65.7 497.6h1M63.3 494.5h1M60.8 493.7h1M61.9 494.0h1M62.9 498.8h1M66.4 493.8h1M68.3 464.2h1M68.6 473.5h1M59.8 486.3h1M58.7 471.7h1M69.0 464.7h1M65.0 495.7h1M62.4 498.6h1M67.3 464.4h1M61.5 490.3h1M65.3 496.8h1M62.4 463.0h1M65.2 496.7h1M57.9 476.1h1M66.6 492.9h1M62.9 462.3h1M62.3 465.3h1M60.1 469.5h1M68.0 467.9h1M66.9 491.0h1M69.1 465.0h1M68.8 479.0h1M58.8 479.5h1M65.8 492.4h1M68.8 476.8h1M63.3 462.2h1M68.9 466.9h1M62.9 462.7h1M63.3 464.3h1M67.0 468.9h1M66.7 470.0h1M69.1 480.9h1M61.6 497.0h1M63.2 462.7h1M66.7 470.5h1M66.3 491.7h1M63.4 463.1h1M66.3 491.6h1M61.9 495.4h1M62.3 466.5h1M64.0 496.2h1M62.8 495.4h1M59.0 480.8h1M61.7 496.2h1M60.1 470.0h1M66.1 465.7h1M69.5 485.5h1M68.4 477.1h1M62.8 466.1h1M70.2 472.4h1M66.9 463.2h1M63.4 486.0h1M59.4 461.8h1M69.6 475.8h1M69.6 480.5h1M58.0 476.9h1M58.1 477.9h1M62.2 484.9h1M59.3 468.1h1M58.3 478.0h1M67.0 464.8h1M67.4 502.6h1M69.0 499.7h1M69.1 496.3h1" stroke="#3c69de" stroke-opacity="0.85" fill="none"/>
<path d="M62.3 496.7h1M63.0 497.1h1M68.1 486.8h1M63.1 496.5h1M59.3 479.7h1M68.2 479.5h1M68.2 475.4h1M67.4 465.8h1M59.2 476.7h1M60.0 483.7h1M66.5 468.0h1M68.0 466.2h1M68.9 486.0h1M65.5 466.3h1M67.8 466.3h1M59.4 480.0h1M66.5 471.9h1M63.3 490.6h1M66.2 471.3h1M59.4 480.5h1M66.6 467.2h1M60.9 470.0h1M63.8 466.4h1M65.8 467.9h1M66.0 466.9h1M62.8 467.6h1M59.1 473.6h1M58.9 475.8h1M62.1 469.1h1M67.9 475.1h1M60.2 471.3h1M64.7 490.6h1M61.4 488.4h1M62.9 468.0h1M59.8 481.3h1M65.7 489.8h1M64.6 467.2h1M65.6 471.2h1M68.8 485.5h1M63.5 467.5h1M64.5 467.5h1M63.5 467.6h1M65.2 461.9h1M59.7 462.9h1M59.6 468.0h1M65.4 484.5h1M67.3 466.9h1M58.0 496.6h1" stroke="#3971e0" stroke-opacity="0.85" fill="none"/>
<path d="M64.7 469.9h1M63.6 467.7h1M59.2 475.7h1M64.2 469.7h1M60.9 471.0h1M67.6 475.6h1M59.8 473.0h1M60.1 480.2h1M68.6 481.7h1M67.7 480.9h1M61.2 487.0h1M67.1 479.7h1M59.8 473.4h1M68.5 481.9h1M66.0 473.0h1M62.2 489.1h1M63.0 489.8h1M67.0 479.6h1M66.1 473.2h1M62.8 470.0h1M59.5 475.4h1M64.4 489.9h1M61.4 487.0h1M65.0 489.6h1M62.5 470.4h1M64.2 470.7h1M59.7 466.9h1M64.4 462.0h1M61.0 482.0h1M66.7 482.6h1M62.0 461.8h1M59.1 472.2h1M59.0 476.8h1M59.9 466.1h1M64.6 484.4h1M68.7 479.6h1M68.5 480.3h1M63.1 492.4h1M66.2 502.4h1M68.3 498.9h1" stroke="#3679e2" stroke-opacity="0.85" fill="none"/>
<path d="M61.2 477.7h1M59.7 475.3h1M62.9 470.4h1M64.3 489.8h1M61.1 477.0h1M64.2 471.1h1M68.3 482.2h1M62.4 488.9h1M61.5 471.7h1M60.8 480.7h1M66.8 478.5h1M65.3 488.7h1M62.1 488.2h1M68.4 484.3h1M66.4 474.6h1M60.5 475.6h1M60.9 481.3h1M65.8 487.7h1M60.9 481.2h1M68.4 483.3h1M61.6 477.2h1M68.2 482.6h1M66.7 478.3h1M61.3 485.6h1M62.3 471.4h1M68.4 483.8h1M62.8 471.2h1M67.2 482.1h1M68.1 468.9h1M60.2 465.6h1M64.5 484.1h1M67.5 481.3h1M68.4 479.3h1M60.6 480.7h1M59.4 472.0h1M66.1 482.3h1M64.2 483.7h1M63.1 483.0h1M63.0 502.7h1M59.1 494.3h1M61.9 492.6h1M67.8 499.2h1M61.2 500.4h1M59.9 493.2h1" stroke="#3382e5" stroke-opacity="0.85" fill="none"/>
<path d="M66.5 486.6h1M61.2 485.2h1M60.9 475.6h1M65.4 473.8h1M66.1 474.6h1M68.2 483.2h1M67.0 485.8h1M60.5 474.5h1M61.0 483.7h1M67.7 482.5h1M64.3 472.5h1M66.6 486.2h1M66.2 479.0h1M68.1 483.9h1M64.8 473.4h1M63.9 472.2h1M62.8 488.5h1M62.9 488.6h1M67.9 483.0h1M61.0 475.1h1M61.0 473.8h1M60.8 474.4h1M61.9 479.6h1M64.9 481.7h1M61.1 474.9h1M62.1 477.8h1M62.0 479.4h1M66.7 482.8h1M63.2 472.2h1M64.5 488.6h1M65.7 482.5h1M67.2 484.9h1M62.9 472.3h1M65.9 475.3h1M64.4 480.7h1M61.9 473.0h1M65.1 482.2h1M63.0 472.4h1M62.1 479.3h1M68.8 470.3h1M59.8 475.7h1M68.4 469.9h1M63.2 462.6h1M64.1 483.1h1M64.1 483.1h1M61.3 463.6h1M61.8 463.0h1M62.4 481.9h1M64.4 463.2h1M59.6 496.6h1" stroke="#308ae7" stroke-opacity="0.85" fill="none"/>
<path d="M65.7 475.1h1M67.5 484.1h1M66.3 476.7h1M61.6 474.6h1M65.6 475.1h1M64.5 488.4h1M64.1 480.8h1M62.7 476.4h1M62.8 472.7h1M67.2 484.3h1M64.1 480.8h1M66.3 485.9h1M62.4 479.9h1M64.7 474.6h1M62.3 474.7h1M67.1 483.9h1M65.3 475.1h1M61.5 482.6h1M62.6 474.4h1M65.5 479.0h1M63.1 473.6h1M62.0 481.5h1M63.1 474.0h1M62.4 473.9h1M65.0 482.7h1M62.7 474.2h1M65.9 478.4h1M62.7 473.7h1M62.9 480.6h1M64.6 475.0h1M66.0 483.5h1M65.9 476.3h1M64.8 487.7h1M64.8 482.6h1M62.8 479.7h1M62.6 478.9h1M64.0 480.0h1M61.6 483.1h1M63.7 488.1h1M62.0 482.0h1M63.2 487.6h1M62.8 477.4h1M66.2 481.2h1M60.6 479.2h1M61.3 464.2h1M62.2 463.1h1M68.0 477.0h1M60.9 479.6h1M64.7 463.9h1M67.7 478.6h1M60.7 469.8h1M66.6 480.4h1M60.8 479.0h1M68.5 471.5h1M62.1 463.6h1M68.1 470.4h1M66.7 468.6h1M61.3 480.1h1M61.3 465.6h1M63.0 481.5h1M66.9 495.5h1M64.8 494.1h1M67.3 496.8h1M60.0 496.3h1M60.9 493.5h1M67.1 497.6h1M59.9 495.4h1" stroke="#2e92ea" stroke-opacity="0.85" fill="none"/>
<path d="M61.8 484.6h1M65.6 486.1h1M65.4 486.4h1M62.4 481.9h1M64.9 479.1h1M64.5 487.5h1M63.4 487.6h1M62.1 485.2h1M65.2 486.6h1M63.1 487.0h1M65.7 485.1h1M63.0 478.2h1M65.6 476.8h1M63.9 482.4h1M64.0 476.2h1M63.7 487.4h1M65.0 476.1h1M63.9 487.4h1M63.1 478.0h1M63.8 482.6h1M65.1 484.9h1M65.1 485.2h1M65.0 476.8h1M62.1 484.4h1M63.2 463.4h1M68.3 471.4h1M67.5 478.0h1M68.0 472.8h1M64.3 464.1h1M66.4 479.7h1M64.7 481.0h1M61.4 467.8h1M64.1 481.0h1M65.4 480.3h1M62.8 480.8h1M67.4 475.8h1M66.5 500.0h1M61.6 493.6h1M63.6 501.9h1" stroke="#2a9de6" stroke-opacity="0.85" fill="none"/>
<path d="M64.4 476.6h1M64.9 484.6h1M63.3 482.6h1M62.2 483.4h1M62.1 484.0h1M64.9 485.2h1M64.5 486.2h1M62.2 483.9h1M63.6 478.0h1M63.0 482.7h1M65.0 478.0h1M62.6 482.8h1M64.8 478.3h1M63.2 485.7h1M63.9 486.2h1M62.5 484.8h1M64.6 484.8h1M64.8 477.1h1M63.1 485.5h1M64.1 478.2h1M64.2 478.2h1M62.7 483.2h1M64.5 478.1h1M64.2 477.4h1M62.4 483.8h1M64.7 477.6h1M64.5 478.0h1M64.4 478.0h1M62.9 484.6h1M63.4 485.0h1M63.5 484.3h1M63.3 484.0h1M61.5 466.7h1M60.9 475.9h1M67.8 471.1h1M67.2 475.8h1M64.6 480.2h1M67.2 476.0h1M61.0 476.1h1M61.1 475.0h1M61.7 478.9h1M60.4 472.1h1M67.0 475.5h1M62.5 479.8h1M64.6 494.5h1M60.7 494.6h1M61.7 498.4h1" stroke="#26aadf" stroke-opacity="0.85" fill="none"/>
<path d="M63.3 484.4h1M63.2 480.1h1M65.9 468.0h1M64.3 464.9h1M62.2 479.3h1M66.9 477.0h1M63.9 465.0h1M61.3 475.7h1M63.8 479.6h1M61.1 473.5h1M61.4 476.8h1M65.1 466.3h1M65.8 478.7h1M65.9 500.0h1M61.4 495.6h1M61.5 495.3h1M63.0 494.9h1M65.9 496.0h1" stroke="#22b6d8" stroke-opacity="0.85" fill="none"/>
<path d="M66.7 476.2h1M67.2 471.1h1M67.3 472.7h1M64.3 465.5h1M63.5 465.3h1M66.0 478.2h1M62.0 477.7h1M60.9 472.4h1M62.6 466.3h1M60.9 472.3h1M60.9 471.7h1M62.5 500.5h1M65.4 495.8h1" stroke="#1ec3d2" stroke-opacity="0.85" fill="none"/>
<path d="M61.0 472.4h1M63.3 465.7h1M64.3 478.8h1M62.8 478.3h1M65.0 467.0h1M62.6 466.8h1M62.1 475.3h1M66.4 471.0h1M62.4 477.2h1M65.5 496.2h1M62.4 497.0h1M65.1 500.0h1M64.4 500.7h1" stroke="#24c3af" stroke-opacity="0.85" fill="none"/>
<path d="M65.2 469.1h1M66.2 470.9h1M62.5 474.7h1M66.4 473.5h1M65.0 467.6h1M62.2 476.3h1M62.7 467.8h1M66.6 473.0h1M65.8 476.4h1M61.3 471.9h1M66.6 472.7h1M65.5 477.5h1M62.9 474.6h1M63.1 466.8h1M62.8 468.7h1M64.1 495.6h1M63.8 500.8h1M62.7 497.4h1M65.0 498.9h1M62.8 499.6h1M64.3 500.6h1M64.9 496.1h1M63.0 496.7h1" stroke="#2bc38c" stroke-opacity="0.85" fill="none"/>
<path d="M63.4 466.8h1M65.5 476.7h1M65.2 477.4h1M65.9 473.5h1M63.2 475.2h1M63.6 474.2h1M64.7 468.0h1M64.4 467.3h1M64.4 467.4h1M64.8 474.1h1M63.4 467.0h1M64.7 468.8h1M64.8 477.5h1M64.1 467.1h1M61.7 471.5h1M61.8 471.1h1M64.4 475.5h1M65.2 473.8h1M64.8 477.3h1M63.0 476.1h1M63.1 476.1h1M62.4 470.3h1M63.2 476.1h1M64.6 498.1h1M63.1 499.4h1M64.4 496.5h1M63.5 500.1h1M63.5 496.9h1M63.9 496.7h1M63.6 499.9h1M64.1 497.1h1M63.4 499.6h1" stroke="#32c369" stroke-opacity="0.85" fill="none"/>
<path d="M62.4 470.4h1M63.2 469.1h1M64.1 477.1h1M63.9 477.0h1M62.4 472.7h1M65.9 472.4h1M64.1 468.1h1M65.8 472.7h1M64.4 476.8h1M62.0 471.9h1M64.3 476.7h1M64.3 476.7h1M64.1 476.7h1M65.7 471.9h1M65.7 472.8h1M65.7 472.7h1M63.9 468.8h1M64.1 469.3h1M63.9 469.0h1M63.9 469.0h1M63.1 472.9h1M64.8 473.2h1M62.9 470.3h1M63.7 499.7h1" stroke="#3fc450" stroke-opacity="0.85" fill="none"/>
<path d="M62.7 472.5h1M64.7 473.0h1M64.9 471.3h1M62.3 471.4h1M65.2 472.6h1M63.9 470.5h1M62.6 471.4h1M63.8 470.6h1M64.3 471.1h1M64.4 472.3h1" stroke="#54c843" stroke-opacity="0.85" fill="none"/>
<path d="M63.2 471.6h1M63.6 471.3h1M63.7 471.5h1M63.6 471.5h1" stroke="#68cd37" stroke-opacity="0.85" fill="none"/>
</g>
<rect x="77.5" y="457.5" width="50.4" height="51.9" fill="none" stroke="#a8a8a8" stroke-width="0.9"/>
<text x="103.7" y="452.4" font-size="8.2" text-anchor="middle" fill="#222" stroke="#222" stroke-width="0.12">2.7%</text>
<rect x="54.50" y="435.20" width="79.70" height="79.60" rx="1" fill="none" stroke="#000" stroke-width="1.4"/>
<path d="M54.50 514.80h-2.6M54.50 511.76h-1.4M54.50 508.73h-1.4M54.50 505.69h-1.4M54.50 502.65h-1.4M54.50 499.62h-2.6M54.50 496.58h-1.4M54.50 493.54h-1.4M54.50 490.51h-1.4M54.50 487.47h-1.4M54.50 484.44h-2.6M54.50 481.40h-1.4M54.50 478.36h-1.4M54.50 475.33h-1.4M54.50 472.29h-1.4M54.50 469.25h-2.6M54.50 466.22h-1.4M54.50 463.18h-1.4M54.50 460.14h-1.4M54.50 457.11h-1.4M54.50 454.07h-2.6M54.50 451.03h-1.4M54.50 448.00h-1.4M54.50 444.96h-1.4M54.50 441.92h-1.4M54.50 438.89h-2.6M54.50 435.85h-1.4" stroke="#000" stroke-width="0.9" fill="none"/>
<text x="49.6" y="517.8" font-size="8.6" text-anchor="end" fill="#111">0</text>
<text x="49.6" y="502.6" font-size="8.6" text-anchor="end" fill="#111">50K</text>
<text x="49.6" y="487.4" font-size="8.6" text-anchor="end" fill="#111">100K</text>
<text x="49.6" y="472.3" font-size="8.6" text-anchor="end" fill="#111">150K</text>
<text x="49.6" y="457.1" font-size="8.6" text-anchor="end" fill="#111">200K</text>
<text x="49.6" y="441.9" font-size="8.6" text-anchor="end" fill="#111">250K</text>
<path d="M61.08 514.80v3M71.20 514.80v3M88.69 514.80v3M107.26 514.80v3M124.80 514.80v3M76.63 514.80v1.8M79.81 514.80v1.8M82.07 514.80v1.8M83.81 514.80v1.8M85.24 514.80v1.8M86.45 514.80v1.8M87.50 514.80v1.8M88.42 514.80v1.8M94.13 514.80v1.8M97.30 514.80v1.8M99.56 514.80v1.8M101.31 514.80v1.8M102.74 514.80v1.8M103.95 514.80v1.8M104.99 514.80v1.8M105.92 514.80v1.8M112.70 514.80v1.8M115.87 514.80v1.8M118.13 514.80v1.8M119.88 514.80v1.8M121.31 514.80v1.8M122.52 514.80v1.8M123.56 514.80v1.8M124.49 514.80v1.8M130.23 514.80v1.8M56.09 514.80v1.8M57.69 514.80v1.8M59.28 514.80v1.8M62.87 514.80v1.8M64.86 514.80v1.8M66.85 514.80v1.8M68.85 514.80v1.8" stroke="#000" stroke-width="0.9" fill="none"/>
<g filter="url(#bl)">
<path d="M171.3 506.3h1M173.5 453.3h1M168.1 494.6h1M179.7 463.8h1M182.6 486.0h1M176.6 500.7h1M234.1 468.3h1M189.0 505.8h1M217.7 459.7h1M226.8 461.6h1M207.2 512.8h1M228.5 488.8h1M231.2 483.6h1M196.7 500.2h1M201.7 473.6h1M204.6 471.1h1M209.5 463.2h1M217.7 466.1h1M227.1 482.1h1M209.6 466.2h1M219.5 504.1h1M208.9 470.6h1M227.8 493.8h1M196.0 485.0h1M217.3 500.2h1M212.7 506.4h1M201.8 507.5h1M211.7 509.0h1M219.3 472.0h1M198.1 491.0h1M222.6 475.7h1" stroke="#5d7ce0" stroke-opacity="0.85" fill="none"/>
<path d="M172.8 458.6h1M180.6 491.0h1M177.2 497.0h1M173.4 500.1h1M173.2 459.6h1M174.1 499.5h1M176.7 461.6h1M171.5 490.5h1M179.4 495.1h1M179.3 495.0h1M175.5 461.5h1M170.2 485.9h1M181.2 480.1h1M178.6 469.3h1M181.0 483.5h1M179.8 471.1h1M173.5 464.5h1M172.6 493.2h1M170.7 486.6h1M225.6 493.2h1M216.5 503.4h1M203.3 507.1h1M215.8 505.8h1M214.0 501.3h1M201.1 503.7h1M214.0 504.9h1M211.8 469.5h1M199.9 498.1h1M208.7 506.8h1M222.5 472.6h1M222.0 464.9h1M206.2 474.7h1M207.4 507.0h1M198.6 485.6h1M225.8 473.5h1M201.5 483.0h1M223.7 469.5h1M223.3 493.5h1M225.2 473.1h1M219.2 469.5h1M198.6 486.7h1M223.5 478.9h1M222.8 484.3h1M216.6 475.0h1M223.1 492.0h1" stroke="#5678e0" stroke-opacity="0.85" fill="none"/>
<path d="M177.5 465.8h1M170.8 473.5h1M175.8 495.1h1M174.3 463.8h1M181.7 472.5h1M178.5 491.0h1M181.6 473.2h1M172.5 466.7h1M175.5 464.4h1M181.1 473.0h1M177.3 466.9h1M177.0 469.4h1M172.5 478.9h1M177.6 472.0h1M176.1 466.8h1M178.9 475.2h1M176.3 493.6h1M176.2 492.0h1M174.3 493.5h1M219.1 470.2h1M202.4 502.7h1M201.8 501.0h1M225.0 475.9h1M222.6 466.1h1M216.2 471.5h1M201.6 484.4h1M222.6 469.5h1M224.1 477.3h1M219.3 471.6h1M224.0 479.3h1M205.7 505.0h1M224.1 474.6h1M221.6 496.8h1M222.3 492.8h1M213.6 470.6h1M223.7 475.9h1M200.7 496.4h1M211.1 501.3h1M205.8 477.9h1M204.4 503.4h1M203.1 499.9h1M202.8 500.8h1M223.4 483.0h1M220.7 497.1h1M221.7 468.3h1M202.8 495.5h1M200.2 495.7h1M215.0 471.4h1M222.2 467.1h1M203.2 485.1h1M222.3 467.6h1M207.5 505.0h1M199.9 492.8h1M206.3 477.4h1M203.4 482.9h1M219.2 472.9h1M221.5 491.4h1M222.6 485.2h1M199.8 493.7h1M223.6 480.8h1M204.5 482.4h1M214.7 504.3h1M215.4 476.7h1M203.7 504.6h1M202.2 499.3h1M222.6 489.2h1M201.3 489.8h1M205.2 483.1h1M202.3 488.2h1M207.9 480.5h1M203.9 503.6h1" stroke="#5074df" stroke-opacity="0.85" fill="none"/>
<path d="M179.4 476.6h1M179.7 482.1h1M179.6 481.4h1M172.7 481.4h1M172.1 483.7h1M174.7 493.0h1M179.2 485.0h1M174.6 468.2h1M173.9 491.4h1M172.0 469.8h1M172.1 474.1h1M174.3 491.4h1M176.2 472.6h1M178.9 476.9h1M172.6 468.6h1M175.9 473.7h1M220.4 496.7h1M200.9 486.9h1M212.7 472.0h1M207.8 475.4h1M205.1 486.2h1M205.2 481.1h1M201.1 495.1h1M200.7 487.4h1M210.2 474.4h1M212.3 473.6h1M221.0 493.8h1M221.0 495.4h1M212.9 472.2h1M200.6 488.4h1M204.0 483.8h1M200.7 492.8h1M221.9 477.7h1M204.6 482.8h1M210.6 500.4h1M214.7 473.0h1M213.5 473.9h1M210.0 500.9h1M201.0 488.8h1M205.5 485.0h1M201.8 493.4h1M214.3 474.3h1M219.1 474.1h1M219.3 495.8h1M201.7 492.9h1M207.5 503.5h1M205.4 501.4h1M219.7 496.2h1M204.4 486.1h1M211.8 504.3h1M213.1 503.9h1M220.1 482.6h1M207.4 482.2h1M208.5 481.3h1M217.4 498.6h1M219.6 481.9h1M211.3 480.0h1M212.1 503.7h1" stroke="#4970df" stroke-opacity="0.85" fill="none"/>
<path d="M178.7 479.4h1M178.8 478.5h1M172.7 484.1h1M172.9 468.9h1M172.9 476.4h1M174.3 469.3h1M172.9 469.2h1M175.3 471.7h1M174.8 489.9h1M172.7 472.6h1M177.1 476.6h1M173.1 488.1h1M178.8 487.8h1M178.3 478.2h1M178.4 488.6h1M178.3 483.5h1M175.2 474.8h1M173.4 482.7h1M176.9 476.9h1M178.4 488.3h1M173.4 473.2h1M178.4 486.0h1M174.5 489.3h1M173.7 470.9h1M210.9 475.2h1M207.8 503.1h1M220.9 488.7h1M220.7 489.6h1M208.9 475.6h1M202.1 488.6h1M218.9 474.5h1M215.8 474.6h1M204.8 498.0h1M207.9 502.2h1M206.7 502.9h1M220.1 490.6h1M206.6 480.4h1M206.2 501.8h1M221.1 486.9h1M222.1 483.0h1M218.8 494.6h1M202.0 490.4h1M208.3 477.5h1M206.8 502.0h1M206.9 501.3h1M205.3 495.2h1M209.1 499.8h1M205.3 498.2h1M208.4 477.8h1M203.4 497.1h1M215.3 478.9h1M205.0 502.5h1M218.5 480.4h1M213.0 479.7h1M218.8 480.9h1M202.6 493.8h1M206.7 502.8h1M215.4 500.4h1M220.4 491.5h1M219.6 494.0h1M202.9 492.2h1" stroke="#426cde" stroke-opacity="0.85" fill="none"/>
<path d="M174.1 471.5h1M174.3 477.5h1M173.7 472.1h1M174.0 471.9h1M173.7 475.7h1M174.1 476.4h1M174.0 475.4h1M174.0 475.4h1M177.7 488.6h1M174.7 476.4h1M173.8 484.0h1M178.2 487.5h1M176.3 478.1h1M173.5 487.2h1M173.8 485.1h1M210.0 476.1h1M211.2 476.6h1M218.1 494.9h1M219.9 489.2h1M207.6 479.3h1M219.0 492.4h1M205.3 497.0h1M215.9 475.4h1M208.7 499.5h1M206.9 499.7h1M205.7 495.2h1M221.0 485.4h1M218.4 493.9h1M218.4 475.2h1M221.2 484.4h1M210.2 476.6h1M206.2 498.8h1M208.6 499.0h1M205.8 497.9h1M218.6 492.4h1M222.0 480.5h1M207.6 479.9h1M218.9 491.1h1M206.1 498.1h1M203.0 489.7h1M204.3 492.0h1M208.9 498.5h1M221.0 478.7h1M206.1 495.4h1M217.8 475.3h1M209.9 477.3h1M202.9 490.7h1M206.3 494.4h1M207.4 498.2h1M211.1 477.5h1M206.5 482.9h1M219.0 476.4h1M203.2 491.1h1M206.7 493.9h1M214.0 480.0h1M217.8 496.5h1M220.3 489.2h1M219.9 492.9h1M213.1 480.5h1M203.3 490.5h1M210.9 481.2h1M209.2 502.3h1M220.2 490.5h1M203.4 495.2h1M216.0 480.1h1M216.1 480.2h1M218.4 495.4h1M216.5 498.1h1M211.2 502.0h1M211.8 501.8h1M217.0 480.8h1M209.6 502.0h1M215.0 481.0h1M217.6 481.6h1M219.8 486.3h1" stroke="#3c69de" stroke-opacity="0.85" fill="none"/>
<path d="M175.1 479.0h1M176.9 480.2h1M176.3 478.7h1M174.8 480.2h1M176.9 484.6h1M174.8 480.6h1M173.9 486.2h1M175.9 479.4h1M176.4 488.2h1M175.8 479.6h1M174.2 487.6h1M176.6 483.4h1M176.7 485.6h1M175.0 481.3h1M176.7 482.7h1M175.0 488.1h1M175.5 483.7h1M174.3 486.0h1M213.3 498.1h1M212.0 498.1h1M207.0 493.3h1M214.1 477.7h1M207.1 496.6h1M205.8 492.3h1M219.6 487.7h1M206.9 495.9h1M219.7 477.8h1M211.1 477.9h1M203.6 489.8h1M207.3 486.6h1M214.3 497.8h1M220.2 486.0h1M207.7 495.0h1M221.5 481.3h1M205.3 488.9h1M205.7 488.6h1M220.1 485.9h1M208.9 479.5h1M220.9 479.3h1M218.2 490.4h1M204.1 491.0h1M216.3 496.2h1M216.0 476.7h1M218.1 476.3h1M221.3 480.5h1M217.5 492.7h1M215.2 477.4h1M218.6 477.0h1M204.0 490.5h1M215.4 497.1h1M220.3 479.0h1M215.6 499.3h1M215.7 481.7h1M204.8 498.4h1M211.8 482.1h1M208.6 484.4h1M208.8 484.4h1M217.0 483.0h1M219.5 487.3h1M205.1 500.2h1" stroke="#3971e0" stroke-opacity="0.85" fill="none"/>
<path d="M176.6 482.4h1M176.1 481.0h1M175.3 481.7h1M176.3 482.8h1M176.1 482.8h1M175.6 482.5h1M176.6 487.5h1M176.7 486.6h1M175.3 487.4h1M176.0 486.2h1M175.4 486.3h1M175.1 486.8h1M175.3 486.9h1M207.3 484.1h1M207.2 482.4h1M208.7 493.9h1M210.0 497.3h1M218.5 488.9h1M208.8 494.4h1M218.0 476.6h1M206.2 491.6h1M220.9 481.8h1M209.4 496.5h1M219.3 478.5h1M208.1 492.4h1M204.6 490.4h1M216.3 477.0h1M220.1 483.2h1M211.7 497.4h1M207.5 482.0h1M216.8 493.2h1M219.4 485.8h1M218.9 486.7h1M209.4 494.8h1M205.5 489.6h1M219.6 484.0h1M209.9 496.4h1M217.1 477.1h1M217.0 477.1h1M216.8 492.0h1M216.4 494.0h1M215.6 496.4h1M219.0 485.8h1M205.6 490.6h1M213.6 497.3h1M207.6 483.7h1M216.9 477.5h1M209.0 480.3h1M212.0 478.9h1M211.3 482.7h1M208.5 484.8h1M207.3 501.3h1M211.3 500.8h1M211.6 482.7h1M212.4 500.5h1M216.9 483.4h1M215.5 498.0h1M210.0 500.9h1M211.5 482.8h1M206.6 501.1h1M209.1 500.9h1M205.6 500.5h1M210.4 483.7h1M218.4 493.6h1M218.9 486.0h1M217.1 483.9h1M204.1 491.7h1M205.6 500.1h1M218.9 486.3h1" stroke="#3679e2" stroke-opacity="0.85" fill="none"/>
<path d="M218.8 486.0h1M210.1 479.6h1M215.9 495.9h1M207.6 482.6h1M206.2 490.7h1M220.2 482.1h1M212.2 479.0h1M211.0 496.8h1M206.6 490.7h1M217.3 490.1h1M210.9 496.8h1M220.5 481.2h1M217.8 478.6h1M210.2 496.0h1M213.5 478.9h1M206.5 489.6h1M216.1 492.6h1M214.9 496.8h1M219.0 479.5h1M211.3 496.7h1M210.5 496.0h1M215.5 478.7h1M215.1 496.6h1M206.9 489.5h1M207.1 490.4h1M218.6 483.9h1M215.8 478.9h1M216.1 478.9h1M210.7 494.9h1M219.8 480.3h1M217.6 488.3h1M219.5 482.3h1M215.1 479.1h1M207.2 489.9h1M215.5 491.9h1M215.4 491.8h1M210.5 493.6h1M218.2 483.7h1M219.0 488.6h1M205.7 487.6h1M207.8 486.0h1M205.6 499.4h1M214.3 483.7h1M218.1 493.7h1M207.0 500.7h1M215.3 483.7h1M212.1 483.5h1M216.7 484.1h1M205.9 499.9h1M218.8 491.2h1M206.7 486.9h1M208.2 500.4h1M217.7 485.0h1M204.3 493.9h1M218.2 485.8h1M205.7 498.2h1M215.7 496.3h1M214.1 499.1h1M217.9 485.6h1M206.4 499.7h1" stroke="#3382e5" stroke-opacity="0.85" fill="none"/>
<path d="M216.7 480.1h1M215.8 479.4h1M216.2 481.1h1M215.5 491.4h1M215.1 493.0h1M217.3 482.1h1M211.2 494.0h1M219.4 480.4h1M217.9 483.6h1M211.3 495.2h1M216.1 480.5h1M215.0 493.3h1M217.5 481.7h1M218.5 480.3h1M217.9 482.3h1M218.1 480.5h1M215.5 481.0h1M215.2 495.7h1M215.2 493.9h1M213.8 492.1h1M208.0 488.2h1M217.0 483.6h1M214.9 481.7h1M217.6 485.0h1M218.9 481.7h1M218.7 480.7h1M212.6 493.7h1M217.2 488.4h1M218.9 481.5h1M216.2 490.2h1M207.9 488.9h1M218.8 481.2h1M214.6 493.6h1M215.0 481.0h1M217.1 484.2h1M208.3 482.8h1M214.4 482.0h1M215.0 495.6h1M217.3 485.7h1M212.4 495.3h1M213.8 479.8h1M214.4 480.2h1M213.6 496.2h1M213.4 496.2h1M214.1 494.1h1M212.9 495.9h1M212.7 495.1h1M213.5 499.3h1M205.3 496.0h1M217.1 494.5h1M214.1 498.8h1M211.3 484.4h1M213.1 484.1h1M205.6 488.3h1M218.4 491.5h1M204.7 494.1h1M205.2 489.4h1M204.6 493.3h1M216.3 495.0h1M205.0 490.5h1M205.5 488.9h1M213.2 499.1h1M205.8 496.5h1" stroke="#308ae7" stroke-opacity="0.85" fill="none"/>
<path d="M214.8 494.9h1M208.3 488.2h1M211.6 492.8h1M216.4 484.3h1M208.2 489.1h1M215.7 484.0h1M210.3 492.4h1M216.0 489.9h1M212.4 479.9h1M216.5 489.3h1M216.8 484.8h1M210.5 480.5h1M214.1 483.6h1M209.5 491.5h1M214.1 494.5h1M212.8 491.8h1M210.0 480.9h1M215.1 490.3h1M208.9 482.1h1M214.1 490.6h1M216.9 486.1h1M212.4 492.0h1M211.0 492.5h1M215.9 484.3h1M210.2 492.1h1M213.6 495.6h1M213.5 495.3h1M209.7 491.5h1M213.9 495.3h1M213.6 482.0h1M216.8 487.0h1M208.7 483.8h1M214.9 484.2h1M213.8 480.8h1M211.5 492.3h1M208.8 485.9h1M216.7 488.2h1M209.1 482.1h1M216.7 487.6h1M208.8 486.4h1M212.0 480.3h1M212.8 491.1h1M216.1 489.2h1M210.2 491.8h1M213.2 480.6h1M209.5 490.8h1M209.8 485.6h1M218.1 487.5h1M211.2 484.9h1M215.4 484.7h1M206.7 487.7h1M208.5 486.5h1M213.8 498.2h1M208.8 486.3h1M213.8 498.1h1M208.6 499.2h1M205.9 488.7h1M205.1 494.1h1M217.9 487.5h1M212.1 499.1h1M217.6 486.9h1" stroke="#2e92ea" stroke-opacity="0.85" fill="none"/>
<path d="M208.7 489.1h1M213.0 480.6h1M212.2 491.5h1M209.7 481.7h1M216.1 489.0h1M213.2 481.0h1M213.3 490.2h1M210.5 481.2h1M210.5 491.6h1M209.1 483.8h1M212.9 480.9h1M212.1 480.7h1M214.4 484.7h1M208.9 488.3h1M212.4 482.9h1M209.8 490.7h1M210.9 481.2h1M209.5 482.5h1M213.7 484.7h1M212.3 490.6h1M215.1 485.1h1M211.1 481.2h1M214.8 485.0h1M212.4 482.1h1M214.1 484.9h1M212.3 481.8h1M215.7 488.5h1M215.5 488.7h1M212.0 482.2h1M209.6 486.2h1M217.8 488.9h1M207.5 498.3h1M205.9 489.2h1M206.9 497.4h1M210.0 498.9h1M217.7 489.4h1M213.9 496.8h1M214.6 485.2h1M212.9 498.1h1" stroke="#2a9de6" stroke-opacity="0.85" fill="none"/>
<path d="M212.2 484.0h1M210.0 490.4h1M211.2 491.0h1M209.7 482.9h1M213.9 489.2h1M211.7 481.7h1M210.1 490.3h1M215.6 486.1h1M209.6 483.6h1M211.6 490.5h1M215.1 485.7h1M212.7 484.8h1M213.1 485.0h1M209.3 487.9h1M213.1 489.2h1M210.5 482.4h1M211.3 482.8h1M209.5 485.2h1M209.4 486.2h1M209.7 489.1h1M210.4 482.8h1M209.7 484.4h1M213.3 485.3h1M214.1 488.8h1M211.5 490.1h1M210.7 483.0h1M215.5 487.3h1M214.4 488.7h1M210.4 489.9h1M209.6 485.3h1M215.3 487.7h1M214.7 486.1h1M210.8 483.7h1M212.1 489.2h1M211.3 489.7h1M214.9 486.7h1M208.8 487.0h1M207.5 497.7h1M206.9 488.5h1M217.5 490.0h1M211.6 498.5h1M216.6 486.6h1M211.9 485.6h1M207.2 497.0h1M215.3 485.7h1M213.8 485.4h1M212.5 498.0h1M208.1 497.9h1M215.6 486.0h1M217.5 491.0h1M205.6 492.7h1M207.0 496.2h1M206.3 494.8h1" stroke="#26aadf" stroke-opacity="0.85" fill="none"/>
<path d="M215.0 487.8h1M209.8 485.4h1M212.9 488.4h1M214.6 486.8h1M209.8 488.1h1M212.6 485.8h1M213.5 488.1h1M214.0 487.9h1M214.3 486.8h1M210.9 484.6h1M213.5 487.8h1M214.2 487.6h1M210.1 488.2h1M214.0 487.2h1M211.4 484.9h1M210.6 488.8h1M211.8 488.6h1M210.3 485.0h1M210.0 486.2h1M212.5 486.5h1M210.4 487.9h1M210.1 487.3h1M211.5 488.1h1M212.2 486.4h1M206.4 495.0h1M209.1 498.2h1M206.7 495.5h1M207.6 497.1h1M216.9 492.9h1M206.6 495.2h1M208.3 497.8h1M208.4 497.8h1M214.2 485.7h1M214.6 495.4h1M206.6 494.8h1M214.7 495.3h1M212.3 497.4h1M206.3 493.9h1M205.9 492.4h1M216.6 487.6h1M215.0 486.2h1" stroke="#22b6d8" stroke-opacity="0.85" fill="none"/>
<path d="M211.1 485.5h1M211.0 488.1h1M211.8 487.6h1M211.0 487.9h1M211.3 485.8h1M210.4 486.4h1M211.0 485.8h1M210.4 486.6h1M211.6 486.4h1M211.1 487.6h1M211.1 486.0h1M210.7 486.3h1M209.8 497.9h1M210.9 497.9h1M216.6 487.9h1M211.5 497.7h1M213.3 485.9h1M206.1 491.2h1M213.7 485.9h1M213.8 486.0h1M212.2 497.0h1M212.3 496.7h1M210.1 497.8h1M207.9 488.7h1M212.4 486.2h1M209.5 487.6h1M211.0 497.6h1M212.7 496.2h1M208.3 488.5h1M216.4 488.1h1M206.3 492.9h1M207.1 489.6h1M216.5 492.8h1M215.6 487.0h1M209.8 497.4h1" stroke="#1ec3d2" stroke-opacity="0.85" fill="none"/>
<path d="M208.3 496.1h1M210.7 497.4h1M206.3 491.4h1M206.6 493.5h1M206.8 490.2h1M210.7 497.2h1M207.9 489.1h1M211.8 486.6h1M211.6 496.5h1M208.0 495.3h1M210.9 497.1h1M206.4 491.9h1M209.4 496.8h1M210.2 487.5h1M208.9 496.4h1M207.2 494.1h1M212.3 486.5h1M209.0 488.3h1M206.6 491.3h1M210.1 496.9h1M206.6 491.2h1M211.8 495.9h1M216.7 490.6h1M215.5 487.4h1M210.9 496.5h1M210.6 487.4h1M208.7 495.6h1M212.4 486.6h1M208.6 488.8h1M211.4 495.9h1M216.3 489.1h1M214.0 495.1h1M209.7 496.3h1" stroke="#24c3af" stroke-opacity="0.85" fill="none"/>
<path d="M215.7 487.8h1M216.2 492.8h1M216.5 491.7h1M207.5 489.9h1M209.2 495.5h1M208.8 495.1h1M215.3 487.5h1M209.6 495.6h1M209.0 488.7h1M207.0 492.9h1M207.2 490.5h1M216.2 489.2h1M206.9 492.6h1M212.1 495.3h1M216.4 491.6h1M208.6 489.1h1M209.4 495.0h1M210.6 487.7h1" stroke="#2bc38c" stroke-opacity="0.85" fill="none"/>
<path d="M216.4 491.2h1M213.8 494.9h1M216.2 492.2h1M213.6 486.9h1M207.1 492.1h1M213.7 494.9h1M209.3 494.5h1M215.8 492.8h1M207.6 493.0h1M207.9 493.3h1M207.4 491.3h1M214.7 494.3h1M213.4 487.1h1M208.5 493.7h1M211.6 487.5h1M208.5 489.9h1M207.5 491.3h1M216.1 490.5h1M211.8 487.5h1" stroke="#32c369" stroke-opacity="0.85" fill="none"/>
<path d="M215.8 489.5h1M207.6 492.0h1M216.1 491.7h1M208.9 493.6h1M208.7 493.4h1M210.5 494.3h1M214.1 494.5h1M209.9 494.0h1M209.8 493.9h1M212.8 487.4h1M213.5 487.4h1M210.8 488.2h1M208.4 490.7h1M210.7 494.1h1M208.3 491.0h1M210.0 493.8h1M215.9 491.6h1M211.6 487.9h1M214.5 488.0h1M215.3 493.1h1M214.9 488.5h1M209.4 493.3h1M214.9 488.5h1M208.4 491.3h1M208.4 491.3h1M210.1 493.8h1M214.3 494.2h1M208.6 492.5h1" stroke="#3fc450" stroke-opacity="0.85" fill="none"/>
<path d="M208.5 491.3h1M214.7 488.3h1M208.8 492.5h1M209.6 489.6h1M211.0 488.3h1M213.0 487.7h1M215.8 491.5h1M208.7 492.2h1M215.1 489.0h1M209.3 490.2h1M215.3 489.6h1M215.7 491.0h1M213.8 488.0h1M209.7 489.8h1M210.2 489.3h1M215.2 493.0h1M211.7 488.2h1M209.8 493.0h1M210.7 488.9h1M215.2 489.7h1M209.4 490.8h1M209.6 490.3h1" stroke="#54c843" stroke-opacity="0.85" fill="none"/>
<path d="M209.4 492.1h1M213.3 494.3h1M214.4 488.7h1M215.3 490.5h1M210.0 492.7h1M214.0 493.9h1M213.4 494.1h1M211.4 488.7h1M213.6 488.4h1M213.2 494.1h1M209.9 491.4h1M210.7 489.5h1" stroke="#68cd37" stroke-opacity="0.85" fill="none"/>
<path d="M215.3 491.5h1M211.8 488.8h1M212.9 488.6h1M212.4 488.7h1M214.0 493.6h1M210.6 490.1h1M214.8 490.1h1M213.8 493.7h1M212.6 488.8h1M211.0 492.9h1M213.0 493.8h1" stroke="#7dd12a" stroke-opacity="0.85" fill="none"/>
<path d="M211.7 493.4h1M212.4 489.0h1M212.7 493.7h1M213.5 489.2h1M211.7 489.3h1M213.3 489.2h1M214.4 493.0h1M214.2 489.8h1M210.8 492.3h1M211.3 489.8h1M210.7 491.0h1M212.5 493.6h1M211.1 492.6h1M214.8 491.5h1M214.4 492.9h1M211.4 489.8h1M211.8 493.1h1M213.7 493.4h1M211.1 490.4h1M214.1 490.0h1M211.1 492.3h1" stroke="#9ed625" stroke-opacity="0.85" fill="none"/>
<path d="M213.0 489.4h1M214.3 492.6h1M213.6 489.9h1M211.1 491.9h1M214.5 491.5h1M213.2 493.2h1M211.4 490.7h1M211.3 491.1h1M212.7 493.2h1M211.7 492.5h1M211.4 492.0h1" stroke="#c1db21" stroke-opacity="0.85" fill="none"/>
<path d="M214.3 491.4h1M211.9 490.3h1M213.5 490.2h1M211.9 490.3h1M213.7 492.9h1M213.0 490.1h1M214.2 491.3h1M213.6 490.5h1M212.2 490.3h1M213.8 492.6h1M212.2 492.6h1M212.0 490.6h1M211.7 491.2h1M212.3 490.5h1M213.7 492.6h1M213.8 491.2h1M211.8 491.9h1M213.9 491.9h1M211.9 491.9h1M212.4 492.6h1" stroke="#e4e01e" stroke-opacity="0.85" fill="none"/>
<path d="M212.8 492.7h1M213.4 492.6h1M212.1 491.9h1M213.4 491.0h1M212.1 491.8h1M213.0 490.8h1M213.3 491.1h1M213.5 491.6h1M212.4 492.1h1M212.7 492.3h1M213.3 492.2h1M213.3 491.6h1M212.7 491.9h1" stroke="#eec71a" stroke-opacity="0.85" fill="none"/>
</g>
<rect x="189.7" y="457.0" width="50.8" height="52.0" fill="none" stroke="#a8a8a8" stroke-width="0.9"/>
<text x="217.5" y="452.4" font-size="8.2" text-anchor="middle" fill="#222" stroke="#222" stroke-width="0.12">96.1%</text>
<rect x="166.70" y="435.20" width="80.30" height="79.60" rx="1" fill="none" stroke="#000" stroke-width="1.4"/>
<path d="M166.70 514.80h-2.6M166.70 511.76h-1.4M166.70 508.73h-1.4M166.70 505.69h-1.4M166.70 502.65h-1.4M166.70 499.62h-2.6M166.70 496.58h-1.4M166.70 493.54h-1.4M166.70 490.51h-1.4M166.70 487.47h-1.4M166.70 484.44h-2.6M166.70 481.40h-1.4M166.70 478.36h-1.4M166.70 475.33h-1.4M166.70 472.29h-1.4M166.70 469.25h-2.6M166.70 466.22h-1.4M166.70 463.18h-1.4M166.70 460.14h-1.4M166.70 457.11h-1.4M166.70 454.07h-2.6M166.70 451.03h-1.4M166.70 448.00h-1.4M166.70 444.96h-1.4M166.70 441.92h-1.4M166.70 438.89h-2.6M166.70 435.85h-1.4" stroke="#000" stroke-width="0.9" fill="none"/>
<text x="161.2" y="517.8" font-size="8.6" text-anchor="end" fill="#111">0</text>
<text x="161.2" y="502.6" font-size="8.6" text-anchor="end" fill="#111">50K</text>
<text x="161.2" y="487.4" font-size="8.6" text-anchor="end" fill="#111">100K</text>
<text x="161.2" y="472.3" font-size="8.6" text-anchor="end" fill="#111">150K</text>
<text x="161.2" y="457.1" font-size="8.6" text-anchor="end" fill="#111">200K</text>
<text x="161.2" y="441.9" font-size="8.6" text-anchor="end" fill="#111">250K</text>
<path d="M173.32 514.80v3M183.52 514.80v3M201.15 514.80v3M219.86 514.80v3M237.52 514.80v3M189.00 514.80v1.8M192.20 514.80v1.8M194.47 514.80v1.8M196.24 514.80v1.8M197.68 514.80v1.8M198.89 514.80v1.8M199.95 514.80v1.8M200.88 514.80v1.8M206.62 514.80v1.8M209.83 514.80v1.8M212.10 514.80v1.8M213.86 514.80v1.8M215.30 514.80v1.8M216.52 514.80v1.8M217.57 514.80v1.8M218.50 514.80v1.8M225.33 514.80v1.8M228.54 514.80v1.8M230.81 514.80v1.8M232.57 514.80v1.8M234.01 514.80v1.8M235.23 514.80v1.8M236.28 514.80v1.8M237.21 514.80v1.8M243.00 514.80v1.8M168.31 514.80v1.8M169.91 514.80v1.8M171.52 514.80v1.8M175.13 514.80v1.8M177.14 514.80v1.8M179.15 514.80v1.8M181.15 514.80v1.8" stroke="#000" stroke-width="0.9" fill="none"/>
<g filter="url(#bl)">
<path d="M105.8 559.6h1M100.7 572.5h1M100.6 559.0h1M105.5 573.8h1M108.8 581.6h1M92.3 568.2h1M95.9 563.4h1" stroke="#6480e1" stroke-opacity="0.85" fill="none"/>
<path d="M69.3 529.9h1M55.7 577.4h1M59.4 597.8h1M58.0 589.8h1M70.5 594.9h1M66.6 523.4h1M67.7 525.7h1M62.5 596.8h1M69.4 535.6h1M65.2 596.6h1M58.0 543.7h1M59.6 538.8h1M67.5 594.1h1M70.6 545.1h1M68.8 591.0h1M63.0 528.5h1M69.8 580.9h1M71.3 566.9h1M61.5 526.5h1M64.1 526.6h1M63.0 526.0h1M72.1 555.8h1M69.3 541.1h1M65.1 593.4h1M71.9 571.8h1M70.3 548.8h1M69.1 587.4h1M64.9 535.2h1M72.0 575.1h1M62.2 538.0h1M71.3 563.3h1M68.9 583.1h1M60.2 543.6h1M69.3 546.4h1M59.1 557.0h1M57.8 571.3h1M99.1 563.7h1M95.8 568.0h1M98.4 566.7h1M98.9 579.6h1M98.2 578.2h1M106.5 566.3h1M109.4 577.6h1M108.1 577.6h1M108.4 567.5h1M106.4 569.4h1M106.2 569.2h1" stroke="#5d7ce0" stroke-opacity="0.85" fill="none"/>
<path d="M66.0 535.5h1M68.3 587.5h1M61.4 540.7h1M59.7 579.7h1M68.5 584.0h1M61.1 591.4h1M68.2 541.9h1M57.5 566.7h1M67.9 584.2h1M63.6 537.8h1M63.4 539.6h1M67.0 540.0h1M67.5 586.0h1M62.8 540.8h1M66.6 590.0h1M67.5 543.4h1M67.2 538.2h1M65.8 541.6h1M68.6 548.0h1M69.3 577.9h1M70.9 574.0h1M58.6 568.9h1M62.1 542.1h1M57.9 564.4h1M57.8 564.8h1M60.8 582.9h1M60.1 547.2h1M65.9 536.8h1M70.6 551.9h1M66.9 542.7h1M66.7 538.4h1M64.9 537.7h1M70.4 575.7h1M65.8 538.4h1M59.1 573.9h1M65.9 589.3h1M62.1 591.5h1M67.7 547.9h1M69.8 576.3h1M66.0 588.0h1M64.8 591.1h1M65.1 590.6h1M70.1 569.7h1M62.7 591.5h1M62.0 583.4h1M62.3 571.9h1M60.9 574.1h1M66.7 588.6h1M70.7 577.1h1M71.2 586.1h1M65.4 572.4h1M66.4 572.6h1" stroke="#5678e0" stroke-opacity="0.85" fill="none"/>
<path d="M62.5 586.3h1M61.4 582.5h1M70.3 554.8h1M59.0 572.2h1M69.3 551.7h1M68.5 577.4h1M69.6 575.4h1M69.4 551.9h1M63.6 543.0h1M65.3 543.4h1M69.8 552.4h1M62.7 588.3h1M60.9 554.6h1M67.6 550.5h1M62.8 588.7h1M61.2 581.7h1M62.6 590.5h1M58.7 560.8h1M60.7 553.9h1M62.0 544.3h1M62.9 590.7h1M66.8 548.3h1M69.3 552.7h1M66.1 545.5h1M63.6 590.4h1M66.2 545.8h1M65.2 585.8h1M69.8 554.3h1M69.7 571.7h1M59.1 565.1h1M59.3 559.4h1M64.1 588.0h1M65.7 582.4h1M67.2 579.0h1M69.9 562.4h1M63.5 587.5h1M65.2 583.2h1M63.3 586.2h1M63.9 584.8h1M64.6 586.5h1M63.6 585.5h1M62.3 545.2h1M69.6 555.2h1M59.0 561.8h1M65.9 546.7h1M64.4 586.0h1M59.4 566.5h1M59.5 566.7h1M69.1 572.7h1M64.3 583.3h1M64.5 583.2h1M59.6 565.6h1M69.3 571.1h1M66.6 550.6h1M62.8 544.6h1M68.9 572.9h1M62.5 581.9h1M59.9 558.9h1M62.7 545.5h1M60.6 574.0h1M63.9 544.5h1M69.4 556.0h1M71.2 584.4h1M67.5 574.3h1M68.8 575.7h1" stroke="#5074df" stroke-opacity="0.85" fill="none"/>
<path d="M64.5 582.4h1M67.9 575.6h1M64.4 544.7h1M60.9 551.7h1M60.1 572.8h1M64.8 545.4h1M65.5 581.3h1M61.4 557.2h1M69.3 557.8h1M61.3 575.6h1M61.3 576.7h1M64.2 545.2h1M61.1 574.8h1M65.4 548.6h1M63.5 545.9h1M69.4 561.1h1M60.7 549.5h1M66.3 551.5h1M68.6 571.3h1M61.8 579.9h1M61.5 575.8h1M67.5 553.7h1M61.5 552.7h1M64.3 547.1h1M62.3 580.5h1M61.4 548.1h1M69.1 562.7h1M60.5 572.3h1M64.6 581.2h1M67.5 574.7h1M65.7 551.1h1M67.0 576.2h1M62.0 553.6h1M61.6 548.2h1M68.8 556.5h1M68.9 557.6h1M61.2 550.6h1M60.4 570.8h1M61.2 549.0h1M64.7 549.3h1M61.6 551.5h1M61.8 577.8h1M66.3 578.5h1M62.5 556.1h1M68.9 560.1h1M61.9 578.8h1M65.1 580.5h1M64.3 548.5h1M60.6 568.1h1M68.4 569.4h1M67.9 586.5h1M59.2 581.6h1M69.7 584.8h1M63.2 587.0h1M62.2 586.6h1M59.9 582.9h1M59.7 581.0h1M69.8 580.3h1" stroke="#4970df" stroke-opacity="0.85" fill="none"/>
<path d="M64.9 550.8h1M62.6 548.0h1M66.3 577.6h1M65.6 579.8h1M64.1 548.6h1M62.8 580.1h1M68.4 569.0h1M68.7 559.5h1M61.5 549.3h1M62.5 553.5h1M61.0 572.1h1M66.9 553.9h1M62.5 575.7h1M63.9 548.7h1M61.6 549.2h1M61.9 551.1h1M68.6 562.0h1M68.4 563.3h1M60.8 570.4h1M67.3 572.0h1M62.7 554.0h1M63.7 548.7h1M68.5 558.4h1M64.6 551.5h1M62.8 575.8h1M60.9 568.4h1M62.4 578.9h1M62.3 578.5h1M60.5 562.7h1M65.9 577.1h1M67.2 571.0h1M62.9 574.9h1M62.3 550.9h1M61.4 566.3h1M67.8 555.9h1M63.1 548.9h1M66.1 575.7h1M66.9 572.6h1M62.1 549.6h1M68.0 563.8h1M65.6 552.8h1M63.4 551.6h1M65.7 552.9h1M62.4 550.5h1M68.2 562.3h1M65.5 552.7h1M68.3 560.6h1M62.6 573.8h1M62.5 577.7h1M66.7 573.6h1M68.0 568.9h1M62.8 549.5h1M64.0 552.1h1M61.0 563.2h1M65.4 578.6h1M66.7 570.9h1M64.2 579.8h1M64.9 579.4h1M62.1 558.1h1M66.6 571.0h1M61.6 571.9h1M68.1 560.5h1M61.8 566.1h1M63.8 579.6h1M62.8 578.1h1M60.9 559.6h1M65.2 586.5h1M61.9 585.6h1M60.5 582.9h1M61.4 584.4h1" stroke="#426cde" stroke-opacity="0.85" fill="none"/>
<path d="M67.9 558.1h1M67.8 563.0h1M67.9 568.4h1M66.2 574.0h1M61.8 571.9h1M63.7 576.4h1M67.8 557.7h1M63.7 553.0h1M64.4 575.7h1M67.9 560.1h1M64.7 575.8h1M65.5 575.1h1M60.5 561.5h1M66.0 574.3h1M63.9 553.0h1M61.2 563.1h1M61.7 567.3h1M67.5 556.5h1M64.7 575.2h1M63.9 553.2h1M66.0 574.0h1M67.6 565.8h1M63.2 578.0h1M62.5 558.0h1M60.7 560.8h1M60.7 561.9h1M62.2 565.4h1M64.2 577.1h1M65.8 571.7h1M64.6 578.8h1M65.2 574.6h1M65.9 570.5h1M61.9 571.1h1M64.6 578.5h1M65.8 570.7h1M64.5 578.6h1M64.7 578.1h1M67.6 568.4h1M61.7 569.3h1M65.5 574.1h1M67.4 564.9h1M65.6 573.8h1M62.0 563.6h1M63.5 573.3h1M64.5 577.9h1M67.0 556.0h1M62.4 564.8h1M64.2 577.9h1M67.3 564.1h1M67.6 567.9h1M67.4 566.3h1M63.1 572.6h1M67.4 559.3h1M60.9 561.8h1M67.5 568.2h1M67.4 561.0h1M65.3 573.4h1M61.9 570.2h1M67.2 564.1h1M63.3 572.6h1M63.2 572.4h1M62.2 570.6h1M66.2 554.9h1M62.1 567.8h1M65.0 572.2h1M64.4 554.0h1M64.0 572.9h1M64.8 571.7h1M62.5 571.1h1M62.6 565.5h1M64.2 554.2h1M67.4 567.3h1M62.1 568.8h1M64.8 554.0h1M64.3 572.7h1M62.6 558.4h1M62.1 569.7h1M63.6 572.2h1M63.8 556.1h1M64.0 572.2h1M65.7 575.7h1M61.5 578.2h1M61.2 579.2h1M61.2 579.7h1M67.3 585.1h1M68.5 578.1h1M62.9 576.8h1M62.3 583.7h1" stroke="#3c69de" stroke-opacity="0.85" fill="none"/>
<path d="M62.2 569.2h1M63.9 571.0h1M62.8 566.0h1M64.1 570.6h1M61.5 562.2h1M61.3 561.8h1M62.3 563.1h1M67.0 568.4h1M66.9 560.0h1M66.7 561.6h1M64.4 554.8h1M63.1 565.3h1M65.6 569.3h1M62.7 558.7h1M64.9 554.6h1M63.3 570.0h1M62.9 558.6h1M66.7 560.5h1M66.6 556.6h1M62.7 568.2h1M61.5 560.3h1M62.7 568.3h1M62.7 568.8h1M66.5 563.0h1M64.4 569.5h1M61.8 559.9h1M61.6 561.7h1M66.8 568.3h1M62.9 568.6h1M61.7 560.1h1M66.8 566.3h1M66.5 559.4h1M63.3 565.6h1M64.4 555.6h1M64.4 555.6h1M66.3 568.5h1M65.5 555.3h1M63.3 568.2h1M66.1 561.8h1M62.3 559.6h1M64.6 555.5h1M63.7 564.6h1M63.6 565.5h1M66.0 563.2h1M66.2 558.3h1M65.7 555.6h1M63.9 568.7h1M64.2 568.8h1M65.9 555.8h1M61.9 561.4h1M63.2 562.8h1M65.5 555.5h1M63.9 564.8h1M66.1 560.1h1M66.2 557.1h1M63.3 558.8h1M66.1 564.3h1M65.7 563.0h1M62.0 560.6h1M66.0 564.1h1M64.8 568.5h1M63.4 562.8h1M64.3 585.1h1M64.7 585.1h1M67.9 584.0h1M61.8 580.8h1M62.7 583.5h1M63.5 576.9h1" stroke="#3971e0" stroke-opacity="0.85" fill="none"/>
<path d="M65.8 564.0h1M64.2 563.6h1M63.9 558.4h1M64.1 565.4h1M66.5 567.2h1M64.0 565.9h1M64.6 556.9h1M65.8 558.1h1M65.5 556.0h1M65.8 557.7h1M64.5 564.3h1M65.8 564.5h1M64.8 568.3h1M65.5 564.0h1M64.9 556.5h1M66.0 565.5h1M65.1 556.5h1M65.5 558.2h1M65.8 565.2h1M65.9 567.9h1M64.8 562.6h1M65.1 556.9h1M64.7 562.6h1M65.2 557.3h1M65.3 557.2h1M65.5 564.9h1M66.1 566.6h1M63.8 562.3h1M64.8 558.5h1M62.4 560.8h1M62.8 560.0h1M65.0 561.9h1M64.8 567.6h1M64.5 567.2h1M64.8 558.9h1M64.7 566.8h1M65.9 566.6h1M63.0 559.9h1M65.2 567.5h1M65.0 559.3h1M65.1 561.0h1M65.7 566.8h1M65.5 567.3h1M64.7 561.6h1M65.0 559.5h1M65.4 567.2h1M65.5 566.5h1M63.2 561.5h1M63.4 561.6h1M64.9 560.5h1M64.8 560.6h1M64.0 559.6h1M64.5 561.0h1M64.4 560.2h1M64.0 561.1h1M63.9 560.8h1M64.2 560.5h1M63.8 583.6h1M62.6 578.6h1M66.5 577.0h1M66.1 584.3h1M64.7 584.0h1" stroke="#3679e2" stroke-opacity="0.85" fill="none"/>
<path d="M66.5 583.9h1M66.7 583.8h1M67.3 578.0h1M62.9 580.8h1M67.9 582.2h1M66.7 583.6h1M63.3 578.3h1M63.5 578.0h1M64.8 577.2h1M68.1 580.3h1M66.4 577.6h1" stroke="#3382e5" stroke-opacity="0.85" fill="none"/>
<path d="M67.8 581.8h1M63.6 581.8h1M65.3 577.5h1M64.5 577.6h1M64.5 577.6h1M67.8 581.4h1M67.1 578.4h1M63.6 581.5h1M65.2 577.7h1M63.8 581.3h1M64.2 581.9h1" stroke="#308ae7" stroke-opacity="0.85" fill="none"/>
<path d="M67.2 582.0h1M64.1 581.1h1M67.2 579.4h1M65.8 582.4h1M64.4 579.3h1M66.7 578.9h1M64.5 580.4h1M65.2 581.9h1" stroke="#2e92ea" stroke-opacity="0.85" fill="none"/>
<path d="M64.7 579.9h1M66.7 579.5h1M67.0 580.3h1M66.9 581.2h1M66.4 581.3h1M66.4 579.9h1M66.5 581.1h1M66.1 579.9h1" stroke="#2a9de6" stroke-opacity="0.85" fill="none"/>
<path d="M66.2 580.6h1" stroke="#26aadf" stroke-opacity="0.85" fill="none"/>
</g>
<rect x="77.5" y="544.0" width="50.4" height="52.0" fill="none" stroke="#a8a8a8" stroke-width="0.9"/>
<text x="103.7" y="538.7" font-size="8.2" text-anchor="middle" fill="#222" stroke="#222" stroke-width="0.12">2.9%</text>
<rect x="54.50" y="521.50" width="79.70" height="80.00" rx="1" fill="none" stroke="#000" stroke-width="1.4"/>
<path d="M54.50 601.50h-2.6M54.50 598.45h-1.4M54.50 595.40h-1.4M54.50 592.34h-1.4M54.50 589.29h-1.4M54.50 586.24h-2.6M54.50 583.19h-1.4M54.50 580.14h-1.4M54.50 577.09h-1.4M54.50 574.03h-1.4M54.50 570.98h-2.6M54.50 567.93h-1.4M54.50 564.88h-1.4M54.50 561.83h-1.4M54.50 558.78h-1.4M54.50 555.72h-2.6M54.50 552.67h-1.4M54.50 549.62h-1.4M54.50 546.57h-1.4M54.50 543.52h-1.4M54.50 540.46h-2.6M54.50 537.41h-1.4M54.50 534.36h-1.4M54.50 531.31h-1.4M54.50 528.26h-1.4M54.50 525.21h-2.6M54.50 522.15h-1.4" stroke="#000" stroke-width="0.9" fill="none"/>
<text x="49.6" y="604.5" font-size="8.6" text-anchor="end" fill="#111">0</text>
<text x="49.6" y="589.2" font-size="8.6" text-anchor="end" fill="#111">50K</text>
<text x="49.6" y="574.0" font-size="8.6" text-anchor="end" fill="#111">100K</text>
<text x="49.6" y="558.7" font-size="8.6" text-anchor="end" fill="#111">150K</text>
<text x="49.6" y="543.5" font-size="8.6" text-anchor="end" fill="#111">200K</text>
<text x="49.6" y="528.2" font-size="8.6" text-anchor="end" fill="#111">250K</text>
<path d="M61.08 601.50v3M71.20 601.50v3M88.69 601.50v3M107.26 601.50v3M124.80 601.50v3M76.63 601.50v1.8M79.81 601.50v1.8M82.07 601.50v1.8M83.81 601.50v1.8M85.24 601.50v1.8M86.45 601.50v1.8M87.50 601.50v1.8M88.42 601.50v1.8M94.13 601.50v1.8M97.30 601.50v1.8M99.56 601.50v1.8M101.31 601.50v1.8M102.74 601.50v1.8M103.95 601.50v1.8M104.99 601.50v1.8M105.92 601.50v1.8M112.70 601.50v1.8M115.87 601.50v1.8M118.13 601.50v1.8M119.88 601.50v1.8M121.31 601.50v1.8M122.52 601.50v1.8M123.56 601.50v1.8M124.49 601.50v1.8M130.23 601.50v1.8M56.09 601.50v1.8M57.69 601.50v1.8M59.28 601.50v1.8M62.87 601.50v1.8M64.86 601.50v1.8M66.85 601.50v1.8M68.85 601.50v1.8" stroke="#000" stroke-width="0.9" fill="none"/>
<g filter="url(#bl)">
<path d="M182.2 578.2h1M182.3 570.4h1M182.6 549.9h1M170.5 581.5h1M173.5 539.6h1M175.1 541.9h1M175.1 588.9h1M178.7 582.9h1M179.4 574.4h1M233.1 548.2h1M196.8 599.4h1M202.4 600.3h1M227.7 552.7h1M198.3 562.6h1M229.4 572.7h1M204.9 597.1h1M205.0 555.9h1M202.8 560.6h1M195.4 580.0h1M200.2 594.6h1M216.6 547.3h1M215.3 552.4h1M204.7 558.6h1M227.0 571.5h1M201.2 595.2h1M209.5 560.3h1" stroke="#5d7ce0" stroke-opacity="0.85" fill="none"/>
<path d="M174.1 585.9h1M176.4 585.9h1M172.1 552.4h1M172.6 553.1h1M174.0 547.7h1M170.4 574.5h1M180.8 545.4h1M177.9 550.3h1M182.0 563.7h1M182.0 565.4h1M175.1 583.4h1M180.0 547.6h1M180.4 555.7h1M179.5 546.4h1M175.6 547.5h1M176.5 548.2h1M171.6 573.6h1M171.5 564.1h1M200.3 565.1h1M198.0 590.1h1M226.8 566.6h1M213.5 595.0h1M215.9 549.3h1M195.9 582.3h1M199.0 590.2h1M197.6 582.2h1M222.0 550.8h1M210.5 594.5h1M225.6 557.8h1M220.6 583.6h1M228.4 556.3h1M225.9 567.4h1M225.1 570.9h1M218.0 585.5h1M227.6 556.9h1M212.4 553.8h1M218.6 549.1h1M219.5 550.1h1M219.2 584.9h1M202.8 587.7h1M215.2 585.7h1M220.9 552.6h1M213.7 590.8h1M198.0 574.4h1M202.9 584.7h1M209.5 554.9h1M203.7 590.0h1M208.5 556.8h1M211.7 593.2h1M222.3 554.1h1M196.8 580.1h1M199.3 587.1h1M219.4 583.0h1M218.4 564.9h1M206.5 564.4h1" stroke="#5678e0" stroke-opacity="0.85" fill="none"/>
<path d="M178.7 552.7h1M177.4 553.0h1M179.3 554.3h1M173.5 580.3h1M176.2 581.5h1M178.9 570.0h1M177.4 554.4h1M173.1 558.7h1M177.3 576.5h1M176.7 573.7h1M172.8 559.8h1M174.5 580.5h1M176.7 578.3h1M176.7 578.1h1M174.2 575.4h1M179.5 563.0h1M208.9 555.7h1M222.3 556.1h1M222.1 578.4h1M208.3 559.7h1M213.1 591.5h1M203.5 594.5h1M205.2 586.7h1M212.8 592.5h1M201.0 583.0h1M204.4 563.4h1M223.9 560.3h1M203.4 592.8h1M221.9 578.6h1M207.6 560.2h1M205.6 589.0h1M199.0 575.9h1M223.6 560.1h1M211.6 589.1h1M221.7 554.8h1M199.9 578.8h1M202.7 594.0h1M203.0 593.2h1M204.7 589.1h1M205.5 587.7h1M214.3 584.1h1M222.2 572.0h1M223.9 562.3h1M199.3 573.2h1M220.9 556.8h1M221.3 559.5h1M210.7 588.6h1M219.7 580.7h1M218.5 581.5h1M209.2 587.5h1M207.4 585.4h1M221.1 576.1h1M218.6 554.9h1M201.2 571.3h1M206.9 590.9h1M201.2 572.6h1M214.5 588.1h1M200.5 580.0h1M212.0 564.3h1M200.2 583.9h1M206.3 566.6h1" stroke="#5074df" stroke-opacity="0.85" fill="none"/>
<path d="M173.8 574.6h1M179.6 561.6h1M175.4 579.9h1M175.4 579.3h1M176.0 575.5h1M175.4 575.8h1M173.4 572.7h1M179.6 566.2h1M173.3 571.2h1M179.4 558.7h1M179.3 566.4h1M175.0 572.9h1M176.9 570.9h1M174.8 572.3h1M206.9 562.3h1M202.3 566.1h1M223.6 564.7h1M211.2 556.5h1M207.8 561.8h1M200.0 573.3h1M200.6 578.0h1M201.7 582.5h1M220.4 578.1h1M219.2 559.1h1M200.6 574.9h1M201.5 576.4h1M210.0 587.1h1M213.0 584.7h1M219.2 556.3h1M210.9 587.3h1M220.4 575.7h1M222.3 568.8h1M219.2 557.5h1M204.9 564.6h1M212.3 585.6h1M201.7 574.9h1M217.7 580.7h1M211.5 557.7h1M217.3 567.2h1M219.0 569.5h1M214.2 565.1h1M211.4 565.1h1M203.3 589.5h1M202.7 588.6h1M217.9 568.5h1M220.5 572.2h1M207.1 567.3h1" stroke="#4970df" stroke-opacity="0.85" fill="none"/>
<path d="M178.0 568.9h1M172.8 565.9h1M178.6 562.1h1M178.8 558.7h1M175.7 556.9h1M178.5 566.6h1M173.6 561.3h1M176.1 570.6h1M178.5 558.4h1M175.7 557.1h1M173.0 566.7h1M202.2 569.3h1M222.2 570.1h1M219.2 560.7h1M213.1 582.5h1M221.4 561.3h1M215.5 555.6h1M201.2 573.2h1M214.2 556.1h1M202.9 567.5h1M208.9 562.5h1M203.4 566.1h1M211.3 586.2h1M212.8 556.7h1M212.5 556.9h1M222.4 565.5h1M217.3 580.4h1M203.1 582.5h1M211.6 585.5h1M206.6 583.3h1M217.2 555.7h1M218.9 578.4h1M218.6 579.4h1M219.8 574.1h1M217.0 555.7h1M208.0 584.0h1M201.8 578.9h1M201.9 578.4h1M202.1 570.4h1M206.8 564.2h1M221.7 562.1h1M202.1 570.7h1M217.1 559.0h1M202.1 580.8h1M201.0 583.6h1M203.1 574.4h1M207.7 567.7h1M208.5 589.2h1M202.4 578.5h1M220.7 573.4h1M220.7 573.8h1M204.5 571.0h1M205.9 569.5h1M204.6 588.8h1" stroke="#426cde" stroke-opacity="0.85" fill="none"/>
<path d="M173.0 567.8h1M176.5 569.6h1M177.1 564.7h1M176.1 557.3h1M177.3 565.2h1M174.8 570.1h1M173.4 567.1h1M176.3 557.4h1M174.3 561.1h1M173.8 563.0h1M177.0 568.3h1M178.0 559.6h1M177.1 565.4h1M174.3 564.1h1M173.5 567.9h1M177.3 557.8h1M175.8 558.3h1M174.7 569.6h1M174.6 569.4h1M177.2 566.7h1M202.5 570.3h1M203.8 582.3h1M209.5 584.5h1M219.2 575.0h1M222.3 563.8h1M219.7 571.5h1M219.1 574.8h1M203.9 567.9h1M202.4 570.9h1M221.0 570.3h1M219.6 571.4h1M222.3 564.1h1M216.8 561.6h1M221.1 569.1h1M212.7 558.5h1M211.8 560.4h1M212.2 559.6h1M217.2 556.9h1M216.3 558.8h1M217.3 557.5h1M219.0 573.6h1M220.7 570.2h1M220.8 570.0h1M210.3 584.1h1M217.7 578.6h1M214.4 557.7h1M211.0 583.4h1M219.9 561.9h1M212.0 582.0h1M208.6 583.0h1M216.0 557.0h1M209.8 583.7h1M209.2 583.3h1M216.8 557.3h1M220.4 568.0h1M202.8 572.4h1M204.8 566.2h1M220.5 569.6h1M215.8 558.6h1M215.2 557.8h1M210.9 583.1h1M204.0 574.2h1M203.1 572.6h1M205.2 588.6h1M218.2 578.4h1M212.2 588.0h1" stroke="#3c69de" stroke-opacity="0.85" fill="none"/>
<path d="M174.6 564.1h1M173.8 567.8h1M175.9 565.9h1M177.0 558.0h1M176.7 566.8h1M174.3 563.0h1M174.8 569.0h1M176.4 558.6h1M177.1 561.1h1M174.3 567.4h1M174.8 563.7h1M176.0 559.9h1M176.2 567.4h1M176.9 560.5h1M176.8 561.3h1M175.7 567.6h1M175.0 561.5h1M176.5 561.7h1M175.7 563.1h1M175.0 561.8h1M176.2 562.2h1M218.3 571.3h1M221.6 565.0h1M217.8 576.2h1M204.6 566.7h1M213.1 559.1h1M204.9 570.7h1M217.1 570.4h1M204.5 570.9h1M218.4 562.2h1M211.0 582.3h1M203.3 572.1h1M220.9 565.7h1M203.7 572.6h1M204.9 567.8h1M203.9 576.2h1M217.4 571.4h1M219.8 568.0h1M209.9 563.6h1M212.9 559.8h1M216.9 578.7h1M204.4 573.4h1M207.9 581.8h1M208.8 564.1h1M217.9 573.8h1M214.7 579.9h1M217.9 573.4h1M211.8 561.8h1M207.0 581.8h1M217.2 576.8h1M214.5 560.1h1M216.7 578.7h1M205.5 571.4h1M217.7 569.2h1M214.2 559.8h1M210.7 563.3h1M206.8 581.8h1M205.7 571.3h1M217.3 571.9h1M215.0 561.0h1M215.7 579.4h1M205.2 567.3h1M215.6 562.4h1M202.2 582.3h1M202.4 581.5h1M218.7 575.9h1M209.3 588.3h1M203.9 586.1h1M203.8 576.7h1M202.5 583.0h1M203.1 580.1h1M204.0 586.1h1M206.0 587.5h1M207.4 569.7h1M206.0 570.8h1M219.2 574.4h1" stroke="#3971e0" stroke-opacity="0.85" fill="none"/>
<path d="M175.8 562.8h1M216.5 571.8h1M205.6 566.6h1M217.1 575.9h1M205.8 572.6h1M215.5 562.6h1M217.0 572.4h1M221.1 563.9h1M211.6 580.9h1M216.3 563.4h1M203.6 581.0h1M207.8 565.1h1M206.1 572.9h1M204.7 575.6h1M216.2 563.6h1M207.4 581.2h1M218.3 568.4h1M216.5 569.0h1M211.7 580.7h1M203.7 578.0h1M216.8 575.7h1M211.8 563.1h1M206.8 570.4h1M214.0 561.0h1M214.8 563.0h1M220.7 563.7h1M203.8 580.9h1M212.1 562.7h1M219.3 566.9h1M206.1 573.5h1M203.4 579.5h1M214.1 561.4h1M205.5 581.3h1M212.9 561.7h1M214.3 562.2h1M205.0 575.7h1M204.8 576.2h1M212.7 562.1h1M213.0 580.0h1M215.0 572.0h1M213.7 563.7h1M216.6 574.7h1M215.7 564.6h1M207.2 570.5h1M212.6 562.7h1M207.5 571.4h1M206.1 567.6h1M217.6 578.0h1M206.0 587.3h1M210.3 588.1h1M205.1 572.1h1M205.9 587.3h1M214.3 567.3h1M210.8 567.9h1M204.7 573.8h1M204.5 585.7h1M216.7 580.9h1" stroke="#3679e2" stroke-opacity="0.85" fill="none"/>
<path d="M212.5 563.7h1M212.3 563.8h1M219.5 563.2h1M218.5 563.4h1M206.4 566.8h1M203.9 580.4h1M205.9 581.0h1M212.9 579.9h1M220.2 563.9h1M213.0 572.7h1M216.8 564.6h1M211.2 580.2h1M213.6 573.1h1M209.3 580.2h1M212.6 564.4h1M214.5 572.5h1M213.9 572.7h1M219.1 563.5h1M220.0 564.3h1M218.6 567.0h1M215.8 573.2h1M219.1 563.6h1M210.2 580.0h1M215.5 573.2h1M213.6 571.7h1M217.5 567.8h1M204.3 580.4h1M218.8 563.8h1M204.0 579.6h1M207.5 580.0h1M216.1 565.4h1M208.5 565.3h1M210.5 579.9h1M217.8 567.4h1M206.7 567.9h1M206.9 574.2h1M218.8 565.8h1M206.2 575.0h1M204.9 577.6h1M219.2 564.2h1M208.0 572.6h1M218.2 564.5h1M204.7 578.1h1M210.6 579.7h1M205.3 580.5h1M215.5 578.0h1M218.5 565.9h1M214.7 573.8h1M209.0 569.4h1M218.6 574.1h1M214.3 567.6h1M211.9 587.0h1M218.2 574.8h1M216.3 570.2h1M218.2 574.3h1" stroke="#3382e5" stroke-opacity="0.85" fill="none"/>
<path d="M204.6 578.5h1M207.3 566.5h1M215.3 574.0h1M217.3 567.4h1M209.9 565.0h1M218.4 565.7h1M216.0 568.1h1M213.7 570.9h1M214.7 574.3h1M205.3 580.3h1M214.8 574.5h1M214.1 579.0h1M215.0 574.9h1M214.9 574.8h1M206.9 574.7h1M205.7 580.0h1M215.4 577.6h1M215.4 577.3h1M217.4 566.1h1M205.0 578.5h1M217.5 566.4h1M211.6 575.5h1M205.1 578.4h1M214.8 575.3h1M207.5 569.3h1M216.6 566.8h1M213.8 575.8h1M216.5 566.9h1M205.4 579.5h1M208.0 579.1h1M206.4 575.7h1M207.3 568.2h1M207.8 579.0h1M211.0 574.9h1M208.1 566.3h1M213.3 576.2h1M214.9 568.6h1M206.3 576.5h1M206.2 577.1h1M214.0 576.1h1M208.3 578.9h1M212.1 578.7h1M215.1 566.3h1M214.4 578.4h1M211.1 575.7h1M210.2 578.7h1M218.0 574.4h1M203.8 583.4h1M205.6 585.9h1M213.8 585.0h1M216.7 571.4h1M206.6 571.3h1M217.3 572.2h1M211.9 567.8h1M203.8 582.5h1M205.6 585.6h1M216.8 579.0h1M204.9 576.0h1M213.2 585.4h1M212.4 567.6h1M216.6 576.9h1M217.2 572.4h1M211.5 586.7h1M217.1 572.4h1M215.7 581.8h1M216.6 579.0h1M205.5 573.2h1" stroke="#308ae7" stroke-opacity="0.85" fill="none"/>
<path d="M208.3 578.8h1M208.4 570.3h1M213.4 578.7h1M213.2 578.6h1M210.8 572.8h1M208.9 572.7h1M206.6 577.3h1M215.4 566.8h1M209.9 578.6h1M207.7 567.1h1M211.6 578.2h1M207.3 578.2h1M211.1 576.1h1M207.7 578.3h1M208.9 578.5h1M207.1 575.6h1M214.5 577.9h1M210.4 565.5h1M213.6 578.5h1M212.2 577.0h1M214.6 577.6h1M210.3 565.6h1M210.8 572.3h1M211.4 577.3h1M210.5 572.8h1M214.3 577.1h1M209.0 566.0h1M211.0 577.1h1M207.2 577.1h1M209.6 572.3h1M209.5 572.9h1M214.7 568.2h1M213.6 577.1h1M210.1 573.0h1M213.2 577.4h1M209.6 573.1h1M210.2 574.5h1M210.1 577.7h1M209.7 573.0h1M213.5 577.5h1M214.1 566.3h1M209.5 573.4h1M209.9 572.1h1M208.5 577.8h1M209.9 565.8h1M208.6 574.5h1M208.5 569.7h1M210.2 577.2h1M211.8 571.3h1M213.5 566.3h1M214.6 566.9h1M208.4 569.4h1M210.8 586.9h1M204.5 577.9h1M208.7 586.5h1M217.4 573.8h1M212.0 586.1h1M213.7 568.0h1M214.1 584.1h1M204.4 583.4h1M213.8 584.4h1M209.9 586.8h1M216.7 572.6h1M216.1 580.3h1M212.5 568.0h1M205.6 584.8h1M204.4 582.8h1M216.2 580.1h1M217.0 573.5h1M208.6 586.2h1M204.5 582.5h1M205.3 576.0h1M214.5 583.1h1" stroke="#2e92ea" stroke-opacity="0.85" fill="none"/>
<path d="M210.5 571.8h1M207.8 575.9h1M213.9 566.5h1M212.5 570.8h1M212.6 566.2h1M210.1 576.6h1M210.1 575.8h1M212.5 570.7h1M208.2 567.4h1M208.1 575.9h1M208.2 576.3h1M214.4 568.2h1M208.1 568.0h1M208.4 575.6h1M213.9 566.7h1M209.2 575.0h1M209.5 575.2h1M209.0 575.4h1M209.3 575.8h1M209.1 575.8h1M210.8 566.2h1M210.2 566.4h1M211.5 566.5h1M204.4 579.3h1M210.3 569.7h1M216.2 575.5h1M213.5 568.3h1M213.8 568.5h1M215.9 576.9h1M208.1 585.7h1M215.4 570.5h1M205.8 574.2h1M208.3 585.7h1M210.7 586.2h1M211.2 569.3h1M210.3 586.3h1M211.9 568.8h1M215.1 570.4h1M204.7 580.7h1M210.8 586.0h1M205.8 574.8h1" stroke="#2a9de6" stroke-opacity="0.85" fill="none"/>
<path d="M213.6 568.9h1M213.0 566.7h1M213.0 569.5h1M208.7 568.4h1M213.7 567.3h1M211.1 570.7h1M213.4 568.8h1M213.0 569.4h1M213.0 567.0h1M208.9 567.7h1M212.9 569.5h1M209.6 567.0h1M209.5 569.6h1M209.1 568.6h1M213.4 567.7h1M210.2 566.9h1M214.1 583.3h1M216.1 573.5h1M209.5 586.0h1M215.8 575.1h1M205.8 583.9h1M205.0 581.8h1M212.7 568.8h1M213.2 584.1h1M214.9 581.6h1M214.7 570.1h1M211.1 569.9h1M209.8 570.5h1M205.4 582.7h1M205.5 583.0h1M215.0 570.9h1M205.8 583.4h1M206.3 583.9h1M214.7 570.5h1M211.7 569.6h1M215.4 580.4h1" stroke="#26aadf" stroke-opacity="0.85" fill="none"/>
<path d="M210.6 570.2h1M212.1 569.9h1M212.2 567.2h1M213.1 567.7h1M211.0 567.1h1M209.6 569.0h1M209.8 569.3h1M213.0 568.2h1M210.7 570.0h1M209.7 567.5h1M210.7 570.0h1M211.8 569.8h1M209.7 567.6h1M212.8 568.6h1M211.4 569.6h1M215.2 576.0h1M213.4 569.1h1M205.4 577.4h1M214.6 570.5h1M215.5 579.4h1M215.4 573.9h1M206.3 574.5h1M215.2 577.1h1M206.7 584.0h1M214.3 570.1h1M211.7 584.7h1M213.3 569.4h1M206.4 583.5h1M212.2 569.7h1M215.2 573.9h1M215.2 578.3h1M214.9 580.7h1" stroke="#22b6d8" stroke-opacity="0.85" fill="none"/>
<path d="M210.6 567.7h1M210.2 568.8h1M210.9 569.3h1M211.4 568.0h1M211.4 569.2h1M210.9 568.5h1M211.1 568.7h1M205.9 576.8h1M215.0 573.1h1M209.8 585.1h1M213.3 569.8h1M206.8 583.7h1M205.1 579.8h1M211.4 584.6h1M214.8 574.6h1M208.1 571.8h1M208.3 571.7h1M209.1 584.8h1M208.4 584.5h1M207.2 573.0h1M212.6 583.7h1M214.6 576.9h1M206.9 573.6h1M207.1 573.1h1M214.5 575.7h1M214.5 575.4h1M213.1 570.4h1M214.9 578.4h1" stroke="#1ec3d2" stroke-opacity="0.85" fill="none"/>
<path d="M209.8 571.2h1M208.0 572.2h1M214.7 580.2h1M214.2 572.4h1M212.5 583.4h1M213.8 571.2h1M214.4 574.8h1M214.5 573.8h1M214.3 576.1h1M213.4 582.4h1M214.5 573.9h1M214.7 579.9h1M214.1 572.1h1M214.7 578.4h1M213.6 582.0h1M205.5 580.2h1M213.4 582.3h1M214.6 578.4h1M212.9 582.9h1M213.0 570.9h1M208.0 583.9h1M212.5 583.2h1M207.1 573.7h1M205.9 577.8h1M207.0 574.8h1M213.4 571.4h1M208.5 572.0h1M210.2 584.2h1M213.4 582.0h1M208.2 583.8h1" stroke="#24c3af" stroke-opacity="0.85" fill="none"/>
<path d="M207.1 574.5h1M212.3 571.1h1M214.4 580.1h1M211.0 583.8h1M209.9 584.1h1M211.2 583.7h1M206.8 576.5h1M213.6 572.4h1M212.6 582.6h1M205.6 579.6h1M209.5 571.7h1M208.9 572.1h1M206.1 577.8h1M213.6 580.9h1M213.5 572.7h1" stroke="#2bc38c" stroke-opacity="0.85" fill="none"/>
<path d="M207.6 574.0h1M207.9 573.2h1M211.9 582.7h1M209.3 572.1h1M210.0 571.8h1M209.7 583.5h1M207.8 582.9h1M211.2 583.0h1M205.9 580.1h1M212.7 581.6h1M210.6 571.8h1M208.0 583.0h1M207.8 573.9h1M213.3 580.9h1M213.9 579.2h1M210.5 571.8h1M208.5 583.2h1M207.6 575.7h1M207.7 575.1h1M209.6 583.4h1" stroke="#32c369" stroke-opacity="0.85" fill="none"/>
<path d="M213.2 580.8h1M210.9 582.9h1M212.5 572.3h1M211.4 571.9h1M209.9 583.2h1M206.0 579.4h1M209.0 583.2h1M212.5 572.5h1M208.7 572.8h1M209.2 572.5h1M213.3 577.2h1M213.6 578.2h1M207.7 576.2h1M206.2 578.7h1M208.0 574.8h1M212.1 572.4h1M209.0 583.0h1M208.6 573.2h1M210.9 572.2h1" stroke="#3fc450" stroke-opacity="0.85" fill="none"/>
<path d="M213.4 578.6h1M213.1 577.7h1M212.8 573.5h1M212.5 573.1h1M206.4 578.7h1M213.0 577.7h1M212.8 575.0h1M209.6 572.8h1M212.6 573.6h1M212.9 579.5h1M206.5 578.9h1M212.9 577.9h1" stroke="#54c843" stroke-opacity="0.85" fill="none"/>
<path d="M210.9 572.6h1M212.3 580.5h1M207.5 577.4h1M212.6 575.2h1M208.9 582.5h1M209.0 573.5h1M212.7 574.5h1M212.6 577.0h1M208.5 576.0h1M207.7 581.8h1M212.1 580.6h1M212.3 573.4h1M212.7 579.5h1M207.9 582.0h1M206.6 579.0h1M208.5 576.3h1M212.0 573.2h1M212.6 579.6h1M212.7 578.9h1M212.7 579.2h1M212.5 575.1h1M209.1 574.0h1M206.6 579.3h1M210.6 581.6h1M208.6 576.5h1" stroke="#68cd37" stroke-opacity="0.85" fill="none"/>
<path d="M211.6 573.2h1M210.8 581.4h1M210.6 573.1h1M212.2 574.2h1M208.2 577.2h1M211.1 573.1h1M207.8 577.6h1M206.9 580.3h1M212.2 574.4h1M207.4 578.1h1M209.1 575.0h1M212.3 579.4h1M211.1 581.1h1M212.3 578.9h1M212.1 576.4h1M210.3 581.6h1M211.4 580.6h1M206.8 579.8h1M211.8 580.0h1M206.9 578.9h1M211.1 580.9h1M212.0 576.0h1M209.1 575.8h1M210.3 581.6h1M212.1 578.1h1M212.0 577.6h1M209.6 574.0h1M211.0 573.4h1M207.3 578.4h1M210.0 581.6h1M207.7 581.1h1" stroke="#7dd12a" stroke-opacity="0.85" fill="none"/>
<path d="M207.2 580.5h1M209.2 581.8h1M211.8 575.7h1M211.8 575.7h1M209.8 574.1h1M211.7 576.8h1M209.6 574.7h1M208.4 581.6h1M211.8 578.8h1M209.7 581.6h1M208.4 577.6h1M210.4 573.7h1M211.6 577.4h1M211.7 577.9h1M211.6 577.7h1M210.4 573.8h1M207.4 580.7h1M207.9 578.1h1M207.2 580.1h1M209.7 576.0h1M207.8 578.2h1M209.9 574.6h1M209.7 575.9h1M209.7 575.4h1M211.4 577.6h1M207.2 579.1h1M211.5 578.6h1M211.2 577.1h1M208.1 581.2h1M209.7 576.9h1M209.9 576.2h1M211.5 575.2h1M211.5 574.7h1M211.5 574.8h1M211.0 574.1h1M207.7 580.8h1M209.9 575.8h1M211.2 576.2h1M210.7 580.5h1M211.3 579.2h1M210.1 575.5h1M211.3 574.6h1M207.4 580.3h1M211.3 575.6h1M208.6 581.4h1" stroke="#9ed625" stroke-opacity="0.85" fill="none"/>
<path d="M209.9 577.1h1M210.2 576.7h1M211.2 575.2h1M209.0 581.4h1M210.9 574.6h1M210.1 577.4h1M210.0 577.4h1M210.6 574.9h1M208.1 578.3h1M210.8 579.8h1M207.8 580.6h1M210.1 580.7h1M210.7 579.3h1M209.6 578.2h1M207.6 579.9h1M209.7 578.2h1M209.6 578.3h1M207.6 579.5h1M208.6 580.9h1" stroke="#c1db21" stroke-opacity="0.85" fill="none"/>
<path d="M210.2 580.1h1M210.0 578.6h1M208.6 580.7h1M209.5 578.6h1M210.0 579.0h1M208.0 580.2h1M208.3 578.9h1M209.9 579.2h1M209.8 579.3h1M208.1 579.9h1M209.6 580.2h1M208.9 579.0h1M209.6 579.5h1M209.5 580.0h1" stroke="#e4e01e" stroke-opacity="0.85" fill="none"/>
<path d="M209.1 580.3h1M208.9 579.2h1M208.9 580.1h1M208.6 580.0h1M208.9 579.9h1" stroke="#eec71a" stroke-opacity="0.85" fill="none"/>
</g>
<rect x="190.0" y="543.7" width="50.4" height="50.9" fill="none" stroke="#a8a8a8" stroke-width="0.9"/>
<text x="217.5" y="538.7" font-size="8.2" text-anchor="middle" fill="#222" stroke="#222" stroke-width="0.12">96.8%</text>
<rect x="166.70" y="521.50" width="80.30" height="80.00" rx="1" fill="none" stroke="#000" stroke-width="1.4"/>
<path d="M166.70 601.50h-2.6M166.70 598.45h-1.4M166.70 595.40h-1.4M166.70 592.34h-1.4M166.70 589.29h-1.4M166.70 586.24h-2.6M166.70 583.19h-1.4M166.70 580.14h-1.4M166.70 577.09h-1.4M166.70 574.03h-1.4M166.70 570.98h-2.6M166.70 567.93h-1.4M166.70 564.88h-1.4M166.70 561.83h-1.4M166.70 558.78h-1.4M166.70 555.72h-2.6M166.70 552.67h-1.4M166.70 549.62h-1.4M166.70 546.57h-1.4M166.70 543.52h-1.4M166.70 540.46h-2.6M166.70 537.41h-1.4M166.70 534.36h-1.4M166.70 531.31h-1.4M166.70 528.26h-1.4M166.70 525.21h-2.6M166.70 522.15h-1.4" stroke="#000" stroke-width="0.9" fill="none"/>
<text x="161.2" y="604.5" font-size="8.6" text-anchor="end" fill="#111">0</text>
<text x="161.2" y="589.2" font-size="8.6" text-anchor="end" fill="#111">50K</text>
<text x="161.2" y="574.0" font-size="8.6" text-anchor="end" fill="#111">100K</text>
<text x="161.2" y="558.7" font-size="8.6" text-anchor="end" fill="#111">150K</text>
<text x="161.2" y="543.5" font-size="8.6" text-anchor="end" fill="#111">200K</text>
<text x="161.2" y="528.2" font-size="8.6" text-anchor="end" fill="#111">250K</text>
<path d="M173.32 601.50v3M183.52 601.50v3M201.15 601.50v3M219.86 601.50v3M237.52 601.50v3M189.00 601.50v1.8M192.20 601.50v1.8M194.47 601.50v1.8M196.24 601.50v1.8M197.68 601.50v1.8M198.89 601.50v1.8M199.95 601.50v1.8M200.88 601.50v1.8M206.62 601.50v1.8M209.83 601.50v1.8M212.10 601.50v1.8M213.86 601.50v1.8M215.30 601.50v1.8M216.52 601.50v1.8M217.57 601.50v1.8M218.50 601.50v1.8M225.33 601.50v1.8M228.54 601.50v1.8M230.81 601.50v1.8M232.57 601.50v1.8M234.01 601.50v1.8M235.23 601.50v1.8M236.28 601.50v1.8M237.21 601.50v1.8M243.00 601.50v1.8M168.31 601.50v1.8M169.91 601.50v1.8M171.52 601.50v1.8M175.13 601.50v1.8M177.14 601.50v1.8M179.15 601.50v1.8M181.15 601.50v1.8" stroke="#000" stroke-width="0.9" fill="none"/>
<g filter="url(#bl)">
<path d="M111.2 655.0h1M100.7 660.5h1M104.3 656.6h1M110.0 667.0h1M107.5 660.2h1M107.2 663.5h1M108.5 670.3h1M98.0 667.7h1" stroke="#6480e1" stroke-opacity="0.85" fill="none"/>
<path d="M73.0 622.2h1M73.9 631.2h1M63.5 612.0h1M69.4 614.4h1M67.0 683.3h1M66.3 613.7h1M65.5 623.8h1M64.4 682.0h1M67.9 676.3h1M64.5 618.1h1M64.9 619.8h1M64.6 678.6h1M62.8 679.4h1M56.9 628.3h1M72.6 651.6h1M105.4 667.2h1M100.6 669.2h1M100.1 669.2h1M105.2 669.8h1M104.9 669.5h1M111.7 662.2h1M110.8 661.7h1M111.4 662.1h1" stroke="#5d7ce0" stroke-opacity="0.85" fill="none"/>
<path d="M55.5 676.0h1M73.9 640.3h1M73.3 656.9h1M72.0 661.3h1M72.1 665.5h1M56.9 678.3h1M73.3 657.8h1M56.3 663.0h1M61.0 676.6h1M56.7 660.7h1M58.9 623.7h1M58.7 624.0h1M69.2 627.8h1M58.1 668.6h1M58.8 629.1h1M60.1 625.1h1M72.6 640.8h1M55.9 652.7h1M60.6 626.6h1M59.5 677.7h1M59.1 629.0h1M58.9 677.9h1M69.2 672.9h1M56.3 656.1h1M56.3 648.8h1M57.5 675.8h1M69.0 673.7h1M68.6 673.6h1M58.2 643.4h1M68.0 625.6h1M72.2 668.1h1M71.9 670.5h1" stroke="#5678e0" stroke-opacity="0.85" fill="none"/>
<path d="M58.6 667.2h1M58.9 667.7h1M70.0 667.4h1M67.4 626.7h1M64.5 672.8h1M57.3 672.7h1M58.2 657.3h1M62.9 626.3h1M57.4 634.7h1M67.8 627.2h1M66.5 671.7h1M70.7 658.5h1M57.6 656.1h1M71.2 641.9h1M67.3 628.9h1M57.1 651.1h1M70.7 652.3h1M59.2 674.1h1M58.0 672.7h1M57.7 637.1h1M70.5 638.5h1M57.3 650.9h1M61.3 630.3h1M71.9 646.1h1M70.7 635.1h1M59.7 632.8h1M64.0 626.9h1M69.6 631.9h1M61.2 647.1h1M71.4 637.2h1M69.3 628.7h1M63.8 675.7h1" stroke="#5074df" stroke-opacity="0.85" fill="none"/>
<path d="M70.1 632.8h1M70.2 640.1h1M70.3 637.9h1M60.2 670.9h1M62.2 672.8h1M57.9 636.6h1M66.0 627.9h1M58.8 672.9h1M59.3 633.6h1M70.0 641.8h1M59.5 673.0h1M58.3 637.3h1M67.8 669.5h1M70.0 662.8h1M60.3 671.6h1M68.5 631.5h1M69.8 636.8h1M68.1 631.4h1M69.9 664.9h1M69.5 665.9h1M69.9 636.1h1M61.8 672.2h1M69.3 655.4h1M69.7 635.0h1M63.8 627.8h1M59.6 659.7h1M61.6 671.3h1M58.5 647.1h1M58.7 649.1h1M69.6 662.6h1M60.1 658.8h1M71.3 645.1h1M68.9 633.3h1M63.3 671.3h1M59.3 634.6h1M71.0 644.6h1M68.4 628.4h1M57.8 640.8h1M69.7 633.3h1M65.6 628.9h1M58.5 634.2h1M69.6 644.0h1M68.8 671.5h1M58.6 669.6h1M62.8 661.1h1" stroke="#4970df" stroke-opacity="0.85" fill="none"/>
<path d="M67.9 635.0h1M69.1 654.4h1M59.5 640.0h1M63.2 629.2h1M68.4 634.3h1M64.1 628.5h1M64.4 628.8h1M62.9 670.3h1M70.6 646.9h1M67.4 632.2h1M64.4 629.5h1M63.6 670.8h1M68.4 637.3h1M59.0 654.5h1M61.5 633.0h1M68.9 657.2h1M62.4 667.3h1M65.8 631.6h1M63.0 630.7h1M59.5 635.2h1M67.3 669.0h1M62.7 631.1h1M60.8 656.2h1M65.4 670.2h1M68.7 663.7h1M68.8 663.0h1M60.0 641.3h1M65.4 631.7h1M68.5 654.4h1M60.7 665.3h1M59.4 654.6h1M60.6 665.1h1M61.0 659.0h1M59.7 638.6h1M69.0 658.8h1M70.5 645.6h1M60.6 634.6h1M66.1 632.7h1M68.3 656.4h1M68.3 665.0h1M63.5 668.9h1M59.0 652.2h1M67.0 664.1h1M66.2 634.6h1M68.2 665.5h1M62.9 631.8h1M59.2 646.8h1M62.5 666.7h1M68.8 653.1h1M62.5 629.3h1M59.0 644.0h1M67.8 631.4h1M63.1 629.8h1M66.6 630.6h1M66.0 630.5h1M63.8 674.3h1M66.4 662.5h1" stroke="#426cde" stroke-opacity="0.85" fill="none"/>
<path d="M69.0 659.6h1M60.0 643.8h1M69.1 652.1h1M61.4 659.3h1M62.1 658.3h1M69.7 644.3h1M67.4 667.6h1M60.2 639.5h1M64.3 664.4h1M61.0 655.7h1M60.3 636.0h1M65.6 665.1h1M63.5 667.2h1M67.2 662.5h1M60.2 662.7h1M59.7 648.3h1M60.8 664.4h1M65.7 635.2h1M62.3 665.9h1M64.6 669.2h1M66.2 665.4h1M63.5 632.6h1M67.2 666.2h1M59.7 647.5h1M63.8 664.9h1M62.1 665.5h1M62.4 656.9h1M60.4 642.9h1M62.8 633.8h1M64.7 633.1h1M69.5 648.9h1M66.0 668.9h1M60.4 662.1h1M69.2 644.8h1M65.1 668.9h1M59.9 646.9h1M64.6 666.4h1M60.8 660.9h1M59.3 643.5h1M59.5 634.0h1M58.9 642.3h1M61.3 630.6h1M59.9 635.5h1M68.6 670.0h1M59.9 663.6h1M69.5 666.1h1M60.2 663.5h1" stroke="#3c69de" stroke-opacity="0.85" fill="none"/>
<path d="M66.1 666.0h1M69.2 645.1h1M60.0 651.4h1M64.8 634.0h1M64.1 633.3h1M62.9 634.2h1M66.7 667.5h1M68.8 644.4h1M63.7 633.5h1M66.9 655.5h1M69.1 647.4h1M64.1 661.4h1M60.6 662.8h1M63.2 659.8h1M65.1 668.4h1M60.7 661.5h1M62.9 664.3h1M60.5 644.5h1M66.0 668.2h1M67.7 652.9h1M66.7 661.7h1M66.7 654.8h1M69.1 650.5h1M63.5 661.7h1M66.1 667.2h1M67.4 657.8h1M68.2 659.8h1M65.5 667.6h1M62.3 664.4h1M63.2 657.3h1M68.5 645.8h1M68.0 641.0h1M60.0 652.7h1M66.6 656.2h1M67.9 660.7h1M63.9 658.7h1M62.2 661.0h1M61.1 662.0h1M68.5 651.3h1M65.5 636.7h1M62.7 661.4h1M60.8 648.7h1M68.6 647.4h1M65.4 646.0h1M69.5 641.9h1M60.3 632.5h1M60.4 637.5h1M61.2 631.3h1M69.0 642.5h1M65.6 645.7h1M67.6 633.2h1M68.9 665.0h1M64.2 662.6h1M63.5 672.9h1" stroke="#3971e0" stroke-opacity="0.85" fill="none"/>
<path d="M60.6 645.7h1M60.6 645.8h1M62.1 663.5h1M61.0 650.1h1M61.7 636.2h1M62.6 662.8h1M64.1 635.5h1M64.8 660.1h1M67.5 644.0h1M62.5 662.0h1M67.7 644.8h1M63.8 656.8h1M62.2 662.9h1M60.4 652.1h1M67.3 643.5h1M61.9 662.0h1M61.4 639.2h1M65.9 654.2h1M64.3 635.9h1M67.4 659.2h1M64.1 657.1h1M67.2 660.7h1M66.1 660.8h1M60.4 652.8h1M64.8 658.3h1M61.9 640.7h1M67.3 660.3h1M65.3 655.6h1M60.6 653.6h1M64.0 636.0h1M61.4 638.3h1M65.9 657.4h1M67.0 660.6h1M65.7 660.4h1M68.6 648.5h1M61.6 641.9h1M65.4 656.9h1M61.5 637.4h1M64.8 656.4h1M65.4 657.1h1M61.8 639.4h1M65.0 657.4h1M63.3 655.2h1M68.6 649.2h1M65.7 660.0h1M61.9 636.8h1M61.8 636.8h1M67.8 633.6h1M66.8 645.0h1M67.3 644.5h1M61.3 631.7h1M64.0 632.1h1M62.6 631.9h1M59.8 668.2h1M62.9 672.3h1M60.2 665.9h1" stroke="#3679e2" stroke-opacity="0.85" fill="none"/>
<path d="M66.5 660.4h1M65.9 658.5h1M66.9 659.4h1M66.7 643.6h1M63.0 655.0h1M62.2 640.9h1M64.8 654.9h1M65.9 659.6h1M62.1 639.4h1M60.9 653.4h1M68.2 650.4h1M68.3 650.4h1M66.9 641.9h1M61.4 647.0h1M63.0 636.6h1M61.4 645.9h1M64.0 636.8h1M61.0 652.7h1M67.4 640.2h1M66.1 638.1h1M62.1 654.2h1M62.3 637.2h1M62.1 638.0h1M61.9 642.7h1M68.2 649.2h1M66.4 645.2h1M67.3 640.5h1M67.0 639.3h1M63.1 640.9h1M66.0 633.1h1M60.1 640.5h1M60.1 641.5h1M61.5 663.7h1M63.6 663.3h1" stroke="#3382e5" stroke-opacity="0.85" fill="none"/>
<path d="M64.4 654.1h1M66.0 644.2h1M62.7 641.6h1M61.6 653.5h1M65.5 638.0h1M62.2 642.4h1M66.7 651.9h1M62.8 637.6h1M67.8 648.5h1M66.3 646.1h1M65.7 644.2h1M66.0 638.5h1M66.1 642.2h1M63.0 637.9h1M65.9 645.1h1M64.6 638.0h1M62.1 649.0h1M63.2 638.1h1M63.5 638.0h1M62.1 647.8h1M66.9 639.6h1M64.4 653.5h1M65.4 652.6h1M62.2 649.7h1M61.9 653.3h1M63.8 638.4h1M66.8 651.5h1M63.7 653.8h1M62.0 653.2h1M65.5 644.6h1M62.0 644.4h1M63.9 653.6h1M67.1 648.1h1M61.3 633.6h1M62.8 645.0h1M67.5 634.9h1M67.6 642.9h1M64.1 663.5h1M64.7 671.7h1M61.1 664.8h1M64.4 671.8h1" stroke="#308ae7" stroke-opacity="0.85" fill="none"/>
<path d="M66.7 651.4h1M66.3 639.1h1M65.9 638.8h1M62.7 642.9h1M64.2 641.9h1M64.3 640.7h1M66.1 641.5h1M67.6 649.6h1M62.5 648.8h1M65.0 652.5h1M62.5 643.3h1M62.5 651.7h1M64.9 641.9h1M65.4 641.8h1M66.6 640.4h1M64.6 639.2h1M66.6 640.2h1M62.5 652.7h1M62.8 643.1h1M62.5 652.8h1M66.1 639.1h1M62.7 651.4h1M63.0 653.1h1M63.0 653.1h1M62.6 643.6h1M62.7 650.1h1M64.5 652.7h1M62.5 646.5h1M64.2 643.3h1M62.7 648.4h1M65.7 639.1h1M62.8 650.9h1M62.7 647.8h1M62.8 650.0h1M65.4 641.2h1M66.8 648.2h1M64.2 652.4h1M65.2 641.0h1M63.5 643.4h1M65.9 647.3h1M63.4 643.4h1M65.3 646.5h1M65.2 646.3h1M65.6 640.9h1M65.3 646.7h1M69.1 637.7h1M61.4 635.3h1M67.0 635.1h1M64.1 633.4h1M61.2 642.9h1M60.8 639.6h1M65.9 664.3h1M67.7 665.2h1M67.6 668.8h1M62.3 664.0h1M66.8 669.8h1M60.7 668.6h1M61.0 669.2h1M61.1 666.0h1M62.5 664.3h1" stroke="#2e92ea" stroke-opacity="0.85" fill="none"/>
<path d="M65.9 651.4h1M65.6 640.6h1M65.6 639.8h1M66.5 648.3h1M62.9 645.0h1M65.7 640.3h1M63.1 644.3h1M63.0 645.4h1M63.1 649.4h1M64.9 646.6h1M63.2 646.0h1M63.5 644.4h1M66.8 649.1h1M63.5 646.8h1M63.4 645.0h1M63.6 647.3h1M63.6 645.1h1M63.4 648.1h1M63.7 645.1h1M63.8 645.3h1M65.7 651.2h1M63.7 646.4h1M64.7 647.2h1M66.5 650.2h1M65.0 651.2h1M63.6 649.6h1M64.4 651.0h1M63.2 633.4h1M69.0 638.8h1M62.5 644.3h1M66.2 634.7h1M62.4 644.1h1M61.3 642.3h1M66.7 643.0h1M62.4 644.1h1M63.5 671.5h1M66.9 664.9h1M68.0 666.7h1" stroke="#2a9de6" stroke-opacity="0.85" fill="none"/>
<path d="M63.9 650.4h1M66.3 649.2h1M65.1 650.9h1M65.9 650.4h1M65.2 648.3h1M66.0 650.0h1M64.9 648.5h1M65.5 648.9h1M64.7 649.2h1M64.6 649.3h1M65.2 650.1h1M65.3 649.2h1M64.9 649.7h1M61.1 639.7h1M68.2 637.2h1M66.6 635.7h1M64.7 644.1h1M65.7 635.0h1M68.5 639.0h1M63.3 644.1h1M67.0 641.8h1M62.2 635.1h1M63.3 664.6h1M67.7 667.0h1M67.7 666.5h1M66.2 669.6h1M61.2 667.8h1" stroke="#26aadf" stroke-opacity="0.85" fill="none"/>
<path d="M64.9 649.7h1M68.3 639.6h1M68.4 638.0h1M62.6 643.5h1M68.3 639.0h1M67.0 636.5h1M63.4 634.3h1M61.7 639.3h1M64.0 644.0h1M64.5 643.9h1M67.3 640.9h1M62.5 635.0h1M68.0 637.8h1M67.2 640.9h1M66.5 669.0h1M65.9 669.7h1M61.4 667.7h1M62.9 670.5h1M62.7 665.7h1" stroke="#22b6d8" stroke-opacity="0.85" fill="none"/>
<path d="M62.4 642.6h1M63.3 634.7h1M61.9 639.4h1M65.3 643.1h1M63.1 634.9h1M62.9 635.2h1M64.5 635.1h1M64.2 643.4h1M67.1 637.4h1M66.3 665.6h1M67.1 667.3h1M63.6 665.5h1M61.7 668.1h1M63.1 670.2h1" stroke="#1ec3d2" stroke-opacity="0.85" fill="none"/>
<path d="M65.9 642.1h1M65.6 642.4h1M67.7 639.0h1M62.1 639.7h1M62.1 640.2h1M62.2 641.0h1M66.7 640.4h1M62.5 641.2h1M63.6 635.5h1M63.0 637.2h1M63.5 635.6h1M67.0 639.6h1M62.9 669.9h1M63.3 666.2h1M62.0 667.9h1M62.6 666.7h1M63.6 670.2h1M65.3 665.9h1M64.4 666.0h1M65.7 666.0h1M62.6 666.9h1M64.3 670.0h1M66.4 667.5h1" stroke="#24c3af" stroke-opacity="0.85" fill="none"/>
<path d="M65.6 641.8h1M67.3 638.6h1M63.4 635.9h1M65.2 636.5h1M65.1 641.9h1M66.8 639.0h1M64.1 642.2h1M65.9 666.2h1M62.6 669.3h1M65.5 666.2h1M65.9 666.5h1M66.1 666.8h1M65.9 667.5h1M64.7 669.3h1M63.8 669.7h1M62.9 669.2h1" stroke="#2bc38c" stroke-opacity="0.85" fill="none"/>
<path d="M66.3 638.0h1M63.6 641.8h1M63.4 637.2h1M64.3 636.5h1M62.9 639.5h1M62.9 639.9h1M65.6 637.5h1M63.7 641.3h1M65.4 640.5h1M64.3 641.5h1M63.5 637.9h1M65.8 638.0h1M63.9 641.1h1M64.5 637.1h1M63.4 639.1h1M63.3 667.2h1M64.9 668.8h1M65.3 668.1h1M64.5 669.2h1M63.1 668.3h1M63.6 669.2h1" stroke="#32c369" stroke-opacity="0.85" fill="none"/>
<path d="M64.9 640.2h1M63.9 637.9h1M64.1 637.6h1M64.2 637.9h1M64.9 639.4h1M64.9 639.3h1M63.9 639.3h1M64.8 638.2h1M64.5 639.5h1M64.0 667.7h1M63.6 668.0h1" stroke="#3fc450" stroke-opacity="0.85" fill="none"/>
</g>
<rect x="77.5" y="630.4" width="50.4" height="51.5" fill="none" stroke="#a8a8a8" stroke-width="0.9"/>
<text x="103.7" y="624.8" font-size="8.2" text-anchor="middle" fill="#222" stroke="#222" stroke-width="0.12">1.2%</text>
<rect x="54.50" y="607.60" width="79.70" height="79.90" rx="1" fill="none" stroke="#000" stroke-width="1.4"/>
<path d="M54.50 687.50h-2.6M54.50 684.45h-1.4M54.50 681.40h-1.4M54.50 678.36h-1.4M54.50 675.31h-1.4M54.50 672.26h-2.6M54.50 669.21h-1.4M54.50 666.16h-1.4M54.50 663.12h-1.4M54.50 660.07h-1.4M54.50 657.02h-2.6M54.50 653.97h-1.4M54.50 650.92h-1.4M54.50 647.88h-1.4M54.50 644.83h-1.4M54.50 641.78h-2.6M54.50 638.73h-1.4M54.50 635.68h-1.4M54.50 632.64h-1.4M54.50 629.59h-1.4M54.50 626.54h-2.6M54.50 623.49h-1.4M54.50 620.45h-1.4M54.50 617.40h-1.4M54.50 614.35h-1.4M54.50 611.30h-2.6M54.50 608.25h-1.4" stroke="#000" stroke-width="0.9" fill="none"/>
<text x="49.6" y="690.5" font-size="8.6" text-anchor="end" fill="#111">0</text>
<text x="49.6" y="675.3" font-size="8.6" text-anchor="end" fill="#111">50K</text>
<text x="49.6" y="660.0" font-size="8.6" text-anchor="end" fill="#111">100K</text>
<text x="49.6" y="644.8" font-size="8.6" text-anchor="end" fill="#111">150K</text>
<text x="49.6" y="629.5" font-size="8.6" text-anchor="end" fill="#111">200K</text>
<text x="49.6" y="614.3" font-size="8.6" text-anchor="end" fill="#111">250K</text>
<path d="M61.08 687.50v3M71.20 687.50v3M88.69 687.50v3M107.26 687.50v3M124.80 687.50v3M76.63 687.50v1.8M79.81 687.50v1.8M82.07 687.50v1.8M83.81 687.50v1.8M85.24 687.50v1.8M86.45 687.50v1.8M87.50 687.50v1.8M88.42 687.50v1.8M94.13 687.50v1.8M97.30 687.50v1.8M99.56 687.50v1.8M101.31 687.50v1.8M102.74 687.50v1.8M103.95 687.50v1.8M104.99 687.50v1.8M105.92 687.50v1.8M112.70 687.50v1.8M115.87 687.50v1.8M118.13 687.50v1.8M119.88 687.50v1.8M121.31 687.50v1.8M122.52 687.50v1.8M123.56 687.50v1.8M124.49 687.50v1.8M130.23 687.50v1.8M56.09 687.50v1.8M57.69 687.50v1.8M59.28 687.50v1.8M62.87 687.50v1.8M64.86 687.50v1.8M66.85 687.50v1.8M68.85 687.50v1.8" stroke="#000" stroke-width="0.9" fill="none"/>
<text x="61.1" y="701.3" font-size="8" text-anchor="middle" fill="#111">0</text>
<text x="66.8" y="701.3" font-size="8" fill="#111">10<tspan dy="-3.3" font-size="6">2</tspan></text>
<text x="84.3" y="701.3" font-size="8" fill="#111">10<tspan dy="-3.3" font-size="6">3</tspan></text>
<text x="102.9" y="701.3" font-size="8" fill="#111">10<tspan dy="-3.3" font-size="6">4</tspan></text>
<text x="120.4" y="701.3" font-size="8" fill="#111">10<tspan dy="-3.3" font-size="6">5</tspan></text>
<g filter="url(#bl)">
<path d="M192.0 629.8h1M201.1 635.9h1M204.3 641.8h1M178.9 639.5h1M169.5 669.9h1M180.5 631.7h1M185.2 631.5h1M192.7 677.1h1M197.3 667.7h1M193.7 672.7h1M186.6 675.0h1M205.9 651.9h1M184.3 639.7h1M188.9 672.4h1M186.9 637.0h1M205.3 648.4h1M210.0 659.4h1M197.9 654.3h1M203.9 669.8h1M168.7 656.1h1M171.8 652.4h1M190.3 638.9h1M200.9 673.5h1M201.2 652.0h1M171.8 654.8h1M170.6 658.3h1M199.8 649.0h1M186.0 643.5h1M177.3 670.6h1M202.3 671.9h1M189.3 641.1h1M174.1 664.2h1M191.3 663.9h1M180.1 668.8h1M196.1 647.4h1M187.0 652.7h1M189.7 648.8h1M194.3 653.5h1M189.4 667.5h1M189.5 661.0h1M201.8 649.8h1M170.9 665.1h1M177.1 646.9h1M205.1 659.9h1M178.9 645.9h1M178.3 664.4h1M174.4 659.2h1M179.2 670.6h1M177.3 645.0h1M171.6 662.3h1M199.0 662.0h1M179.2 663.7h1M206.9 658.3h1M186.5 654.2h1M173.4 658.7h1M185.7 647.2h1M192.6 660.4h1M205.4 658.3h1M187.4 658.7h1M178.7 660.0h1M226.1 621.8h1M207.3 683.2h1M226.8 667.6h1M217.9 627.9h1M222.0 630.3h1M228.8 630.2h1M229.5 626.4h1M226.0 627.6h1M203.4 676.5h1M232.5 652.2h1M214.2 630.9h1M214.1 679.9h1M217.0 631.9h1M206.2 678.0h1M225.4 634.0h1M205.4 665.5h1M211.2 686.4h1M212.0 639.8h1M204.4 668.6h1M205.5 670.3h1M221.5 677.6h1" stroke="#5d7ce0" stroke-opacity="0.85" fill="none"/>
<path d="M186.0 646.9h1M192.6 654.8h1M196.3 662.9h1M195.7 659.4h1M191.2 668.0h1M195.8 662.6h1M195.3 650.3h1M183.8 667.7h1M190.3 644.1h1M178.4 658.1h1M194.8 650.4h1M192.4 657.1h1M172.0 664.0h1M193.9 647.8h1M191.4 647.0h1M191.4 659.5h1M181.6 665.8h1M199.0 660.0h1M192.6 666.5h1M192.1 648.1h1M179.0 658.4h1M182.6 658.8h1M192.5 666.3h1M182.1 656.8h1M184.6 657.5h1M188.5 645.0h1M197.5 658.5h1M183.6 656.5h1M189.1 644.3h1M198.0 658.8h1M184.3 660.3h1M184.9 661.0h1M181.6 652.5h1M182.6 652.6h1M182.2 653.5h1M189.4 655.6h1M181.7 652.5h1M189.0 657.2h1M190.3 655.6h1M189.8 656.8h1M186.1 665.4h1M229.0 638.5h1M229.8 650.7h1M207.3 667.3h1M223.5 635.0h1M229.6 640.4h1M214.2 676.9h1M220.6 675.3h1M211.6 676.4h1M208.1 675.7h1M228.4 643.6h1M208.2 675.4h1M220.8 673.2h1M228.2 640.0h1M211.5 675.3h1M220.8 674.2h1M211.3 644.8h1M208.7 666.0h1M216.8 675.8h1M206.7 654.1h1M219.2 671.6h1M224.3 663.6h1M217.0 674.8h1M215.5 675.3h1M214.4 646.3h1M222.8 649.4h1M212.0 681.8h1M205.6 665.5h1M219.6 649.9h1M217.8 648.7h1M208.1 677.2h1" stroke="#5678e0" stroke-opacity="0.85" fill="none"/>
<path d="M185.4 662.8h1M184.1 665.9h1M183.6 665.1h1M184.3 663.8h1M184.7 663.7h1M226.6 654.6h1M208.6 671.8h1M211.1 649.2h1M207.3 654.2h1M209.1 652.1h1M208.8 671.6h1M211.5 667.8h1M223.4 664.4h1M210.1 673.0h1M227.9 646.0h1M222.9 665.0h1M218.1 670.3h1M220.2 635.1h1M218.6 668.9h1M214.9 639.2h1M225.1 639.7h1M211.7 647.8h1M220.6 635.5h1M215.9 672.4h1M210.1 665.2h1M208.7 654.0h1M225.0 639.8h1M212.9 678.8h1M222.2 669.5h1M212.8 652.3h1M215.3 650.1h1" stroke="#5074df" stroke-opacity="0.85" fill="none"/>
<path d="M184.8 664.7h1M184.9 664.2h1M210.5 671.5h1M226.0 652.9h1M220.1 667.6h1M223.6 661.0h1M212.0 647.3h1M225.1 657.4h1M211.3 670.9h1M216.4 670.4h1M226.2 642.8h1M221.3 666.1h1M220.4 636.0h1M227.7 649.8h1M216.5 668.8h1M216.2 638.6h1M213.7 672.8h1M212.7 645.1h1M216.0 671.0h1M227.3 647.0h1M210.1 653.1h1M217.5 637.7h1M209.1 656.5h1M222.4 637.9h1M215.3 640.1h1M225.0 655.8h1M211.9 671.6h1M219.7 636.5h1M213.4 669.5h1M227.0 646.9h1M225.4 652.7h1M214.1 669.1h1M218.7 637.2h1M209.8 655.7h1M226.8 650.6h1M213.5 672.2h1M215.4 640.8h1M209.2 657.5h1M214.8 642.2h1M215.1 641.6h1M226.9 650.4h1M222.1 638.1h1M214.5 671.8h1M209.8 677.7h1M224.4 662.2h1M210.5 677.9h1M215.5 650.8h1M220.5 652.8h1M222.3 668.1h1M210.6 654.4h1M207.4 660.9h1M207.5 661.8h1M208.2 670.1h1" stroke="#4970df" stroke-opacity="0.85" fill="none"/>
<path d="M227.1 648.6h1M209.3 658.8h1M213.1 670.8h1M225.3 642.4h1M214.3 643.4h1M224.5 657.3h1M213.7 671.4h1M222.7 639.0h1M220.3 666.3h1M209.6 660.9h1M226.7 648.8h1M225.7 651.1h1M221.4 662.8h1M216.7 641.4h1M223.9 640.7h1M209.8 663.1h1M218.1 667.1h1M221.6 662.2h1M217.8 639.2h1M211.7 652.7h1M209.8 658.4h1M211.3 653.7h1M218.0 639.3h1M213.5 645.7h1M219.1 638.3h1M223.8 658.6h1M209.8 657.2h1M216.7 651.8h1M219.3 673.4h1M222.9 655.1h1M223.6 662.1h1M219.5 672.8h1M209.5 673.6h1M222.7 665.0h1M211.0 655.7h1" stroke="#426cde" stroke-opacity="0.85" fill="none"/>
<path d="M218.1 639.4h1M218.9 666.5h1M210.9 663.8h1M221.1 638.7h1M223.7 658.3h1M212.8 651.4h1M223.9 642.0h1M223.1 640.8h1M211.5 654.1h1M210.6 657.5h1M210.5 663.0h1M211.0 657.0h1M224.9 644.4h1M224.6 643.6h1M223.8 654.3h1M225.3 646.8h1M213.0 665.9h1M224.9 644.6h1M220.2 663.8h1M218.7 666.0h1M210.4 661.4h1M217.8 642.7h1M224.4 643.7h1M219.4 665.4h1M213.7 649.8h1M223.7 654.1h1M210.7 659.5h1M223.6 654.8h1M222.7 659.5h1M210.6 661.7h1M210.8 662.7h1M211.3 663.2h1M224.7 645.3h1M219.6 664.7h1M213.6 651.1h1M208.3 661.9h1M223.5 657.8h1M216.8 652.9h1M217.6 674.3h1M222.7 664.6h1M213.9 675.9h1M217.4 653.2h1M213.9 654.4h1M218.8 672.9h1M210.9 675.6h1" stroke="#3c69de" stroke-opacity="0.85" fill="none"/>
<path d="M210.9 660.7h1M214.5 667.0h1M222.6 659.5h1M221.1 661.2h1M220.5 647.2h1M221.4 645.9h1M219.7 647.7h1M221.0 647.0h1M221.7 640.2h1M219.6 640.5h1M220.0 639.9h1M222.9 656.2h1M222.5 659.2h1M211.4 658.1h1M220.2 639.9h1M213.8 666.5h1M222.6 658.7h1M220.5 640.0h1M220.5 648.6h1M213.5 652.1h1M211.5 662.5h1M213.2 652.6h1M221.0 647.8h1M216.1 643.7h1M224.6 649.3h1M219.1 664.3h1M219.2 664.0h1M222.2 657.9h1M215.3 666.7h1M213.9 666.3h1M219.1 643.9h1M222.5 645.2h1M211.8 658.7h1M224.2 646.4h1M214.8 651.1h1M218.9 645.0h1M218.0 643.7h1M219.4 643.2h1M222.8 645.2h1M214.4 649.4h1M212.0 659.6h1M223.8 650.3h1M212.6 662.0h1M223.3 645.5h1M215.5 651.3h1M214.6 651.7h1M223.7 650.3h1M212.9 662.1h1M224.3 648.9h1M221.5 659.6h1M219.4 662.6h1M214.2 647.8h1M218.2 649.3h1M222.3 643.2h1M222.1 643.5h1M214.8 675.2h1M212.0 655.5h1M208.1 665.4h1M216.7 674.3h1M213.1 654.9h1M218.9 654.2h1M212.6 675.6h1M217.1 654.2h1M209.4 662.3h1M223.0 659.2h1M210.2 659.3h1M218.1 654.2h1M210.4 658.9h1" stroke="#3971e0" stroke-opacity="0.85" fill="none"/>
<path d="M220.8 640.9h1M223.4 646.3h1M219.9 642.1h1M218.6 650.0h1M214.7 645.7h1M217.0 643.9h1M222.0 647.7h1M223.2 650.5h1M214.6 666.3h1M221.5 658.5h1M213.8 665.6h1M223.8 647.5h1M215.2 649.7h1M215.7 644.5h1M212.7 654.5h1M223.9 648.4h1M218.3 644.8h1M223.3 647.0h1M221.7 641.9h1M213.7 665.1h1M216.4 665.7h1M215.2 645.0h1M221.7 643.0h1M218.4 650.5h1M220.5 642.9h1M212.8 654.4h1M217.4 664.7h1M218.8 650.4h1M213.9 652.9h1M212.7 659.1h1M213.6 660.7h1M223.1 649.9h1M221.5 649.9h1M213.8 661.0h1M220.9 643.0h1M220.9 642.9h1M222.3 648.9h1M216.5 649.4h1M215.2 649.2h1M223.2 648.1h1M221.2 642.2h1M219.2 662.0h1M223.2 648.8h1M221.2 642.4h1M217.7 644.6h1M217.7 648.4h1M214.2 662.9h1M222.5 651.4h1M214.1 663.2h1M214.1 663.4h1M215.6 665.8h1M213.3 659.7h1M213.0 654.9h1M214.3 663.3h1M214.7 647.4h1M222.5 652.0h1M219.5 661.2h1M217.3 663.6h1M208.8 664.2h1M214.6 655.3h1M216.4 655.0h1M213.5 655.6h1M212.2 675.3h1M221.1 655.3h1M219.9 668.7h1M221.7 655.7h1M222.0 655.9h1M218.8 654.8h1M208.6 667.3h1M211.3 674.7h1M212.3 656.8h1M220.7 666.7h1M209.6 663.3h1" stroke="#3679e2" stroke-opacity="0.85" fill="none"/>
<path d="M222.2 655.4h1M214.9 665.6h1M219.9 660.7h1M220.4 650.6h1M216.7 664.4h1M217.9 646.3h1M215.9 665.2h1M217.4 648.2h1M217.9 646.6h1M215.4 662.4h1M216.7 664.2h1M215.0 646.6h1M215.2 648.2h1M216.7 663.3h1M220.9 650.8h1M221.6 651.0h1M216.4 644.9h1M214.9 663.6h1M217.9 662.1h1M217.4 647.7h1M213.4 658.7h1M220.4 659.0h1M216.7 662.4h1M213.2 655.8h1M215.7 648.4h1M215.7 648.4h1M214.9 664.3h1M215.2 647.7h1M216.3 645.2h1M217.2 662.1h1M215.3 664.6h1M213.3 656.9h1M217.3 661.9h1M217.8 652.0h1M221.9 655.3h1M218.5 651.7h1M217.6 652.2h1M208.7 667.2h1M221.9 656.1h1M210.0 670.9h1M218.3 655.3h1M213.2 656.5h1M215.0 655.9h1M211.4 674.3h1M211.1 673.9h1M212.8 674.6h1M212.6 657.4h1" stroke="#3382e5" stroke-opacity="0.85" fill="none"/>
<path d="M214.8 660.1h1M219.4 660.2h1M216.9 646.0h1M215.9 646.3h1M218.6 660.9h1M219.2 651.6h1M214.0 658.4h1M216.8 647.0h1M213.6 655.9h1M216.8 646.7h1M221.8 652.4h1M216.6 646.4h1M216.6 646.5h1M219.4 659.7h1M219.0 651.9h1M213.7 655.7h1M216.1 653.0h1M214.0 657.9h1M219.5 659.1h1M220.5 656.2h1M214.8 653.8h1M219.5 658.4h1M215.3 659.8h1M221.6 663.5h1M216.2 673.3h1M215.6 656.2h1M209.5 664.7h1M210.5 671.3h1M209.1 666.7h1M218.2 671.3h1M219.2 655.7h1M210.7 660.7h1M221.0 664.6h1M213.8 657.0h1M210.0 664.1h1M215.8 673.2h1M212.3 658.1h1M211.3 673.1h1M214.4 673.6h1" stroke="#308ae7" stroke-opacity="0.85" fill="none"/>
<path d="M221.7 654.5h1M214.7 658.9h1M216.5 660.5h1M219.1 659.1h1M217.0 660.4h1M221.1 655.1h1M215.2 659.0h1M217.1 660.2h1M215.6 659.4h1M216.5 660.0h1M220.0 652.3h1M220.0 655.9h1M214.8 673.4h1M220.8 664.5h1M210.5 670.1h1M221.2 663.1h1M211.2 671.9h1M210.6 663.8h1M221.4 657.1h1M213.8 673.4h1M210.9 670.9h1M216.7 672.2h1" stroke="#2e92ea" stroke-opacity="0.85" fill="none"/>
<path d="M216.7 660.0h1M219.3 656.6h1M221.3 653.2h1M221.3 653.1h1M214.6 657.3h1M214.4 656.3h1M220.5 652.6h1M218.2 659.4h1M214.5 655.5h1M220.8 652.9h1M218.8 657.3h1M217.2 659.7h1M220.9 654.6h1M218.0 659.3h1M219.2 656.1h1M216.3 653.7h1M220.6 654.8h1M218.7 657.5h1M220.6 653.0h1M220.9 653.3h1M220.0 652.9h1M217.1 653.6h1M212.7 673.3h1M212.5 673.2h1M211.6 672.1h1M209.8 666.6h1M209.8 666.8h1M219.6 666.9h1M217.8 670.7h1M221.2 657.2h1M211.5 659.8h1M209.9 667.0h1M219.4 667.1h1M221.5 660.9h1M210.1 667.8h1M211.7 659.5h1M216.7 657.1h1M217.6 670.9h1M218.0 670.0h1" stroke="#2a9de6" stroke-opacity="0.85" fill="none"/>
<path d="M218.4 658.1h1M216.7 653.7h1M214.8 655.5h1M214.9 655.2h1M217.2 659.2h1M218.3 657.9h1M216.4 653.9h1M220.5 653.7h1M220.6 653.8h1M220.1 654.6h1M220.1 654.6h1M216.1 658.4h1M220.4 653.9h1M218.0 653.9h1M219.1 655.3h1M219.2 654.9h1M219.8 654.0h1M218.3 654.1h1M215.5 657.1h1M216.5 658.2h1M213.2 672.7h1M212.2 659.1h1M212.6 672.4h1M210.8 665.0h1M211.3 663.8h1M216.0 672.1h1M210.6 668.8h1M212.5 672.0h1M211.0 664.9h1M211.9 659.6h1M210.7 665.6h1M220.2 657.2h1M219.1 657.2h1M212.0 671.2h1" stroke="#26aadf" stroke-opacity="0.85" fill="none"/>
<path d="M216.9 658.3h1M217.8 654.2h1M217.7 657.7h1M218.5 655.3h1M215.6 656.9h1M218.0 656.4h1M216.5 654.4h1M216.5 657.6h1M216.0 657.2h1M217.3 657.4h1M217.3 657.4h1M217.3 654.5h1M217.1 654.5h1M217.5 657.0h1M215.7 655.4h1M215.7 656.2h1M215.7 655.7h1M216.3 654.9h1M215.5 657.6h1M221.1 658.3h1M220.1 664.1h1M221.1 658.3h1M216.6 657.5h1M221.3 659.9h1M210.9 668.9h1M221.2 659.7h1M210.7 668.2h1M218.0 657.5h1M219.9 657.4h1M218.4 668.3h1M215.0 672.0h1M219.4 665.6h1M217.0 670.7h1M220.7 658.0h1M216.7 671.0h1M219.7 657.5h1M217.8 669.3h1M219.3 665.9h1M220.7 661.6h1M220.2 663.0h1M219.6 657.5h1M221.0 660.4h1" stroke="#22b6d8" stroke-opacity="0.85" fill="none"/>
<path d="M216.3 655.0h1M216.8 654.9h1M216.2 655.4h1M217.1 656.3h1M216.6 655.2h1M216.9 655.3h1M216.4 655.6h1M215.1 671.8h1M217.7 657.7h1M218.1 668.6h1M212.7 671.2h1M214.4 671.8h1M219.9 657.7h1M220.8 660.8h1M217.5 669.7h1M220.9 660.0h1M213.0 671.2h1M211.8 661.6h1M220.5 661.4h1M220.7 658.7h1M217.7 669.0h1M216.7 670.6h1M216.7 658.0h1M220.6 660.9h1M216.3 658.0h1" stroke="#1ec3d2" stroke-opacity="0.85" fill="none"/>
<path d="M219.7 663.7h1M220.7 659.3h1M211.6 669.0h1M214.1 671.4h1M219.1 665.2h1M211.4 666.3h1M218.7 666.2h1M219.4 658.3h1M212.0 661.2h1M219.3 658.3h1M212.4 670.0h1M211.3 667.8h1M220.2 660.9h1M220.3 659.7h1M212.2 662.6h1" stroke="#24c3af" stroke-opacity="0.85" fill="none"/>
<path d="M211.4 667.5h1M211.9 668.9h1M219.5 663.3h1M212.5 669.8h1M212.3 664.8h1M211.9 668.8h1M211.7 666.9h1M220.0 660.1h1M219.7 659.2h1M217.3 658.6h1M218.2 666.8h1M218.2 666.5h1M219.7 661.5h1M217.9 667.5h1M216.0 670.3h1" stroke="#2bc38c" stroke-opacity="0.85" fill="none"/>
<path d="M215.1 670.7h1M215.1 670.7h1M211.9 666.9h1M217.9 658.9h1M217.8 658.9h1M218.7 659.1h1M216.5 658.6h1M218.4 665.4h1M219.3 662.4h1M219.1 659.6h1M212.1 666.3h1M212.4 669.0h1M215.2 670.5h1M214.8 670.5h1M212.2 666.2h1M212.6 660.7h1M219.2 660.5h1M219.1 660.2h1" stroke="#32c369" stroke-opacity="0.85" fill="none"/>
<path d="M218.9 660.1h1M212.6 662.2h1M215.8 658.9h1M212.8 663.3h1M217.3 667.7h1M215.9 658.9h1M216.1 659.0h1M218.1 665.1h1M213.0 664.7h1M217.7 666.3h1M219.0 661.9h1M217.1 668.0h1M212.5 668.0h1M218.7 663.5h1M218.5 664.1h1M212.8 665.7h1M214.9 670.0h1M214.2 669.9h1M218.8 663.1h1M214.7 670.0h1M215.0 670.0h1M214.6 659.3h1" stroke="#3fc450" stroke-opacity="0.85" fill="none"/>
<path d="M217.0 667.7h1M213.1 669.0h1M213.0 668.9h1M212.9 666.0h1M212.8 661.7h1M218.7 662.6h1M212.9 660.9h1M217.3 666.9h1M213.4 669.2h1M215.8 659.2h1M214.5 669.7h1M217.1 666.9h1M216.0 668.9h1M212.9 661.8h1M213.3 664.2h1M217.4 659.8h1M212.8 667.3h1M213.6 660.0h1M218.2 664.2h1M212.9 667.9h1M214.9 669.6h1M214.8 669.6h1M213.2 665.9h1M216.7 667.8h1" stroke="#54c843" stroke-opacity="0.85" fill="none"/>
<path d="M214.4 659.6h1M217.0 666.7h1M213.5 665.1h1M215.5 659.4h1M217.6 660.2h1M216.0 668.4h1M218.2 661.3h1M213.6 664.5h1M218.4 662.4h1M217.5 660.3h1M213.6 665.5h1M216.8 666.8h1M213.3 660.6h1M213.5 660.4h1M216.9 666.4h1M213.1 661.3h1M215.1 669.0h1M216.1 668.0h1M214.3 669.0h1M214.7 669.0h1M215.9 668.2h1M213.7 664.3h1M213.4 667.4h1M214.0 660.0h1" stroke="#68cd37" stroke-opacity="0.85" fill="none"/>
<path d="M217.4 665.0h1M217.4 660.4h1M213.5 667.6h1M217.5 660.6h1M216.9 665.7h1M214.0 668.5h1M213.9 664.8h1M216.2 667.3h1M213.7 667.9h1M215.1 668.5h1M213.7 667.0h1M214.0 665.5h1M214.7 659.8h1M218.0 663.3h1M215.7 659.8h1M215.9 667.1h1M215.5 667.8h1M214.1 666.4h1M214.2 667.9h1M214.0 667.1h1M215.4 667.7h1M214.1 667.5h1M216.5 660.1h1" stroke="#7dd12a" stroke-opacity="0.85" fill="none"/>
<path d="M214.2 667.5h1M214.2 667.1h1M213.4 661.8h1M217.3 664.4h1M213.7 660.7h1M214.3 664.8h1M215.2 667.2h1M214.6 667.3h1M214.4 664.9h1M215.8 665.9h1M215.2 666.3h1M214.9 660.0h1M214.1 660.4h1M214.0 663.6h1M215.3 666.0h1M215.0 665.7h1M215.3 665.8h1M215.9 665.4h1M215.9 665.4h1M216.6 664.8h1M217.5 663.5h1M217.7 663.0h1M217.5 661.6h1M215.0 660.1h1M217.5 663.5h1M216.2 665.1h1" stroke="#9ed625" stroke-opacity="0.85" fill="none"/>
<path d="M213.9 660.9h1M215.6 660.2h1M213.7 661.9h1M215.3 660.2h1M214.0 660.9h1M215.7 660.3h1M214.0 660.9h1M214.6 660.4h1M217.4 662.5h1M217.3 662.1h1M214.0 662.7h1M213.9 661.8h1M214.6 663.8h1M214.3 663.2h1M215.4 664.5h1" stroke="#c1db21" stroke-opacity="0.85" fill="none"/>
<path d="M216.8 661.4h1M214.1 661.6h1M215.7 664.2h1M217.1 662.6h1M216.4 663.9h1M217.1 662.7h1M214.3 661.2h1M215.8 664.1h1M215.8 664.0h1M216.9 662.1h1M216.7 663.4h1M216.9 662.2h1M216.9 662.2h1" stroke="#e4e01e" stroke-opacity="0.85" fill="none"/>
<path d="M216.0 661.1h1M214.5 662.8h1M214.9 663.4h1M215.2 663.7h1M214.5 662.7h1M216.9 662.7h1M216.7 663.1h1M216.6 661.8h1M215.6 663.7h1M214.6 662.6h1M215.5 661.0h1M215.8 663.7h1M214.5 661.4h1M214.7 661.3h1M214.5 661.7h1M214.5 661.8h1M216.1 663.4h1M215.7 663.5h1M216.2 661.6h1M216.3 663.2h1M216.5 662.6h1" stroke="#eec71a" stroke-opacity="0.85" fill="none"/>
<path d="M215.6 661.4h1M214.9 662.5h1M215.5 661.4h1M216.1 662.2h1M215.7 662.9h1M215.8 662.1h1" stroke="#f2a816" stroke-opacity="0.85" fill="none"/>
</g>
<rect x="190.0" y="629.8" width="50.0" height="51.5" fill="none" stroke="#a8a8a8" stroke-width="0.9"/>
<text x="217.5" y="624.8" font-size="8.2" text-anchor="middle" fill="#222" stroke="#222" stroke-width="0.12">95.7%</text>
<rect x="166.70" y="607.60" width="80.30" height="79.90" rx="1" fill="none" stroke="#000" stroke-width="1.4"/>
<path d="M166.70 687.50h-2.6M166.70 684.45h-1.4M166.70 681.40h-1.4M166.70 678.36h-1.4M166.70 675.31h-1.4M166.70 672.26h-2.6M166.70 669.21h-1.4M166.70 666.16h-1.4M166.70 663.12h-1.4M166.70 660.07h-1.4M166.70 657.02h-2.6M166.70 653.97h-1.4M166.70 650.92h-1.4M166.70 647.88h-1.4M166.70 644.83h-1.4M166.70 641.78h-2.6M166.70 638.73h-1.4M166.70 635.68h-1.4M166.70 632.64h-1.4M166.70 629.59h-1.4M166.70 626.54h-2.6M166.70 623.49h-1.4M166.70 620.45h-1.4M166.70 617.40h-1.4M166.70 614.35h-1.4M166.70 611.30h-2.6M166.70 608.25h-1.4" stroke="#000" stroke-width="0.9" fill="none"/>
<text x="161.2" y="690.5" font-size="8.6" text-anchor="end" fill="#111">0</text>
<text x="161.2" y="675.3" font-size="8.6" text-anchor="end" fill="#111">50K</text>
<text x="161.2" y="660.0" font-size="8.6" text-anchor="end" fill="#111">100K</text>
<text x="161.2" y="644.8" font-size="8.6" text-anchor="end" fill="#111">150K</text>
<text x="161.2" y="629.5" font-size="8.6" text-anchor="end" fill="#111">200K</text>
<text x="161.2" y="614.3" font-size="8.6" text-anchor="end" fill="#111">250K</text>
<path d="M173.32 687.50v3M183.52 687.50v3M201.15 687.50v3M219.86 687.50v3M237.52 687.50v3M189.00 687.50v1.8M192.20 687.50v1.8M194.47 687.50v1.8M196.24 687.50v1.8M197.68 687.50v1.8M198.89 687.50v1.8M199.95 687.50v1.8M200.88 687.50v1.8M206.62 687.50v1.8M209.83 687.50v1.8M212.10 687.50v1.8M213.86 687.50v1.8M215.30 687.50v1.8M216.52 687.50v1.8M217.57 687.50v1.8M218.50 687.50v1.8M225.33 687.50v1.8M228.54 687.50v1.8M230.81 687.50v1.8M232.57 687.50v1.8M234.01 687.50v1.8M235.23 687.50v1.8M236.28 687.50v1.8M237.21 687.50v1.8M243.00 687.50v1.8M168.31 687.50v1.8M169.91 687.50v1.8M171.52 687.50v1.8M175.13 687.50v1.8M177.14 687.50v1.8M179.15 687.50v1.8M181.15 687.50v1.8" stroke="#000" stroke-width="0.9" fill="none"/>
<text x="173.3" y="701.3" font-size="8" text-anchor="middle" fill="#111">0</text>
<text x="179.1" y="701.3" font-size="8" fill="#111">10<tspan dy="-3.3" font-size="6">2</tspan></text>
<text x="196.7" y="701.3" font-size="8" fill="#111">10<tspan dy="-3.3" font-size="6">3</tspan></text>
<text x="215.5" y="701.3" font-size="8" fill="#111">10<tspan dy="-3.3" font-size="6">4</tspan></text>
<text x="233.1" y="701.3" font-size="8" fill="#111">10<tspan dy="-3.3" font-size="6">5</tspan></text>
<line x1="52.70" y1="709.60" x2="205.30" y2="709.60" stroke="#000" stroke-width="1.1"/>
<path d="M210.3 709.6L204.8 707.0L204.8 712.2Z" fill="#000"/>
<text x="214.5" y="712.2" font-size="10" textLength="25.3" lengthAdjust="spacingAndGlyphs">hCD45</text>
<path d="M0 0H520V1.5H0ZM0 0H1.6V722H0ZM518.8 0H520V722H518.8ZM0 720.6H520V722H0Z" fill="#000"/>
</svg>
</body></html>
